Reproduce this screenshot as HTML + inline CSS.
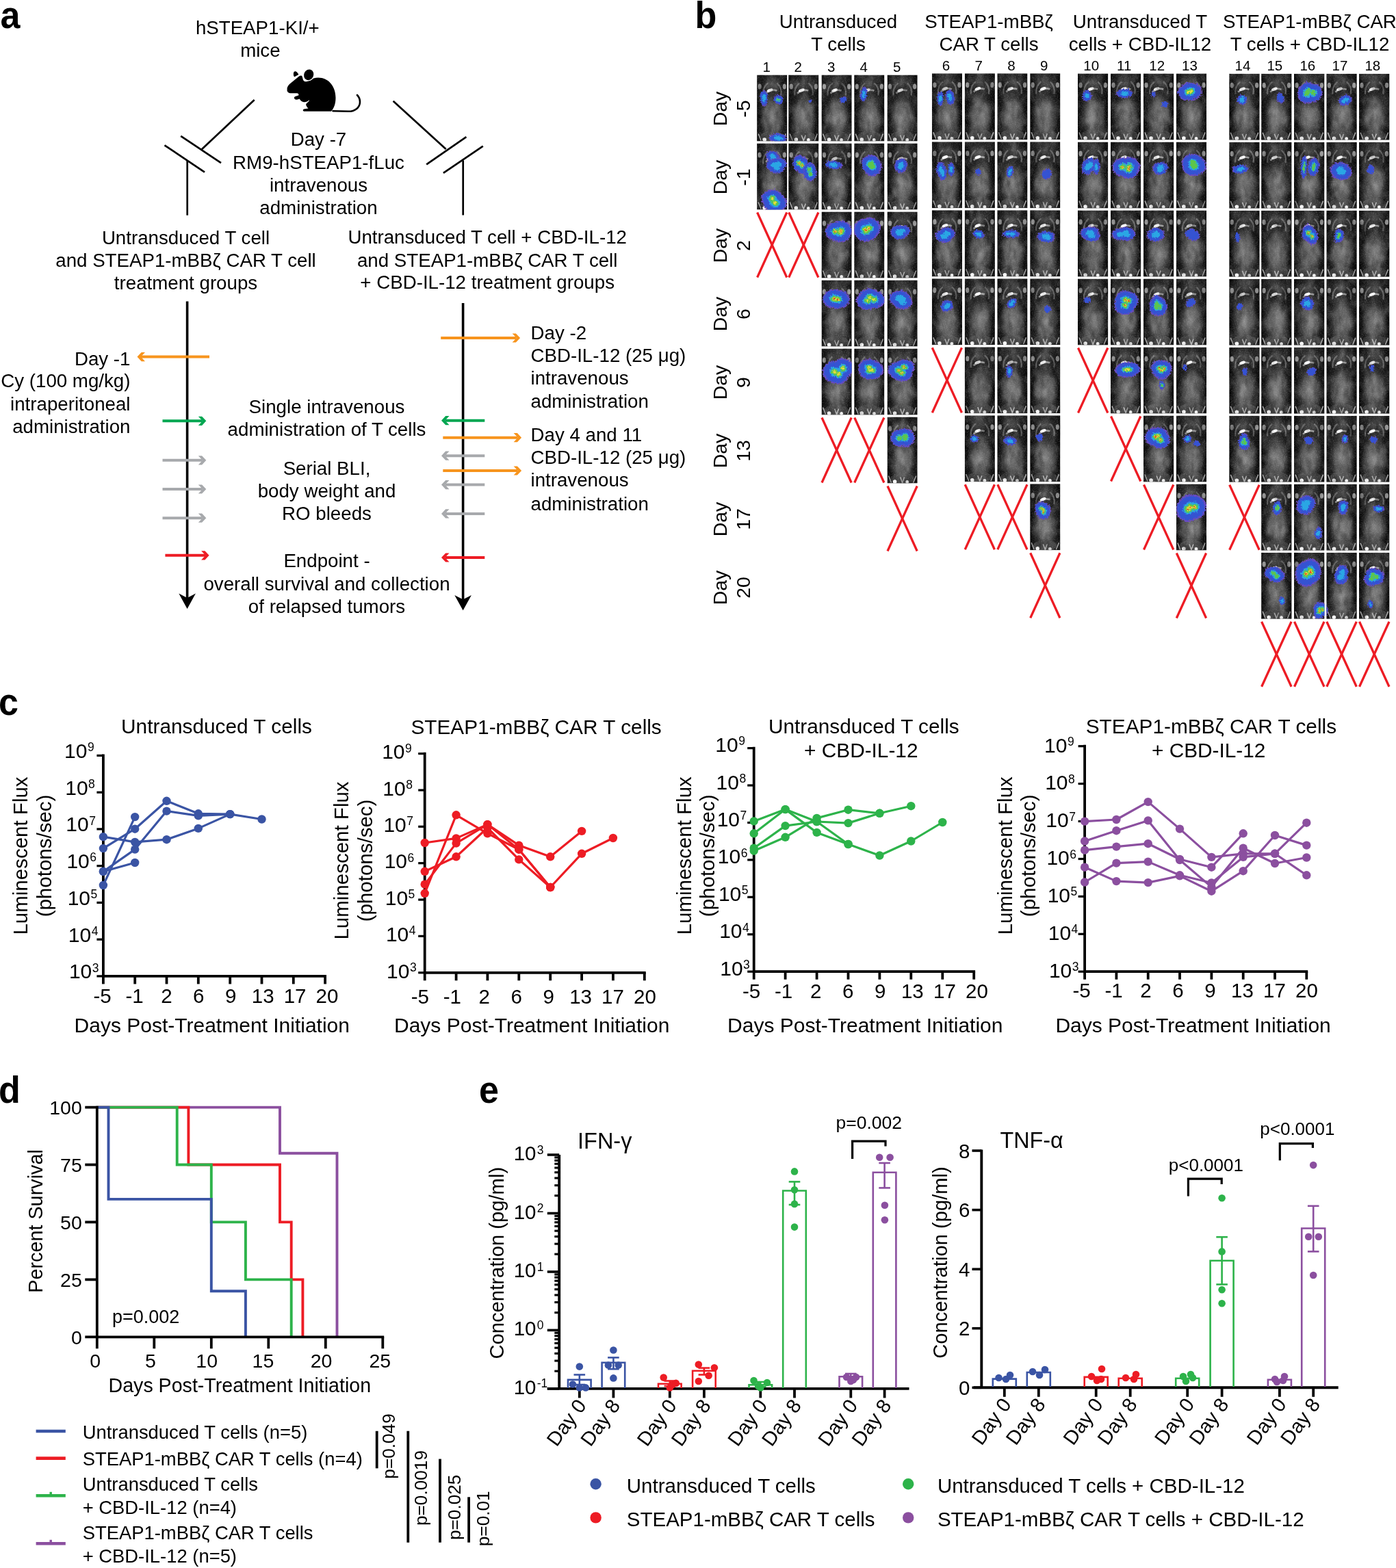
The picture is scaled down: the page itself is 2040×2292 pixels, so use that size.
<!DOCTYPE html>
<html><head><meta charset="utf-8"><title>Figure</title>
<style>html,body{margin:0;padding:0;background:#fff;} svg{display:block;}</style>
</head><body>
<svg width="2040" height="2292" viewBox="0 0 2040 2292" font-family="'Liberation Sans', Arial, Helvetica, sans-serif" fill="#000">
<defs>
<linearGradient id="mside" x1="0" x2="1" y1="0" y2="0">
 <stop offset="0" stop-color="#060606"/><stop offset="0.16" stop-color="#1a1a1a"/>
 <stop offset="0.5" stop-color="#2c2c2c"/><stop offset="0.84" stop-color="#1a1a1a"/><stop offset="1" stop-color="#060606"/>
</linearGradient>
<radialGradient id="mbody" cx="0.5" cy="0.5" r="0.5">
 <stop offset="0" stop-color="#868686" stop-opacity="0.92"/><stop offset="0.6" stop-color="#6c6c6c" stop-opacity="0.7"/>
 <stop offset="1" stop-color="#505050" stop-opacity="0"/>
</radialGradient>
<radialGradient id="mhead" cx="0.5" cy="0.5" r="0.5">
 <stop offset="0" stop-color="#505050" stop-opacity="0.9"/><stop offset="1" stop-color="#444" stop-opacity="0"/>
</radialGradient>
<filter id="tex" x="0" y="0" width="1" height="1" color-interpolation-filters="sRGB">
 <feTurbulence type="fractalNoise" baseFrequency="0.09 0.06" numOctaves="3" seed="7" result="n"/>
 <feColorMatrix in="n" type="matrix" values="0 0 0 0 1  0 0 0 0 1  0 0 0 0 1  0 0 1.6 0 -0.62"/>
</filter>
<filter id="tex2" x="0" y="0" width="1" height="1" color-interpolation-filters="sRGB">
 <feTurbulence type="fractalNoise" baseFrequency="0.11 0.05" numOctaves="2" seed="3" result="n"/>
 <feColorMatrix in="n" type="matrix" values="0 0 0 0 0  0 0 0 0 0  0 0 0 0 0  0 1.8 0 0 -0.75"/>
</filter>
<filter id="grain" x="0" y="0" width="1" height="1" color-interpolation-filters="sRGB">
 <feTurbulence type="fractalNoise" baseFrequency="0.6" numOctaves="1" seed="11" result="n"/>
 <feColorMatrix in="n" type="matrix" values="0 0 0 0 1  0 0 0 0 1  0 0 0 0 1  0 0 2.2 0 -1.0"/>
</filter>
<filter id="rough" x="-10%" y="-10%" width="120%" height="120%">
 <feTurbulence type="turbulence" baseFrequency="0.35" numOctaves="2" seed="5" result="t"/>
 <feDisplacementMap in="SourceGraphic" in2="t" scale="5" xChannelSelector="R" yChannelSelector="G"/>
</filter>
<symbol id="mouse" viewBox="0 0 44 97" preserveAspectRatio="none">
 <rect width="44" height="97" fill="url(#mside)"/>
 <ellipse cx="22.5" cy="62" rx="19" ry="34" fill="url(#mbody)"/>
 <ellipse cx="22" cy="90" rx="17" ry="8" fill="#5e5e5e" opacity="0.45"/>
 <ellipse cx="22" cy="13" rx="15" ry="12" fill="url(#mhead)"/>
 <path d="M9,30 Q8,18 16,12" fill="none" stroke="#9a9a9a" stroke-width="2.2" opacity="0.5"/>
 <path d="M35,30 Q37,18 29,12" fill="none" stroke="#9a9a9a" stroke-width="2.2" opacity="0.5"/>
 <path d="M13,27 Q20,20 29,23" fill="none" stroke="#b0b0b0" stroke-width="2.6" opacity="0.8"/>
 <ellipse cx="19" cy="22.5" rx="4.5" ry="2.2" transform="rotate(-20 19 22.5)" fill="#fafafa"/>
 <ellipse cx="4" cy="17" rx="2.6" ry="4" fill="#c0c0c0" opacity="0.7"/>
 <ellipse cx="40" cy="17" rx="2.6" ry="4" fill="#c0c0c0" opacity="0.7"/>
 <ellipse cx="11" cy="94.5" rx="2.8" ry="2.8" fill="#f6f6f6"/>
 <ellipse cx="29" cy="95" rx="2.4" ry="2.4" fill="#f0f0f0"/>
 <path d="M2,86 L6,96 M42,86 L38,96 M19,88 L22,96 L25,88" fill="none" stroke="#d8d8d8" stroke-width="1.6" opacity="0.75"/>
</symbol></defs>
<rect width="2040" height="2292" fill="#fff"/>
<text transform="translate(0.4,40.5) scale(0.93,1)" font-size="56" font-weight="bold">a</text>
<text x="376.3" y="49.6" font-size="27.7" text-anchor="middle">hSTEAP1-KI/+</text>
<text x="380.4" y="83.1" font-size="27.7" text-anchor="middle">mice</text>
<g fill="#000"><path d="M419.6,131 C419,128 421,125 423,123 L437,111.5 C439,110 441,110 441.5,111.5 L443,117 C445,120 448,120 452,117.5 C456,115 460,113.5 465,113.5 C480,113.5 490.5,126 490.5,143 C490.5,152 488,158 484,162.8 L445,162.8 C442,162.8 442,159.5 445,159.2 L450.5,158.6 C448,156 446.5,153 447.5,151.5 C450,149.5 451.5,148 452,146.5 C449,149 446,149.5 443,149 C440,148.5 439,146 437.5,144.5 C435.5,145.5 432,146.5 430.5,144.5 C429,142.5 430.5,141 433,140.5 L436.5,139.2 C436.5,138 436,136.5 434,136.3 L426,136.3 C421.5,136.3 419,134 419.6,131 Z"/><ellipse cx="451.2" cy="109.3" rx="7.6" ry="8.7" transform="rotate(25 451.2 109.3)" stroke="#fff" stroke-width="1.3"/><path d="M429.8,113.2 C427.3,109.5 427.8,104.6 430.8,103.8 C433,103.4 435.8,106.6 437.2,109.2 Z" stroke="#fff" stroke-width="1.1"/><path d="M486.5,162.3 L509,162.8 C519,162.8 526,157 526,149 C526,145 524.5,141.5 522,139" fill="none" stroke="#000" stroke-width="2.6" stroke-linecap="round"/><path d="M451.5,146.8 C449.5,148.8 447,150.5 446.5,152" fill="none" stroke="#fff" stroke-width="0.9"/></g>
<line x1="371.7" y1="146.0" x2="294.8" y2="218.2" stroke="#000" stroke-width="2.7" stroke-linecap="butt"/>
<line x1="264.2" y1="198.9" x2="323.0" y2="238.1" stroke="#000" stroke-width="2.7" stroke-linecap="butt"/>
<line x1="240.5" y1="212.3" x2="299.0" y2="251.7" stroke="#000" stroke-width="2.7" stroke-linecap="butt"/>
<line x1="273.7" y1="234.5" x2="273.7" y2="314.7" stroke="#000" stroke-width="2.7" stroke-linecap="butt"/>
<line x1="574.6" y1="147.7" x2="651.7" y2="218.0" stroke="#000" stroke-width="2.7" stroke-linecap="butt"/>
<line x1="623.2" y1="240.3" x2="681.4" y2="200.2" stroke="#000" stroke-width="2.7" stroke-linecap="butt"/>
<line x1="647.9" y1="252.8" x2="705.8" y2="213.6" stroke="#000" stroke-width="2.7" stroke-linecap="butt"/>
<line x1="676.7" y1="234.4" x2="676.7" y2="314.5" stroke="#000" stroke-width="2.7" stroke-linecap="butt"/>
<text x="465.5" y="213.2" font-size="27.7" text-anchor="middle">Day -7</text>
<text x="465.5" y="247.0" font-size="27.7" text-anchor="middle">RM9-hSTEAP1-fLuc</text>
<text x="465.5" y="279.7" font-size="27.7" text-anchor="middle">intravenous</text>
<text x="465.5" y="313.2" font-size="27.7" text-anchor="middle">administration</text>
<text x="271.5" y="357.3" font-size="27.7" text-anchor="middle">Untransduced T cell</text>
<text x="271.5" y="390.3" font-size="27.7" text-anchor="middle">and STEAP1-mBBζ CAR T cell</text>
<text x="271.5" y="423.3" font-size="27.7" text-anchor="middle">treatment groups</text>
<text x="712.2" y="356.0" font-size="27.7" text-anchor="middle">Untransduced T cell + CBD-IL-12</text>
<text x="712.2" y="389.6" font-size="27.7" text-anchor="middle">and STEAP1-mBBζ CAR T cell</text>
<text x="712.2" y="422.3" font-size="27.7" text-anchor="middle">+ CBD-IL-12 treatment groups</text>
<line x1="273.6" y1="440.6" x2="273.6" y2="877.9" stroke="#000" stroke-width="3.6" stroke-linecap="butt"/>
<path d="M273.6,889.9 L261.3,867.5 L273.6,873.9 L285.9,867.5 Z" fill="#000"/>
<line x1="676.6" y1="443.0" x2="676.6" y2="880.3" stroke="#000" stroke-width="3.6" stroke-linecap="butt"/>
<path d="M676.6,892.3 L664.3,869.9 L676.6,876.3 L688.9,869.9 Z" fill="#000"/>
<line x1="306.0" y1="521.6" x2="206.0" y2="521.6" stroke="#F7941D" stroke-width="4.0" stroke-linecap="butt"/><polygon points="200.5,521.6 206.7,515.0 212.0,515.0 205.8,521.6 212.0,528.2 206.7,528.2" fill="#F7941D"/>
<line x1="237.5" y1="615.3" x2="295.8" y2="615.3" stroke="#00A651" stroke-width="4.0" stroke-linecap="butt"/><polygon points="301.3,615.3 295.1,608.7 289.8,608.7 296.0,615.3 289.8,621.9 295.1,621.9" fill="#00A651"/>
<line x1="237.5" y1="672.8" x2="295.8" y2="672.8" stroke="#A7A9AC" stroke-width="4.0" stroke-linecap="butt"/><polygon points="301.3,672.8 295.1,666.2 289.8,666.2 296.0,672.8 289.8,679.4 295.1,679.4" fill="#A7A9AC"/>
<line x1="237.5" y1="715.0" x2="295.8" y2="715.0" stroke="#A7A9AC" stroke-width="4.0" stroke-linecap="butt"/><polygon points="301.3,715.0 295.1,708.4 289.8,708.4 296.0,715.0 289.8,721.6 295.1,721.6" fill="#A7A9AC"/>
<line x1="237.5" y1="757.2" x2="295.8" y2="757.2" stroke="#A7A9AC" stroke-width="4.0" stroke-linecap="butt"/><polygon points="301.3,757.2 295.1,750.6 289.8,750.6 296.0,757.2 289.8,763.8 295.1,763.8" fill="#A7A9AC"/>
<line x1="241.4" y1="811.8" x2="300.1" y2="811.8" stroke="#ED1C24" stroke-width="4.0" stroke-linecap="butt"/><polygon points="305.6,811.8 299.4,805.2 294.1,805.2 300.3,811.8 294.1,818.4 299.4,818.4" fill="#ED1C24"/>
<line x1="644.2" y1="494.0" x2="754.6" y2="494.0" stroke="#F7941D" stroke-width="4.0" stroke-linecap="butt"/><polygon points="760.1,494.0 753.9,487.4 748.6,487.4 754.8,494.0 748.6,500.6 753.9,500.6" fill="#F7941D"/>
<line x1="647.3" y1="639.7" x2="756.6" y2="639.7" stroke="#F7941D" stroke-width="4.0" stroke-linecap="butt"/><polygon points="762.1,639.7 755.9,633.1 750.6,633.1 756.8,639.7 750.6,646.3 755.9,646.3" fill="#F7941D"/>
<line x1="647.3" y1="688.0" x2="756.6" y2="688.0" stroke="#F7941D" stroke-width="4.0" stroke-linecap="butt"/><polygon points="762.1,688.0 755.9,681.4 750.6,681.4 756.8,688.0 750.6,694.6 755.9,694.6" fill="#F7941D"/>
<line x1="708.3" y1="614.7" x2="650.5" y2="614.7" stroke="#00A651" stroke-width="4.0" stroke-linecap="butt"/><polygon points="645.0,614.7 651.2,608.1 656.5,608.1 650.3,614.7 656.5,621.3 651.2,621.3" fill="#00A651"/>
<line x1="708.3" y1="666.2" x2="650.5" y2="666.2" stroke="#A7A9AC" stroke-width="4.0" stroke-linecap="butt"/><polygon points="645.0,666.2 651.2,659.6 656.5,659.6 650.3,666.2 656.5,672.8 651.2,672.8" fill="#A7A9AC"/>
<line x1="708.3" y1="708.6" x2="650.5" y2="708.6" stroke="#A7A9AC" stroke-width="4.0" stroke-linecap="butt"/><polygon points="645.0,708.6 651.2,702.0 656.5,702.0 650.3,708.6 656.5,715.2 651.2,715.2" fill="#A7A9AC"/>
<line x1="708.3" y1="750.9" x2="650.5" y2="750.9" stroke="#A7A9AC" stroke-width="4.0" stroke-linecap="butt"/><polygon points="645.0,750.9 651.2,744.3 656.5,744.3 650.3,750.9 656.5,757.5 651.2,757.5" fill="#A7A9AC"/>
<line x1="708.3" y1="815.0" x2="650.5" y2="815.0" stroke="#ED1C24" stroke-width="4.0" stroke-linecap="butt"/><polygon points="645.0,815.0 651.2,808.4 656.5,808.4 650.3,815.0 656.5,821.6 651.2,821.6" fill="#ED1C24"/>
<text x="190.5" y="533.5" font-size="27.7" text-anchor="end">Day -1</text>
<text x="190.5" y="565.7" font-size="27.7" text-anchor="end">Cy (100 mg/kg)</text>
<text x="190.5" y="600.2" font-size="27.7" text-anchor="end">intraperitoneal</text>
<text x="190.5" y="633.2" font-size="27.7" text-anchor="end">administration</text>
<text x="477.5" y="604.0" font-size="27.7" text-anchor="middle">Single intravenous</text>
<text x="477.5" y="636.9" font-size="27.7" text-anchor="middle">administration of T cells</text>
<text x="477.5" y="693.9" font-size="27.7" text-anchor="middle">Serial BLI,</text>
<text x="477.5" y="726.8" font-size="27.7" text-anchor="middle">body weight and</text>
<text x="477.5" y="759.6" font-size="27.7" text-anchor="middle">RO bleeds</text>
<text x="477.5" y="828.7" font-size="27.7" text-anchor="middle">Endpoint -</text>
<text x="477.5" y="862.8" font-size="27.7" text-anchor="middle">overall survival and collection</text>
<text x="477.5" y="895.7" font-size="27.7" text-anchor="middle">of relapsed tumors</text>
<text x="775.5" y="496.0" font-size="27.7" text-anchor="start">Day -2</text>
<text x="775.5" y="528.9" font-size="27.7" text-anchor="start">CBD-IL-12 (25 μg)</text>
<text x="775.5" y="561.7" font-size="27.7" text-anchor="start">intravenous</text>
<text x="775.5" y="596.0" font-size="27.7" text-anchor="start">administration</text>
<text x="775.5" y="644.8" font-size="27.7" text-anchor="start">Day 4 and 11</text>
<text x="775.5" y="678.1" font-size="27.7" text-anchor="start">CBD-IL-12 (25 μg)</text>
<text x="775.5" y="710.9" font-size="27.7" text-anchor="start">intravenous</text>
<text x="775.5" y="745.6" font-size="27.7" text-anchor="start">administration</text>
<text transform="translate(1015.4,41.0) scale(0.93,1)" font-size="56" font-weight="bold">b</text>
<text x="1225.0" y="41.2" font-size="27.7" text-anchor="middle">Untransduced</text>
<text x="1225.0" y="74.3" font-size="27.7" text-anchor="middle">T cells</text>
<text x="1445.0" y="41.2" font-size="27.7" text-anchor="middle">STEAP1-mBBζ</text>
<text x="1445.0" y="74.3" font-size="27.7" text-anchor="middle">CAR T cells</text>
<text x="1666.0" y="41.2" font-size="27.7" text-anchor="middle">Untransduced T</text>
<text x="1666.0" y="74.3" font-size="27.7" text-anchor="middle">cells + CBD-IL12</text>
<text x="1914.0" y="41.2" font-size="27.7" text-anchor="middle">STEAP1-mBBζ CAR</text>
<text x="1914.0" y="74.3" font-size="27.7" text-anchor="middle">T cells + CBD-IL12</text>
<text x="1120.2" y="104.8" font-size="20.5" text-anchor="middle">1</text>
<text x="1166.3" y="104.8" font-size="20.5" text-anchor="middle">2</text>
<text x="1214.6" y="104.8" font-size="20.5" text-anchor="middle">3</text>
<text x="1262.3" y="104.8" font-size="20.5" text-anchor="middle">4</text>
<text x="1310.6" y="104.8" font-size="20.5" text-anchor="middle">5</text>
<text x="1382.4" y="102.6" font-size="20.5" text-anchor="middle">6</text>
<text x="1430.3" y="102.6" font-size="20.5" text-anchor="middle">7</text>
<text x="1477.9" y="102.6" font-size="20.5" text-anchor="middle">8</text>
<text x="1525.8" y="102.6" font-size="20.5" text-anchor="middle">9</text>
<text x="1594.7" y="102.6" font-size="20.5" text-anchor="middle">10</text>
<text x="1642.7" y="102.6" font-size="20.5" text-anchor="middle">11</text>
<text x="1690.7" y="102.6" font-size="20.5" text-anchor="middle">12</text>
<text x="1738.5" y="102.6" font-size="20.5" text-anchor="middle">13</text>
<text x="1816.0" y="103.1" font-size="20.5" text-anchor="middle">14</text>
<text x="1862.8" y="103.1" font-size="20.5" text-anchor="middle">15</text>
<text x="1910.8" y="103.1" font-size="20.5" text-anchor="middle">16</text>
<text x="1958.0" y="103.1" font-size="20.5" text-anchor="middle">17</text>
<text x="2005.8" y="103.1" font-size="20.5" text-anchor="middle">18</text>
<text transform="translate(1061.9,159.0) rotate(-90)" font-size="28.5" text-anchor="middle">Day</text>
<text transform="translate(1095.5,159.0) rotate(-90)" font-size="28.5" text-anchor="middle">-5</text>
<text transform="translate(1061.9,259.0) rotate(-90)" font-size="28.5" text-anchor="middle">Day</text>
<text transform="translate(1095.5,259.0) rotate(-90)" font-size="28.5" text-anchor="middle">-1</text>
<text transform="translate(1061.9,359.0) rotate(-90)" font-size="28.5" text-anchor="middle">Day</text>
<text transform="translate(1095.5,359.0) rotate(-90)" font-size="28.5" text-anchor="middle">2</text>
<text transform="translate(1061.9,459.0) rotate(-90)" font-size="28.5" text-anchor="middle">Day</text>
<text transform="translate(1095.5,459.0) rotate(-90)" font-size="28.5" text-anchor="middle">6</text>
<text transform="translate(1061.9,559.0) rotate(-90)" font-size="28.5" text-anchor="middle">Day</text>
<text transform="translate(1095.5,559.0) rotate(-90)" font-size="28.5" text-anchor="middle">9</text>
<text transform="translate(1061.9,659.0) rotate(-90)" font-size="28.5" text-anchor="middle">Day</text>
<text transform="translate(1095.5,659.0) rotate(-90)" font-size="28.5" text-anchor="middle">13</text>
<text transform="translate(1061.9,759.0) rotate(-90)" font-size="28.5" text-anchor="middle">Day</text>
<text transform="translate(1095.5,759.0) rotate(-90)" font-size="28.5" text-anchor="middle">17</text>
<text transform="translate(1061.9,859.0) rotate(-90)" font-size="28.5" text-anchor="middle">Day</text>
<text transform="translate(1095.5,859.0) rotate(-90)" font-size="28.5" text-anchor="middle">20</text>
<clipPath id="cellclip"><rect x="1106.1" y="109.5" width="44.2" height="97.0"/><rect x="1106.1" y="209.5" width="44.2" height="97.0"/><rect x="1152.2" y="109.5" width="44.2" height="97.0"/><rect x="1152.2" y="209.5" width="44.2" height="97.0"/><rect x="1200.5" y="109.5" width="44.2" height="97.0"/><rect x="1200.5" y="209.5" width="44.2" height="97.0"/><rect x="1200.5" y="309.5" width="44.2" height="97.0"/><rect x="1200.5" y="409.5" width="44.2" height="97.0"/><rect x="1200.5" y="509.5" width="44.2" height="97.0"/><rect x="1248.2" y="109.5" width="44.2" height="97.0"/><rect x="1248.2" y="209.5" width="44.2" height="97.0"/><rect x="1248.2" y="309.5" width="44.2" height="97.0"/><rect x="1248.2" y="409.5" width="44.2" height="97.0"/><rect x="1248.2" y="509.5" width="44.2" height="97.0"/><rect x="1296.5" y="109.5" width="44.2" height="97.0"/><rect x="1296.5" y="209.5" width="44.2" height="97.0"/><rect x="1296.5" y="309.5" width="44.2" height="97.0"/><rect x="1296.5" y="409.5" width="44.2" height="97.0"/><rect x="1296.5" y="509.5" width="44.2" height="97.0"/><rect x="1296.5" y="609.5" width="44.2" height="97.0"/><rect x="1361.8" y="107.3" width="44.2" height="97.0"/><rect x="1361.8" y="207.3" width="44.2" height="97.0"/><rect x="1361.8" y="307.3" width="44.2" height="97.0"/><rect x="1361.8" y="407.3" width="44.2" height="97.0"/><rect x="1409.7" y="107.3" width="44.2" height="97.0"/><rect x="1409.7" y="207.3" width="44.2" height="97.0"/><rect x="1409.7" y="307.3" width="44.2" height="97.0"/><rect x="1409.7" y="407.3" width="44.2" height="97.0"/><rect x="1409.7" y="507.3" width="44.2" height="97.0"/><rect x="1409.7" y="607.3" width="44.2" height="97.0"/><rect x="1457.3" y="107.3" width="44.2" height="97.0"/><rect x="1457.3" y="207.3" width="44.2" height="97.0"/><rect x="1457.3" y="307.3" width="44.2" height="97.0"/><rect x="1457.3" y="407.3" width="44.2" height="97.0"/><rect x="1457.3" y="507.3" width="44.2" height="97.0"/><rect x="1457.3" y="607.3" width="44.2" height="97.0"/><rect x="1505.2" y="107.3" width="44.2" height="97.0"/><rect x="1505.2" y="207.3" width="44.2" height="97.0"/><rect x="1505.2" y="307.3" width="44.2" height="97.0"/><rect x="1505.2" y="407.3" width="44.2" height="97.0"/><rect x="1505.2" y="507.3" width="44.2" height="97.0"/><rect x="1505.2" y="607.3" width="44.2" height="97.0"/><rect x="1505.2" y="707.3" width="44.2" height="97.0"/><rect x="1575.0" y="107.5" width="44.3" height="97.0"/><rect x="1575.0" y="207.5" width="44.3" height="97.0"/><rect x="1575.0" y="307.5" width="44.3" height="97.0"/><rect x="1575.0" y="407.5" width="44.3" height="97.0"/><rect x="1623.0" y="107.5" width="44.3" height="97.0"/><rect x="1623.0" y="207.5" width="44.3" height="97.0"/><rect x="1623.0" y="307.5" width="44.3" height="97.0"/><rect x="1623.0" y="407.5" width="44.3" height="97.0"/><rect x="1623.0" y="507.5" width="44.3" height="97.0"/><rect x="1671.0" y="107.5" width="44.3" height="97.0"/><rect x="1671.0" y="207.5" width="44.3" height="97.0"/><rect x="1671.0" y="307.5" width="44.3" height="97.0"/><rect x="1671.0" y="407.5" width="44.3" height="97.0"/><rect x="1671.0" y="507.5" width="44.3" height="97.0"/><rect x="1671.0" y="607.5" width="44.3" height="97.0"/><rect x="1718.8" y="107.5" width="44.3" height="97.0"/><rect x="1718.8" y="207.5" width="44.3" height="97.0"/><rect x="1718.8" y="307.5" width="44.3" height="97.0"/><rect x="1718.8" y="407.5" width="44.3" height="97.0"/><rect x="1718.8" y="507.5" width="44.3" height="97.0"/><rect x="1718.8" y="607.5" width="44.3" height="97.0"/><rect x="1718.8" y="707.5" width="44.3" height="97.0"/><rect x="1796.2" y="107.7" width="44.5" height="97.0"/><rect x="1796.2" y="207.7" width="44.5" height="97.0"/><rect x="1796.2" y="307.7" width="44.5" height="97.0"/><rect x="1796.2" y="407.7" width="44.5" height="97.0"/><rect x="1796.2" y="507.7" width="44.5" height="97.0"/><rect x="1796.2" y="607.7" width="44.5" height="97.0"/><rect x="1843.1" y="107.7" width="44.5" height="97.0"/><rect x="1843.1" y="207.7" width="44.5" height="97.0"/><rect x="1843.1" y="307.7" width="44.5" height="97.0"/><rect x="1843.1" y="407.7" width="44.5" height="97.0"/><rect x="1843.1" y="507.7" width="44.5" height="97.0"/><rect x="1843.1" y="607.7" width="44.5" height="97.0"/><rect x="1843.1" y="707.7" width="44.5" height="97.0"/><rect x="1843.1" y="807.7" width="44.5" height="97.0"/><rect x="1891.0" y="107.7" width="44.5" height="97.0"/><rect x="1891.0" y="207.7" width="44.5" height="97.0"/><rect x="1891.0" y="307.7" width="44.5" height="97.0"/><rect x="1891.0" y="407.7" width="44.5" height="97.0"/><rect x="1891.0" y="507.7" width="44.5" height="97.0"/><rect x="1891.0" y="607.7" width="44.5" height="97.0"/><rect x="1891.0" y="707.7" width="44.5" height="97.0"/><rect x="1891.0" y="807.7" width="44.5" height="97.0"/><rect x="1938.3" y="107.7" width="44.5" height="97.0"/><rect x="1938.3" y="207.7" width="44.5" height="97.0"/><rect x="1938.3" y="307.7" width="44.5" height="97.0"/><rect x="1938.3" y="407.7" width="44.5" height="97.0"/><rect x="1938.3" y="507.7" width="44.5" height="97.0"/><rect x="1938.3" y="607.7" width="44.5" height="97.0"/><rect x="1938.3" y="707.7" width="44.5" height="97.0"/><rect x="1938.3" y="807.7" width="44.5" height="97.0"/><rect x="1986.0" y="107.7" width="44.5" height="97.0"/><rect x="1986.0" y="207.7" width="44.5" height="97.0"/><rect x="1986.0" y="307.7" width="44.5" height="97.0"/><rect x="1986.0" y="407.7" width="44.5" height="97.0"/><rect x="1986.0" y="507.7" width="44.5" height="97.0"/><rect x="1986.0" y="607.7" width="44.5" height="97.0"/><rect x="1986.0" y="707.7" width="44.5" height="97.0"/><rect x="1986.0" y="807.7" width="44.5" height="97.0"/></clipPath>
<g><use href="#mouse" x="1106.1" y="109.5" width="44.2" height="97.0"/><use href="#mouse" x="1106.1" y="209.5" width="44.2" height="97.0"/><use href="#mouse" x="1152.2" y="109.5" width="44.2" height="97.0"/><use href="#mouse" x="1152.2" y="209.5" width="44.2" height="97.0"/><use href="#mouse" x="1200.5" y="109.5" width="44.2" height="97.0"/><use href="#mouse" x="1200.5" y="209.5" width="44.2" height="97.0"/><use href="#mouse" x="1200.5" y="309.5" width="44.2" height="97.0"/><use href="#mouse" x="1200.5" y="409.5" width="44.2" height="97.0"/><use href="#mouse" x="1200.5" y="509.5" width="44.2" height="97.0"/><use href="#mouse" x="1248.2" y="109.5" width="44.2" height="97.0"/><use href="#mouse" x="1248.2" y="209.5" width="44.2" height="97.0"/><use href="#mouse" x="1248.2" y="309.5" width="44.2" height="97.0"/><use href="#mouse" x="1248.2" y="409.5" width="44.2" height="97.0"/><use href="#mouse" x="1248.2" y="509.5" width="44.2" height="97.0"/><use href="#mouse" x="1296.5" y="109.5" width="44.2" height="97.0"/><use href="#mouse" x="1296.5" y="209.5" width="44.2" height="97.0"/><use href="#mouse" x="1296.5" y="309.5" width="44.2" height="97.0"/><use href="#mouse" x="1296.5" y="409.5" width="44.2" height="97.0"/><use href="#mouse" x="1296.5" y="509.5" width="44.2" height="97.0"/><use href="#mouse" x="1296.5" y="609.5" width="44.2" height="97.0"/><use href="#mouse" x="1361.8" y="107.3" width="44.2" height="97.0"/><use href="#mouse" x="1361.8" y="207.3" width="44.2" height="97.0"/><use href="#mouse" x="1361.8" y="307.3" width="44.2" height="97.0"/><use href="#mouse" x="1361.8" y="407.3" width="44.2" height="97.0"/><use href="#mouse" x="1409.7" y="107.3" width="44.2" height="97.0"/><use href="#mouse" x="1409.7" y="207.3" width="44.2" height="97.0"/><use href="#mouse" x="1409.7" y="307.3" width="44.2" height="97.0"/><use href="#mouse" x="1409.7" y="407.3" width="44.2" height="97.0"/><use href="#mouse" x="1409.7" y="507.3" width="44.2" height="97.0"/><use href="#mouse" x="1409.7" y="607.3" width="44.2" height="97.0"/><use href="#mouse" x="1457.3" y="107.3" width="44.2" height="97.0"/><use href="#mouse" x="1457.3" y="207.3" width="44.2" height="97.0"/><use href="#mouse" x="1457.3" y="307.3" width="44.2" height="97.0"/><use href="#mouse" x="1457.3" y="407.3" width="44.2" height="97.0"/><use href="#mouse" x="1457.3" y="507.3" width="44.2" height="97.0"/><use href="#mouse" x="1457.3" y="607.3" width="44.2" height="97.0"/><use href="#mouse" x="1505.2" y="107.3" width="44.2" height="97.0"/><use href="#mouse" x="1505.2" y="207.3" width="44.2" height="97.0"/><use href="#mouse" x="1505.2" y="307.3" width="44.2" height="97.0"/><use href="#mouse" x="1505.2" y="407.3" width="44.2" height="97.0"/><use href="#mouse" x="1505.2" y="507.3" width="44.2" height="97.0"/><use href="#mouse" x="1505.2" y="607.3" width="44.2" height="97.0"/><use href="#mouse" x="1505.2" y="707.3" width="44.2" height="97.0"/><use href="#mouse" x="1575.0" y="107.5" width="44.3" height="97.0"/><use href="#mouse" x="1575.0" y="207.5" width="44.3" height="97.0"/><use href="#mouse" x="1575.0" y="307.5" width="44.3" height="97.0"/><use href="#mouse" x="1575.0" y="407.5" width="44.3" height="97.0"/><use href="#mouse" x="1623.0" y="107.5" width="44.3" height="97.0"/><use href="#mouse" x="1623.0" y="207.5" width="44.3" height="97.0"/><use href="#mouse" x="1623.0" y="307.5" width="44.3" height="97.0"/><use href="#mouse" x="1623.0" y="407.5" width="44.3" height="97.0"/><use href="#mouse" x="1623.0" y="507.5" width="44.3" height="97.0"/><use href="#mouse" x="1671.0" y="107.5" width="44.3" height="97.0"/><use href="#mouse" x="1671.0" y="207.5" width="44.3" height="97.0"/><use href="#mouse" x="1671.0" y="307.5" width="44.3" height="97.0"/><use href="#mouse" x="1671.0" y="407.5" width="44.3" height="97.0"/><use href="#mouse" x="1671.0" y="507.5" width="44.3" height="97.0"/><use href="#mouse" x="1671.0" y="607.5" width="44.3" height="97.0"/><use href="#mouse" x="1718.8" y="107.5" width="44.3" height="97.0"/><use href="#mouse" x="1718.8" y="207.5" width="44.3" height="97.0"/><use href="#mouse" x="1718.8" y="307.5" width="44.3" height="97.0"/><use href="#mouse" x="1718.8" y="407.5" width="44.3" height="97.0"/><use href="#mouse" x="1718.8" y="507.5" width="44.3" height="97.0"/><use href="#mouse" x="1718.8" y="607.5" width="44.3" height="97.0"/><use href="#mouse" x="1718.8" y="707.5" width="44.3" height="97.0"/><use href="#mouse" x="1796.2" y="107.7" width="44.5" height="97.0"/><use href="#mouse" x="1796.2" y="207.7" width="44.5" height="97.0"/><use href="#mouse" x="1796.2" y="307.7" width="44.5" height="97.0"/><use href="#mouse" x="1796.2" y="407.7" width="44.5" height="97.0"/><use href="#mouse" x="1796.2" y="507.7" width="44.5" height="97.0"/><use href="#mouse" x="1796.2" y="607.7" width="44.5" height="97.0"/><use href="#mouse" x="1843.1" y="107.7" width="44.5" height="97.0"/><use href="#mouse" x="1843.1" y="207.7" width="44.5" height="97.0"/><use href="#mouse" x="1843.1" y="307.7" width="44.5" height="97.0"/><use href="#mouse" x="1843.1" y="407.7" width="44.5" height="97.0"/><use href="#mouse" x="1843.1" y="507.7" width="44.5" height="97.0"/><use href="#mouse" x="1843.1" y="607.7" width="44.5" height="97.0"/><use href="#mouse" x="1843.1" y="707.7" width="44.5" height="97.0"/><use href="#mouse" x="1843.1" y="807.7" width="44.5" height="97.0"/><use href="#mouse" x="1891.0" y="107.7" width="44.5" height="97.0"/><use href="#mouse" x="1891.0" y="207.7" width="44.5" height="97.0"/><use href="#mouse" x="1891.0" y="307.7" width="44.5" height="97.0"/><use href="#mouse" x="1891.0" y="407.7" width="44.5" height="97.0"/><use href="#mouse" x="1891.0" y="507.7" width="44.5" height="97.0"/><use href="#mouse" x="1891.0" y="607.7" width="44.5" height="97.0"/><use href="#mouse" x="1891.0" y="707.7" width="44.5" height="97.0"/><use href="#mouse" x="1891.0" y="807.7" width="44.5" height="97.0"/><use href="#mouse" x="1938.3" y="107.7" width="44.5" height="97.0"/><use href="#mouse" x="1938.3" y="207.7" width="44.5" height="97.0"/><use href="#mouse" x="1938.3" y="307.7" width="44.5" height="97.0"/><use href="#mouse" x="1938.3" y="407.7" width="44.5" height="97.0"/><use href="#mouse" x="1938.3" y="507.7" width="44.5" height="97.0"/><use href="#mouse" x="1938.3" y="607.7" width="44.5" height="97.0"/><use href="#mouse" x="1938.3" y="707.7" width="44.5" height="97.0"/><use href="#mouse" x="1938.3" y="807.7" width="44.5" height="97.0"/><use href="#mouse" x="1986.0" y="107.7" width="44.5" height="97.0"/><use href="#mouse" x="1986.0" y="207.7" width="44.5" height="97.0"/><use href="#mouse" x="1986.0" y="307.7" width="44.5" height="97.0"/><use href="#mouse" x="1986.0" y="407.7" width="44.5" height="97.0"/><use href="#mouse" x="1986.0" y="507.7" width="44.5" height="97.0"/><use href="#mouse" x="1986.0" y="607.7" width="44.5" height="97.0"/><use href="#mouse" x="1986.0" y="707.7" width="44.5" height="97.0"/><use href="#mouse" x="1986.0" y="807.7" width="44.5" height="97.0"/></g>
<g clip-path="url(#cellclip)"><rect x="1100" y="100" width="940" height="820" filter="url(#tex)" opacity="0.22"/><rect x="1100" y="100" width="940" height="820" filter="url(#tex2)" opacity="0.4"/><rect x="1100" y="100" width="940" height="820" filter="url(#grain)" opacity="0.18"/></g>
<g clip-path="url(#cellclip)"><g filter="url(#rough)"><ellipse cx="1114.2" cy="140.0" rx="4.7" ry="8.6" fill="#6a4cc0"/><ellipse cx="1115.2" cy="144.8" rx="5.0" ry="9.2" fill="#6a4cc0"/><ellipse cx="1115.8" cy="140.2" rx="4.8" ry="8.9" fill="#6a4cc0"/><ellipse cx="1114.2" cy="140.0" rx="4.2" ry="7.6" fill="#3452d2"/><ellipse cx="1115.2" cy="144.8" rx="4.4" ry="8.1" fill="#3452d2"/><ellipse cx="1115.8" cy="140.2" rx="4.3" ry="7.8" fill="#3452d2"/><ellipse cx="1114.2" cy="140.0" rx="2.0" ry="3.6" fill="#2aa6e4"/><ellipse cx="1115.2" cy="144.8" rx="2.1" ry="3.9" fill="#2aa6e4"/><ellipse cx="1115.8" cy="140.2" rx="2.0" ry="3.7" fill="#2aa6e4"/><ellipse cx="1137.5" cy="144.7" rx="5.3" ry="6.3" fill="#6a4cc0"/><ellipse cx="1137.5" cy="144.7" rx="5.4" ry="6.4" fill="#6a4cc0"/><ellipse cx="1134.8" cy="144.0" rx="5.4" ry="6.4" fill="#6a4cc0"/><ellipse cx="1137.5" cy="144.7" rx="4.7" ry="5.5" fill="#3452d2"/><ellipse cx="1137.5" cy="144.7" rx="4.8" ry="5.7" fill="#3452d2"/><ellipse cx="1134.8" cy="144.0" rx="4.7" ry="5.6" fill="#3452d2"/><ellipse cx="1137.5" cy="144.7" rx="2.2" ry="2.6" fill="#2aa6e4"/><ellipse cx="1137.5" cy="144.7" rx="2.3" ry="2.7" fill="#2aa6e4"/><ellipse cx="1134.8" cy="144.0" rx="2.3" ry="2.7" fill="#2aa6e4"/><ellipse cx="1137.5" cy="144.7" rx="1.5" ry="1.8" fill="#5cc64c"/><ellipse cx="1137.5" cy="144.7" rx="1.5" ry="1.8" fill="#5cc64c"/><ellipse cx="1134.8" cy="144.0" rx="1.5" ry="1.8" fill="#5cc64c"/><ellipse cx="1135.7" cy="200.4" rx="12.0" ry="6.6" fill="#6a4cc0"/><ellipse cx="1133.8" cy="199.9" rx="10.8" ry="5.9" fill="#6a4cc0"/><ellipse cx="1138.0" cy="201.2" rx="10.7" ry="5.9" fill="#6a4cc0"/><ellipse cx="1135.7" cy="200.4" rx="10.6" ry="5.8" fill="#3452d2"/><ellipse cx="1133.8" cy="199.9" rx="9.5" ry="5.2" fill="#3452d2"/><ellipse cx="1138.0" cy="201.2" rx="9.4" ry="5.2" fill="#3452d2"/><ellipse cx="1135.7" cy="200.4" rx="5.0" ry="2.8" fill="#2aa6e4"/><ellipse cx="1133.8" cy="199.9" rx="4.5" ry="2.5" fill="#2aa6e4"/><ellipse cx="1138.0" cy="201.2" rx="4.5" ry="2.5" fill="#2aa6e4"/><ellipse cx="1128.9" cy="230.5" rx="9.1" ry="7.3" fill="#6a4cc0"/><ellipse cx="1127.2" cy="226.4" rx="9.0" ry="7.2" fill="#6a4cc0"/><ellipse cx="1128.6" cy="228.5" rx="9.1" ry="7.2" fill="#6a4cc0"/><ellipse cx="1128.9" cy="230.5" rx="8.0" ry="6.4" fill="#3452d2"/><ellipse cx="1127.2" cy="226.4" rx="8.0" ry="6.4" fill="#3452d2"/><ellipse cx="1128.6" cy="228.5" rx="8.0" ry="6.4" fill="#3452d2"/><ellipse cx="1128.9" cy="230.5" rx="3.8" ry="3.1" fill="#2aa6e4"/><ellipse cx="1127.2" cy="226.4" rx="3.8" ry="3.0" fill="#2aa6e4"/><ellipse cx="1128.6" cy="228.5" rx="3.8" ry="3.0" fill="#2aa6e4"/><ellipse cx="1135.6" cy="238.8" rx="13.0" ry="9.5" fill="#6a4cc0"/><ellipse cx="1129.5" cy="240.0" rx="11.4" ry="8.3" fill="#6a4cc0"/><ellipse cx="1134.0" cy="244.0" rx="11.4" ry="8.4" fill="#6a4cc0"/><ellipse cx="1135.6" cy="238.8" rx="11.4" ry="8.4" fill="#3452d2"/><ellipse cx="1129.5" cy="240.0" rx="10.0" ry="7.3" fill="#3452d2"/><ellipse cx="1134.0" cy="244.0" rx="10.1" ry="7.4" fill="#3452d2"/><ellipse cx="1135.6" cy="238.8" rx="5.5" ry="4.0" fill="#2aa6e4"/><ellipse cx="1129.5" cy="240.0" rx="4.8" ry="3.5" fill="#2aa6e4"/><ellipse cx="1134.0" cy="244.0" rx="4.8" ry="3.5" fill="#2aa6e4"/><ellipse cx="1130.8" cy="295.1" rx="15.8" ry="13.0" fill="#6a4cc0"/><ellipse cx="1127.2" cy="289.0" rx="16.0" ry="13.2" fill="#6a4cc0"/><ellipse cx="1131.5" cy="295.5" rx="17.5" ry="14.4" fill="#6a4cc0"/><ellipse cx="1130.8" cy="295.1" rx="13.9" ry="11.4" fill="#3452d2"/><ellipse cx="1127.2" cy="289.0" rx="14.1" ry="11.6" fill="#3452d2"/><ellipse cx="1131.5" cy="295.5" rx="15.4" ry="12.7" fill="#3452d2"/><ellipse cx="1130.8" cy="295.1" rx="6.6" ry="5.4" fill="#2aa6e4"/><ellipse cx="1127.2" cy="289.0" rx="6.7" ry="5.5" fill="#2aa6e4"/><ellipse cx="1131.5" cy="295.5" rx="7.4" ry="6.1" fill="#2aa6e4"/><ellipse cx="1130.8" cy="295.1" rx="4.4" ry="3.6" fill="#5cc64c"/><ellipse cx="1127.2" cy="289.0" rx="4.5" ry="3.7" fill="#5cc64c"/><ellipse cx="1131.5" cy="295.5" rx="4.9" ry="4.0" fill="#5cc64c"/><ellipse cx="1130.8" cy="295.1" rx="2.4" ry="1.9" fill="#e6dc3c"/><ellipse cx="1127.2" cy="289.0" rx="2.4" ry="2.0" fill="#e6dc3c"/><ellipse cx="1131.5" cy="295.5" rx="2.6" ry="2.2" fill="#e6dc3c"/><ellipse cx="1183.1" cy="146.4" rx="2.2" ry="1.9" fill="#6a4cc0"/><ellipse cx="1183.1" cy="146.4" rx="1.9" ry="1.7" fill="#3452d2"/><ellipse cx="1165.8" cy="237.0" rx="8.5" ry="11.9" fill="#6a4cc0"/><ellipse cx="1167.4" cy="237.4" rx="8.8" ry="12.3" fill="#6a4cc0"/><ellipse cx="1170.9" cy="240.2" rx="9.1" ry="12.7" fill="#6a4cc0"/><ellipse cx="1165.8" cy="237.0" rx="7.5" ry="10.5" fill="#3452d2"/><ellipse cx="1167.4" cy="237.4" rx="7.8" ry="10.8" fill="#3452d2"/><ellipse cx="1170.9" cy="240.2" rx="8.0" ry="11.2" fill="#3452d2"/><ellipse cx="1165.8" cy="237.0" rx="3.6" ry="5.0" fill="#2aa6e4"/><ellipse cx="1167.4" cy="237.4" rx="3.7" ry="5.2" fill="#2aa6e4"/><ellipse cx="1170.9" cy="240.2" rx="3.8" ry="5.3" fill="#2aa6e4"/><ellipse cx="1165.8" cy="237.0" rx="2.4" ry="3.3" fill="#5cc64c"/><ellipse cx="1167.4" cy="237.4" rx="2.5" ry="3.4" fill="#5cc64c"/><ellipse cx="1170.9" cy="240.2" rx="2.5" ry="3.5" fill="#5cc64c"/><ellipse cx="1165.8" cy="237.0" rx="1.3" ry="1.8" fill="#e6dc3c"/><ellipse cx="1167.4" cy="237.4" rx="1.3" ry="1.8" fill="#e6dc3c"/><ellipse cx="1170.9" cy="240.2" rx="1.4" ry="1.9" fill="#e6dc3c"/><ellipse cx="1165.8" cy="237.0" rx="0.8" ry="0.8" fill="#e2261e"/><ellipse cx="1167.4" cy="237.4" rx="0.8" ry="0.9" fill="#e2261e"/><ellipse cx="1170.9" cy="240.2" rx="0.8" ry="0.9" fill="#e2261e"/><ellipse cx="1181.7" cy="246.6" rx="9.4" ry="10.3" fill="#6a4cc0"/><ellipse cx="1183.4" cy="252.4" rx="8.7" ry="9.6" fill="#6a4cc0"/><ellipse cx="1182.9" cy="252.8" rx="9.6" ry="10.6" fill="#6a4cc0"/><ellipse cx="1181.7" cy="246.6" rx="8.3" ry="9.1" fill="#3452d2"/><ellipse cx="1183.4" cy="252.4" rx="7.7" ry="8.4" fill="#3452d2"/><ellipse cx="1182.9" cy="252.8" rx="8.5" ry="9.3" fill="#3452d2"/><ellipse cx="1181.7" cy="246.6" rx="3.9" ry="4.3" fill="#2aa6e4"/><ellipse cx="1183.4" cy="252.4" rx="3.7" ry="4.0" fill="#2aa6e4"/><ellipse cx="1182.9" cy="252.8" rx="4.0" ry="4.4" fill="#2aa6e4"/><ellipse cx="1181.7" cy="246.6" rx="2.6" ry="2.9" fill="#5cc64c"/><ellipse cx="1183.4" cy="252.4" rx="2.4" ry="2.7" fill="#5cc64c"/><ellipse cx="1182.9" cy="252.8" rx="2.7" ry="3.0" fill="#5cc64c"/><ellipse cx="1232.3" cy="143.7" rx="4.2" ry="3.7" fill="#6a4cc0"/><ellipse cx="1230.1" cy="145.3" rx="4.1" ry="3.6" fill="#6a4cc0"/><ellipse cx="1231.3" cy="145.4" rx="4.1" ry="3.6" fill="#6a4cc0"/><ellipse cx="1232.3" cy="143.7" rx="3.7" ry="3.2" fill="#3452d2"/><ellipse cx="1230.1" cy="145.3" rx="3.6" ry="3.1" fill="#3452d2"/><ellipse cx="1231.3" cy="145.4" rx="3.6" ry="3.2" fill="#3452d2"/><ellipse cx="1217.9" cy="240.4" rx="11.8" ry="5.7" fill="#6a4cc0"/><ellipse cx="1215.8" cy="239.4" rx="11.9" ry="5.8" fill="#6a4cc0"/><ellipse cx="1215.6" cy="238.5" rx="10.2" ry="5.0" fill="#6a4cc0"/><ellipse cx="1217.9" cy="240.4" rx="10.3" ry="5.0" fill="#3452d2"/><ellipse cx="1215.8" cy="239.4" rx="10.5" ry="5.1" fill="#3452d2"/><ellipse cx="1215.6" cy="238.5" rx="9.0" ry="4.4" fill="#3452d2"/><ellipse cx="1217.9" cy="240.4" rx="4.9" ry="2.4" fill="#2aa6e4"/><ellipse cx="1215.8" cy="239.4" rx="5.0" ry="2.4" fill="#2aa6e4"/><ellipse cx="1215.6" cy="238.5" rx="4.3" ry="2.1" fill="#2aa6e4"/><ellipse cx="1226.7" cy="338.7" rx="15.8" ry="14.1" fill="#6a4cc0"/><ellipse cx="1219.5" cy="337.1" rx="14.8" ry="13.2" fill="#6a4cc0"/><ellipse cx="1227.6" cy="335.6" rx="16.3" ry="14.5" fill="#6a4cc0"/><ellipse cx="1226.7" cy="338.7" rx="13.9" ry="12.4" fill="#3452d2"/><ellipse cx="1219.5" cy="337.1" rx="13.1" ry="11.6" fill="#3452d2"/><ellipse cx="1227.6" cy="335.6" rx="14.3" ry="12.7" fill="#3452d2"/><ellipse cx="1226.7" cy="338.7" rx="6.7" ry="5.9" fill="#2aa6e4"/><ellipse cx="1219.5" cy="337.1" rx="6.2" ry="5.5" fill="#2aa6e4"/><ellipse cx="1227.6" cy="335.6" rx="6.8" ry="6.1" fill="#2aa6e4"/><ellipse cx="1226.7" cy="338.7" rx="4.4" ry="3.9" fill="#5cc64c"/><ellipse cx="1219.5" cy="337.1" rx="4.2" ry="3.7" fill="#5cc64c"/><ellipse cx="1227.6" cy="335.6" rx="4.6" ry="4.1" fill="#5cc64c"/><ellipse cx="1226.7" cy="338.7" rx="2.4" ry="2.1" fill="#e6dc3c"/><ellipse cx="1219.5" cy="337.1" rx="2.2" ry="2.0" fill="#e6dc3c"/><ellipse cx="1227.6" cy="335.6" rx="2.4" ry="2.2" fill="#e6dc3c"/><ellipse cx="1226.7" cy="338.7" rx="1.1" ry="1.0" fill="#e2261e"/><ellipse cx="1219.5" cy="337.1" rx="1.0" ry="0.9" fill="#e2261e"/><ellipse cx="1227.6" cy="335.6" rx="1.1" ry="1.0" fill="#e2261e"/><ellipse cx="1222.8" cy="436.3" rx="17.8" ry="13.9" fill="#6a4cc0"/><ellipse cx="1218.0" cy="434.5" rx="16.5" ry="12.9" fill="#6a4cc0"/><ellipse cx="1217.8" cy="436.1" rx="17.0" ry="13.3" fill="#6a4cc0"/><ellipse cx="1222.8" cy="436.3" rx="15.7" ry="12.3" fill="#3452d2"/><ellipse cx="1218.0" cy="434.5" rx="14.5" ry="11.4" fill="#3452d2"/><ellipse cx="1217.8" cy="436.1" rx="15.0" ry="11.7" fill="#3452d2"/><ellipse cx="1222.8" cy="436.3" rx="7.5" ry="5.9" fill="#2aa6e4"/><ellipse cx="1218.0" cy="434.5" rx="6.9" ry="5.4" fill="#2aa6e4"/><ellipse cx="1217.8" cy="436.1" rx="7.1" ry="5.6" fill="#2aa6e4"/><ellipse cx="1222.8" cy="436.3" rx="5.0" ry="3.9" fill="#5cc64c"/><ellipse cx="1218.0" cy="434.5" rx="4.6" ry="3.6" fill="#5cc64c"/><ellipse cx="1217.8" cy="436.1" rx="4.8" ry="3.7" fill="#5cc64c"/><ellipse cx="1222.8" cy="436.3" rx="2.7" ry="2.1" fill="#e6dc3c"/><ellipse cx="1218.0" cy="434.5" rx="2.5" ry="1.9" fill="#e6dc3c"/><ellipse cx="1217.8" cy="436.1" rx="2.5" ry="2.0" fill="#e6dc3c"/><ellipse cx="1222.8" cy="436.3" rx="1.2" ry="1.0" fill="#e2261e"/><ellipse cx="1218.0" cy="434.5" rx="1.2" ry="0.9" fill="#e2261e"/><ellipse cx="1217.8" cy="436.1" rx="1.2" ry="0.9" fill="#e2261e"/><ellipse cx="1218.2" cy="542.4" rx="17.4" ry="16.2" fill="#6a4cc0"/><ellipse cx="1224.4" cy="545.5" rx="15.5" ry="14.5" fill="#6a4cc0"/><ellipse cx="1230.5" cy="537.3" rx="15.8" ry="14.8" fill="#6a4cc0"/><ellipse cx="1218.2" cy="542.4" rx="15.3" ry="14.2" fill="#3452d2"/><ellipse cx="1224.4" cy="545.5" rx="13.6" ry="12.7" fill="#3452d2"/><ellipse cx="1230.5" cy="537.3" rx="13.9" ry="13.0" fill="#3452d2"/><ellipse cx="1218.2" cy="542.4" rx="7.3" ry="6.8" fill="#2aa6e4"/><ellipse cx="1224.4" cy="545.5" rx="6.5" ry="6.1" fill="#2aa6e4"/><ellipse cx="1230.5" cy="537.3" rx="6.6" ry="6.2" fill="#2aa6e4"/><ellipse cx="1218.2" cy="542.4" rx="4.9" ry="4.5" fill="#5cc64c"/><ellipse cx="1224.4" cy="545.5" rx="4.3" ry="4.0" fill="#5cc64c"/><ellipse cx="1230.5" cy="537.3" rx="4.4" ry="4.1" fill="#5cc64c"/><ellipse cx="1218.2" cy="542.4" rx="2.6" ry="2.4" fill="#e6dc3c"/><ellipse cx="1224.4" cy="545.5" rx="2.3" ry="2.2" fill="#e6dc3c"/><ellipse cx="1230.5" cy="537.3" rx="2.4" ry="2.2" fill="#e6dc3c"/><ellipse cx="1260.5" cy="136.2" rx="4.2" ry="8.5" fill="#6a4cc0"/><ellipse cx="1261.6" cy="135.6" rx="4.7" ry="9.4" fill="#6a4cc0"/><ellipse cx="1260.5" cy="138.2" rx="4.4" ry="8.7" fill="#6a4cc0"/><ellipse cx="1260.5" cy="136.2" rx="3.7" ry="7.5" fill="#3452d2"/><ellipse cx="1261.6" cy="135.6" rx="4.1" ry="8.3" fill="#3452d2"/><ellipse cx="1260.5" cy="138.2" rx="3.8" ry="7.7" fill="#3452d2"/><ellipse cx="1260.5" cy="136.2" rx="1.8" ry="3.6" fill="#2aa6e4"/><ellipse cx="1261.6" cy="135.6" rx="2.0" ry="3.9" fill="#2aa6e4"/><ellipse cx="1260.5" cy="138.2" rx="1.8" ry="3.7" fill="#2aa6e4"/><ellipse cx="1273.5" cy="242.2" rx="13.9" ry="14.3" fill="#6a4cc0"/><ellipse cx="1269.9" cy="238.2" rx="12.1" ry="12.5" fill="#6a4cc0"/><ellipse cx="1272.1" cy="237.6" rx="12.2" ry="12.6" fill="#6a4cc0"/><ellipse cx="1273.5" cy="242.2" rx="12.2" ry="12.6" fill="#3452d2"/><ellipse cx="1269.9" cy="238.2" rx="10.7" ry="11.0" fill="#3452d2"/><ellipse cx="1272.1" cy="237.6" rx="10.7" ry="11.0" fill="#3452d2"/><ellipse cx="1273.5" cy="242.2" rx="5.8" ry="6.0" fill="#2aa6e4"/><ellipse cx="1269.9" cy="238.2" rx="5.1" ry="5.2" fill="#2aa6e4"/><ellipse cx="1272.1" cy="237.6" rx="5.1" ry="5.3" fill="#2aa6e4"/><ellipse cx="1273.5" cy="242.2" rx="3.9" ry="4.0" fill="#5cc64c"/><ellipse cx="1269.9" cy="238.2" rx="3.4" ry="3.5" fill="#5cc64c"/><ellipse cx="1272.1" cy="237.6" rx="3.4" ry="3.5" fill="#5cc64c"/><ellipse cx="1264.1" cy="336.0" rx="17.9" ry="15.9" fill="#6a4cc0"/><ellipse cx="1268.5" cy="332.0" rx="17.1" ry="15.2" fill="#6a4cc0"/><ellipse cx="1263.6" cy="334.4" rx="18.2" ry="16.2" fill="#6a4cc0"/><ellipse cx="1264.1" cy="336.0" rx="15.7" ry="14.0" fill="#3452d2"/><ellipse cx="1268.5" cy="332.0" rx="15.1" ry="13.4" fill="#3452d2"/><ellipse cx="1263.6" cy="334.4" rx="16.0" ry="14.2" fill="#3452d2"/><ellipse cx="1264.1" cy="336.0" rx="7.5" ry="6.7" fill="#2aa6e4"/><ellipse cx="1268.5" cy="332.0" rx="7.2" ry="6.4" fill="#2aa6e4"/><ellipse cx="1263.6" cy="334.4" rx="7.6" ry="6.8" fill="#2aa6e4"/><ellipse cx="1264.1" cy="336.0" rx="5.0" ry="4.5" fill="#5cc64c"/><ellipse cx="1268.5" cy="332.0" rx="4.8" ry="4.3" fill="#5cc64c"/><ellipse cx="1263.6" cy="334.4" rx="5.1" ry="4.5" fill="#5cc64c"/><ellipse cx="1264.1" cy="336.0" rx="2.7" ry="2.4" fill="#e6dc3c"/><ellipse cx="1268.5" cy="332.0" rx="2.6" ry="2.3" fill="#e6dc3c"/><ellipse cx="1263.6" cy="334.4" rx="2.7" ry="2.4" fill="#e6dc3c"/><ellipse cx="1264.1" cy="336.0" rx="1.3" ry="1.1" fill="#e2261e"/><ellipse cx="1268.5" cy="332.0" rx="1.2" ry="1.1" fill="#e2261e"/><ellipse cx="1263.6" cy="334.4" rx="1.3" ry="1.1" fill="#e2261e"/><ellipse cx="1266.5" cy="438.3" rx="16.5" ry="13.5" fill="#6a4cc0"/><ellipse cx="1269.8" cy="433.2" rx="15.9" ry="13.0" fill="#6a4cc0"/><ellipse cx="1276.1" cy="436.5" rx="16.2" ry="13.3" fill="#6a4cc0"/><ellipse cx="1266.5" cy="438.3" rx="14.5" ry="11.9" fill="#3452d2"/><ellipse cx="1269.8" cy="433.2" rx="14.0" ry="11.5" fill="#3452d2"/><ellipse cx="1276.1" cy="436.5" rx="14.2" ry="11.7" fill="#3452d2"/><ellipse cx="1266.5" cy="438.3" rx="6.9" ry="5.7" fill="#2aa6e4"/><ellipse cx="1269.8" cy="433.2" rx="6.7" ry="5.5" fill="#2aa6e4"/><ellipse cx="1276.1" cy="436.5" rx="6.8" ry="5.6" fill="#2aa6e4"/><ellipse cx="1266.5" cy="438.3" rx="4.6" ry="3.8" fill="#5cc64c"/><ellipse cx="1269.8" cy="433.2" rx="4.4" ry="3.7" fill="#5cc64c"/><ellipse cx="1276.1" cy="436.5" rx="4.5" ry="3.7" fill="#5cc64c"/><ellipse cx="1266.5" cy="438.3" rx="2.5" ry="2.0" fill="#e6dc3c"/><ellipse cx="1269.8" cy="433.2" rx="2.4" ry="2.0" fill="#e6dc3c"/><ellipse cx="1276.1" cy="436.5" rx="2.4" ry="2.0" fill="#e6dc3c"/><ellipse cx="1268.6" cy="536.3" rx="15.6" ry="12.9" fill="#6a4cc0"/><ellipse cx="1269.6" cy="540.6" rx="15.6" ry="12.9" fill="#6a4cc0"/><ellipse cx="1273.2" cy="539.7" rx="16.7" ry="13.7" fill="#6a4cc0"/><ellipse cx="1268.6" cy="536.3" rx="13.7" ry="11.3" fill="#3452d2"/><ellipse cx="1269.6" cy="540.6" rx="13.8" ry="11.3" fill="#3452d2"/><ellipse cx="1273.2" cy="539.7" rx="14.7" ry="12.1" fill="#3452d2"/><ellipse cx="1268.6" cy="536.3" rx="6.6" ry="5.4" fill="#2aa6e4"/><ellipse cx="1269.6" cy="540.6" rx="6.6" ry="5.4" fill="#2aa6e4"/><ellipse cx="1273.2" cy="539.7" rx="7.0" ry="5.8" fill="#2aa6e4"/><ellipse cx="1268.6" cy="536.3" rx="4.4" ry="3.6" fill="#5cc64c"/><ellipse cx="1269.6" cy="540.6" rx="4.4" ry="3.6" fill="#5cc64c"/><ellipse cx="1273.2" cy="539.7" rx="4.7" ry="3.8" fill="#5cc64c"/><ellipse cx="1268.6" cy="536.3" rx="2.3" ry="1.9" fill="#e6dc3c"/><ellipse cx="1269.6" cy="540.6" rx="2.3" ry="1.9" fill="#e6dc3c"/><ellipse cx="1273.2" cy="539.7" rx="2.5" ry="2.1" fill="#e6dc3c"/><ellipse cx="1314.6" cy="242.3" rx="8.7" ry="9.5" fill="#6a4cc0"/><ellipse cx="1316.2" cy="239.6" rx="8.4" ry="9.2" fill="#6a4cc0"/><ellipse cx="1314.6" cy="240.7" rx="8.8" ry="9.6" fill="#6a4cc0"/><ellipse cx="1314.6" cy="242.3" rx="7.6" ry="8.4" fill="#3452d2"/><ellipse cx="1316.2" cy="239.6" rx="7.4" ry="8.1" fill="#3452d2"/><ellipse cx="1314.6" cy="240.7" rx="7.7" ry="8.5" fill="#3452d2"/><ellipse cx="1314.6" cy="242.3" rx="3.6" ry="4.0" fill="#2aa6e4"/><ellipse cx="1316.2" cy="239.6" rx="3.5" ry="3.9" fill="#2aa6e4"/><ellipse cx="1314.6" cy="240.7" rx="3.7" ry="4.0" fill="#2aa6e4"/><ellipse cx="1312.9" cy="337.4" rx="12.8" ry="9.4" fill="#6a4cc0"/><ellipse cx="1317.5" cy="336.4" rx="11.5" ry="8.4" fill="#6a4cc0"/><ellipse cx="1313.0" cy="339.8" rx="12.2" ry="8.9" fill="#6a4cc0"/><ellipse cx="1312.9" cy="337.4" rx="11.3" ry="8.3" fill="#3452d2"/><ellipse cx="1317.5" cy="336.4" rx="10.1" ry="7.4" fill="#3452d2"/><ellipse cx="1313.0" cy="339.8" rx="10.7" ry="7.9" fill="#3452d2"/><ellipse cx="1312.9" cy="337.4" rx="5.4" ry="3.9" fill="#2aa6e4"/><ellipse cx="1317.5" cy="336.4" rx="4.8" ry="3.5" fill="#2aa6e4"/><ellipse cx="1313.0" cy="339.8" rx="5.1" ry="3.7" fill="#2aa6e4"/><ellipse cx="1313.5" cy="434.7" rx="15.4" ry="11.6" fill="#6a4cc0"/><ellipse cx="1317.7" cy="440.5" rx="13.9" ry="10.5" fill="#6a4cc0"/><ellipse cx="1316.7" cy="436.4" rx="13.6" ry="10.2" fill="#6a4cc0"/><ellipse cx="1313.5" cy="434.7" rx="13.6" ry="10.2" fill="#3452d2"/><ellipse cx="1317.7" cy="440.5" rx="12.3" ry="9.2" fill="#3452d2"/><ellipse cx="1316.7" cy="436.4" rx="12.0" ry="9.0" fill="#3452d2"/><ellipse cx="1313.5" cy="434.7" rx="6.5" ry="4.9" fill="#2aa6e4"/><ellipse cx="1317.7" cy="440.5" rx="5.9" ry="4.4" fill="#2aa6e4"/><ellipse cx="1316.7" cy="436.4" rx="5.7" ry="4.3" fill="#2aa6e4"/><ellipse cx="1311.6" cy="539.8" rx="15.8" ry="12.1" fill="#6a4cc0"/><ellipse cx="1316.4" cy="543.8" rx="16.2" ry="12.4" fill="#6a4cc0"/><ellipse cx="1319.9" cy="535.4" rx="15.2" ry="11.6" fill="#6a4cc0"/><ellipse cx="1311.6" cy="539.8" rx="13.9" ry="10.7" fill="#3452d2"/><ellipse cx="1316.4" cy="543.8" rx="14.3" ry="11.0" fill="#3452d2"/><ellipse cx="1319.9" cy="535.4" rx="13.3" ry="10.2" fill="#3452d2"/><ellipse cx="1311.6" cy="539.8" rx="6.6" ry="5.1" fill="#2aa6e4"/><ellipse cx="1316.4" cy="543.8" rx="6.8" ry="5.2" fill="#2aa6e4"/><ellipse cx="1319.9" cy="535.4" rx="6.4" ry="4.9" fill="#2aa6e4"/><ellipse cx="1311.6" cy="539.8" rx="4.4" ry="3.4" fill="#5cc64c"/><ellipse cx="1316.4" cy="543.8" rx="4.5" ry="3.5" fill="#5cc64c"/><ellipse cx="1319.9" cy="535.4" rx="4.2" ry="3.3" fill="#5cc64c"/><ellipse cx="1311.6" cy="539.8" rx="2.4" ry="1.8" fill="#e6dc3c"/><ellipse cx="1316.4" cy="543.8" rx="2.4" ry="1.9" fill="#e6dc3c"/><ellipse cx="1319.9" cy="535.4" rx="2.3" ry="1.7" fill="#e6dc3c"/><ellipse cx="1311.6" cy="539.8" rx="1.1" ry="0.8" fill="#e2261e"/><ellipse cx="1316.4" cy="543.8" rx="1.1" ry="0.9" fill="#e2261e"/><ellipse cx="1319.9" cy="535.4" rx="1.1" ry="0.8" fill="#e2261e"/><ellipse cx="1321.6" cy="638.6" rx="14.1" ry="13.5" fill="#6a4cc0"/><ellipse cx="1321.1" cy="636.4" rx="12.4" ry="11.9" fill="#6a4cc0"/><ellipse cx="1313.0" cy="638.9" rx="12.9" ry="12.4" fill="#6a4cc0"/><ellipse cx="1321.6" cy="638.6" rx="12.4" ry="11.9" fill="#3452d2"/><ellipse cx="1321.1" cy="636.4" rx="10.9" ry="10.5" fill="#3452d2"/><ellipse cx="1313.0" cy="638.9" rx="11.3" ry="10.9" fill="#3452d2"/><ellipse cx="1321.6" cy="638.6" rx="5.9" ry="5.7" fill="#2aa6e4"/><ellipse cx="1321.1" cy="636.4" rx="5.2" ry="5.0" fill="#2aa6e4"/><ellipse cx="1313.0" cy="638.9" rx="5.4" ry="5.2" fill="#2aa6e4"/><ellipse cx="1321.6" cy="638.6" rx="3.9" ry="3.8" fill="#5cc64c"/><ellipse cx="1321.1" cy="636.4" rx="3.5" ry="3.3" fill="#5cc64c"/><ellipse cx="1313.0" cy="638.9" rx="3.6" ry="3.5" fill="#5cc64c"/><ellipse cx="1373.8" cy="142.2" rx="3.5" ry="9.7" fill="#6a4cc0"/><ellipse cx="1372.7" cy="144.7" rx="3.2" ry="8.9" fill="#6a4cc0"/><ellipse cx="1371.6" cy="143.0" rx="3.5" ry="9.7" fill="#6a4cc0"/><ellipse cx="1373.8" cy="142.2" rx="3.1" ry="8.5" fill="#3452d2"/><ellipse cx="1372.7" cy="144.7" rx="2.9" ry="7.8" fill="#3452d2"/><ellipse cx="1371.6" cy="143.0" rx="3.1" ry="8.5" fill="#3452d2"/><ellipse cx="1373.8" cy="142.2" rx="1.5" ry="4.1" fill="#2aa6e4"/><ellipse cx="1372.7" cy="144.7" rx="1.4" ry="3.7" fill="#2aa6e4"/><ellipse cx="1371.6" cy="143.0" rx="1.5" ry="4.1" fill="#2aa6e4"/><ellipse cx="1386.2" cy="138.2" rx="5.8" ry="8.5" fill="#6a4cc0"/><ellipse cx="1387.6" cy="143.0" rx="6.2" ry="9.1" fill="#6a4cc0"/><ellipse cx="1386.1" cy="138.4" rx="5.7" ry="8.3" fill="#6a4cc0"/><ellipse cx="1386.2" cy="138.2" rx="5.1" ry="7.5" fill="#3452d2"/><ellipse cx="1387.6" cy="143.0" rx="5.5" ry="8.0" fill="#3452d2"/><ellipse cx="1386.1" cy="138.4" rx="5.0" ry="7.3" fill="#3452d2"/><ellipse cx="1386.2" cy="138.2" rx="2.4" ry="3.6" fill="#2aa6e4"/><ellipse cx="1387.6" cy="143.0" rx="2.6" ry="3.8" fill="#2aa6e4"/><ellipse cx="1386.1" cy="138.4" rx="2.4" ry="3.5" fill="#2aa6e4"/><ellipse cx="1373.3" cy="246.3" rx="6.5" ry="11.4" fill="#6a4cc0"/><ellipse cx="1376.5" cy="251.9" rx="5.7" ry="10.0" fill="#6a4cc0"/><ellipse cx="1375.9" cy="251.5" rx="6.3" ry="11.1" fill="#6a4cc0"/><ellipse cx="1373.3" cy="246.3" rx="5.7" ry="10.0" fill="#3452d2"/><ellipse cx="1376.5" cy="251.9" rx="5.0" ry="8.8" fill="#3452d2"/><ellipse cx="1375.9" cy="251.5" rx="5.6" ry="9.7" fill="#3452d2"/><ellipse cx="1373.3" cy="246.3" rx="2.7" ry="4.8" fill="#2aa6e4"/><ellipse cx="1376.5" cy="251.9" rx="2.4" ry="4.2" fill="#2aa6e4"/><ellipse cx="1375.9" cy="251.5" rx="2.6" ry="4.7" fill="#2aa6e4"/><ellipse cx="1389.3" cy="246.3" rx="4.3" ry="9.5" fill="#6a4cc0"/><ellipse cx="1389.2" cy="247.3" rx="4.2" ry="9.1" fill="#6a4cc0"/><ellipse cx="1388.0" cy="245.7" rx="4.1" ry="9.0" fill="#6a4cc0"/><ellipse cx="1389.3" cy="246.3" rx="3.8" ry="8.4" fill="#3452d2"/><ellipse cx="1389.2" cy="247.3" rx="3.7" ry="8.0" fill="#3452d2"/><ellipse cx="1388.0" cy="245.7" rx="3.6" ry="7.9" fill="#3452d2"/><ellipse cx="1389.3" cy="246.3" rx="1.8" ry="4.0" fill="#2aa6e4"/><ellipse cx="1389.2" cy="247.3" rx="1.8" ry="3.8" fill="#2aa6e4"/><ellipse cx="1388.0" cy="245.7" rx="1.7" ry="3.8" fill="#2aa6e4"/><ellipse cx="1382.4" cy="340.3" rx="12.7" ry="9.3" fill="#6a4cc0"/><ellipse cx="1379.7" cy="344.0" rx="12.6" ry="9.2" fill="#6a4cc0"/><ellipse cx="1378.4" cy="343.7" rx="12.8" ry="9.3" fill="#6a4cc0"/><ellipse cx="1382.4" cy="340.3" rx="11.2" ry="8.2" fill="#3452d2"/><ellipse cx="1379.7" cy="344.0" rx="11.1" ry="8.1" fill="#3452d2"/><ellipse cx="1378.4" cy="343.7" rx="11.2" ry="8.2" fill="#3452d2"/><ellipse cx="1382.4" cy="340.3" rx="5.3" ry="3.9" fill="#2aa6e4"/><ellipse cx="1379.7" cy="344.0" rx="5.3" ry="3.9" fill="#2aa6e4"/><ellipse cx="1378.4" cy="343.7" rx="5.4" ry="3.9" fill="#2aa6e4"/><ellipse cx="1383.8" cy="445.2" rx="8.0" ry="7.8" fill="#6a4cc0"/><ellipse cx="1383.4" cy="444.1" rx="7.0" ry="6.8" fill="#6a4cc0"/><ellipse cx="1381.4" cy="447.1" rx="7.8" ry="7.6" fill="#6a4cc0"/><ellipse cx="1383.8" cy="445.2" rx="7.0" ry="6.8" fill="#3452d2"/><ellipse cx="1383.4" cy="444.1" rx="6.2" ry="6.0" fill="#3452d2"/><ellipse cx="1381.4" cy="447.1" rx="6.9" ry="6.7" fill="#3452d2"/><ellipse cx="1383.8" cy="445.2" rx="3.3" ry="3.3" fill="#2aa6e4"/><ellipse cx="1383.4" cy="444.1" rx="2.9" ry="2.9" fill="#2aa6e4"/><ellipse cx="1381.4" cy="447.1" rx="3.3" ry="3.2" fill="#2aa6e4"/><ellipse cx="1428.3" cy="250.0" rx="3.9" ry="4.2" fill="#6a4cc0"/><ellipse cx="1428.1" cy="249.5" rx="4.2" ry="4.6" fill="#6a4cc0"/><ellipse cx="1428.8" cy="250.8" rx="3.8" ry="4.1" fill="#6a4cc0"/><ellipse cx="1428.3" cy="250.0" rx="3.4" ry="3.7" fill="#3452d2"/><ellipse cx="1428.1" cy="249.5" rx="3.7" ry="4.0" fill="#3452d2"/><ellipse cx="1428.8" cy="250.8" rx="3.3" ry="3.6" fill="#3452d2"/><ellipse cx="1428.3" cy="339.9" rx="8.4" ry="5.5" fill="#6a4cc0"/><ellipse cx="1429.2" cy="340.8" rx="7.7" ry="5.0" fill="#6a4cc0"/><ellipse cx="1429.5" cy="342.4" rx="7.9" ry="5.2" fill="#6a4cc0"/><ellipse cx="1428.3" cy="339.9" rx="7.4" ry="4.9" fill="#3452d2"/><ellipse cx="1429.2" cy="340.8" rx="6.7" ry="4.4" fill="#3452d2"/><ellipse cx="1429.5" cy="342.4" rx="6.9" ry="4.6" fill="#3452d2"/><ellipse cx="1428.3" cy="339.9" rx="3.5" ry="2.3" fill="#2aa6e4"/><ellipse cx="1429.2" cy="340.8" rx="3.2" ry="2.1" fill="#2aa6e4"/><ellipse cx="1429.5" cy="342.4" rx="3.3" ry="2.2" fill="#2aa6e4"/><ellipse cx="1421.5" cy="640.0" rx="4.7" ry="5.1" fill="#6a4cc0"/><ellipse cx="1422.1" cy="640.2" rx="4.9" ry="5.4" fill="#6a4cc0"/><ellipse cx="1424.6" cy="640.0" rx="4.6" ry="5.0" fill="#6a4cc0"/><ellipse cx="1421.5" cy="640.0" rx="4.1" ry="4.5" fill="#3452d2"/><ellipse cx="1422.1" cy="640.2" rx="4.3" ry="4.7" fill="#3452d2"/><ellipse cx="1424.6" cy="640.0" rx="4.0" ry="4.4" fill="#3452d2"/><ellipse cx="1421.5" cy="640.0" rx="2.0" ry="2.2" fill="#2aa6e4"/><ellipse cx="1422.1" cy="640.2" rx="2.1" ry="2.3" fill="#2aa6e4"/><ellipse cx="1424.6" cy="640.0" rx="1.9" ry="2.1" fill="#2aa6e4"/><ellipse cx="1473.8" cy="251.9" rx="4.5" ry="6.6" fill="#6a4cc0"/><ellipse cx="1475.2" cy="248.4" rx="4.7" ry="6.9" fill="#6a4cc0"/><ellipse cx="1474.9" cy="248.5" rx="4.8" ry="7.1" fill="#6a4cc0"/><ellipse cx="1473.8" cy="251.9" rx="4.0" ry="5.8" fill="#3452d2"/><ellipse cx="1475.2" cy="248.4" rx="4.2" ry="6.1" fill="#3452d2"/><ellipse cx="1474.9" cy="248.5" rx="4.3" ry="6.2" fill="#3452d2"/><ellipse cx="1473.8" cy="251.9" rx="1.9" ry="2.8" fill="#2aa6e4"/><ellipse cx="1475.2" cy="248.4" rx="2.0" ry="2.9" fill="#2aa6e4"/><ellipse cx="1474.9" cy="248.5" rx="2.0" ry="3.0" fill="#2aa6e4"/><ellipse cx="1477.4" cy="341.3" rx="10.9" ry="5.7" fill="#6a4cc0"/><ellipse cx="1477.8" cy="340.2" rx="10.8" ry="5.7" fill="#6a4cc0"/><ellipse cx="1472.8" cy="340.6" rx="9.6" ry="5.1" fill="#6a4cc0"/><ellipse cx="1477.4" cy="341.3" rx="9.6" ry="5.0" fill="#3452d2"/><ellipse cx="1477.8" cy="340.2" rx="9.5" ry="5.0" fill="#3452d2"/><ellipse cx="1472.8" cy="340.6" rx="8.5" ry="4.5" fill="#3452d2"/><ellipse cx="1477.4" cy="341.3" rx="4.6" ry="2.4" fill="#2aa6e4"/><ellipse cx="1477.8" cy="340.2" rx="4.5" ry="2.4" fill="#2aa6e4"/><ellipse cx="1472.8" cy="340.6" rx="4.0" ry="2.1" fill="#2aa6e4"/><ellipse cx="1476.3" cy="443.3" rx="6.4" ry="5.6" fill="#6a4cc0"/><ellipse cx="1478.8" cy="439.6" rx="5.8" ry="5.1" fill="#6a4cc0"/><ellipse cx="1477.2" cy="442.5" rx="6.4" ry="5.6" fill="#6a4cc0"/><ellipse cx="1476.3" cy="443.3" rx="5.7" ry="5.0" fill="#3452d2"/><ellipse cx="1478.8" cy="439.6" rx="5.1" ry="4.5" fill="#3452d2"/><ellipse cx="1477.2" cy="442.5" rx="5.6" ry="5.0" fill="#3452d2"/><ellipse cx="1476.3" cy="443.3" rx="2.7" ry="2.4" fill="#2aa6e4"/><ellipse cx="1478.8" cy="439.6" rx="2.5" ry="2.2" fill="#2aa6e4"/><ellipse cx="1477.2" cy="442.5" rx="2.7" ry="2.4" fill="#2aa6e4"/><ellipse cx="1473.7" cy="539.8" rx="4.2" ry="7.3" fill="#6a4cc0"/><ellipse cx="1473.7" cy="543.7" rx="4.3" ry="7.6" fill="#6a4cc0"/><ellipse cx="1474.4" cy="540.8" rx="4.3" ry="7.6" fill="#6a4cc0"/><ellipse cx="1473.7" cy="539.8" rx="3.7" ry="6.4" fill="#3452d2"/><ellipse cx="1473.7" cy="543.7" rx="3.8" ry="6.7" fill="#3452d2"/><ellipse cx="1474.4" cy="540.8" rx="3.8" ry="6.7" fill="#3452d2"/><ellipse cx="1473.7" cy="539.8" rx="1.8" ry="3.1" fill="#2aa6e4"/><ellipse cx="1473.7" cy="543.7" rx="1.8" ry="3.2" fill="#2aa6e4"/><ellipse cx="1474.4" cy="540.8" rx="1.8" ry="3.2" fill="#2aa6e4"/><ellipse cx="1475.8" cy="644.5" rx="8.0" ry="5.2" fill="#6a4cc0"/><ellipse cx="1475.7" cy="643.3" rx="8.7" ry="5.7" fill="#6a4cc0"/><ellipse cx="1473.6" cy="642.8" rx="8.6" ry="5.6" fill="#6a4cc0"/><ellipse cx="1475.8" cy="644.5" rx="7.0" ry="4.6" fill="#3452d2"/><ellipse cx="1475.7" cy="643.3" rx="7.6" ry="5.0" fill="#3452d2"/><ellipse cx="1473.6" cy="642.8" rx="7.5" ry="5.0" fill="#3452d2"/><ellipse cx="1475.8" cy="644.5" rx="3.3" ry="2.2" fill="#2aa6e4"/><ellipse cx="1475.7" cy="643.3" rx="3.6" ry="2.4" fill="#2aa6e4"/><ellipse cx="1473.6" cy="642.8" rx="3.6" ry="2.4" fill="#2aa6e4"/><ellipse cx="1529.2" cy="252.8" rx="6.5" ry="7.6" fill="#6a4cc0"/><ellipse cx="1527.7" cy="253.7" rx="6.1" ry="7.1" fill="#6a4cc0"/><ellipse cx="1526.5" cy="253.6" rx="5.9" ry="6.9" fill="#6a4cc0"/><ellipse cx="1529.2" cy="252.8" rx="5.7" ry="6.7" fill="#3452d2"/><ellipse cx="1527.7" cy="253.7" rx="5.4" ry="6.3" fill="#3452d2"/><ellipse cx="1526.5" cy="253.6" rx="5.2" ry="6.0" fill="#3452d2"/><ellipse cx="1529.9" cy="346.4" rx="9.9" ry="7.0" fill="#6a4cc0"/><ellipse cx="1530.2" cy="343.8" rx="9.9" ry="6.9" fill="#6a4cc0"/><ellipse cx="1525.4" cy="344.4" rx="11.0" ry="7.7" fill="#6a4cc0"/><ellipse cx="1529.9" cy="346.4" rx="8.7" ry="6.1" fill="#3452d2"/><ellipse cx="1530.2" cy="343.8" rx="8.7" ry="6.1" fill="#3452d2"/><ellipse cx="1525.4" cy="344.4" rx="9.7" ry="6.8" fill="#3452d2"/><ellipse cx="1529.9" cy="346.4" rx="4.2" ry="2.9" fill="#2aa6e4"/><ellipse cx="1530.2" cy="343.8" rx="4.1" ry="2.9" fill="#2aa6e4"/><ellipse cx="1525.4" cy="344.4" rx="4.6" ry="3.2" fill="#2aa6e4"/><ellipse cx="1527.8" cy="450.5" rx="3.8" ry="4.2" fill="#6a4cc0"/><ellipse cx="1530.5" cy="450.7" rx="4.4" ry="4.8" fill="#6a4cc0"/><ellipse cx="1529.4" cy="452.0" rx="4.0" ry="4.4" fill="#6a4cc0"/><ellipse cx="1527.8" cy="450.5" rx="3.4" ry="3.7" fill="#3452d2"/><ellipse cx="1530.5" cy="450.7" rx="3.9" ry="4.2" fill="#3452d2"/><ellipse cx="1529.4" cy="452.0" rx="3.6" ry="3.9" fill="#3452d2"/><ellipse cx="1518.3" cy="637.1" rx="5.0" ry="4.6" fill="#6a4cc0"/><ellipse cx="1517.0" cy="638.2" rx="5.0" ry="4.5" fill="#6a4cc0"/><ellipse cx="1518.4" cy="640.0" rx="4.5" ry="4.1" fill="#6a4cc0"/><ellipse cx="1518.3" cy="637.1" rx="4.4" ry="4.0" fill="#3452d2"/><ellipse cx="1517.0" cy="638.2" rx="4.4" ry="4.0" fill="#3452d2"/><ellipse cx="1518.4" cy="640.0" rx="4.0" ry="3.6" fill="#3452d2"/><ellipse cx="1523.7" cy="744.5" rx="10.6" ry="11.2" fill="#6a4cc0"/><ellipse cx="1520.5" cy="742.2" rx="10.0" ry="10.5" fill="#6a4cc0"/><ellipse cx="1524.0" cy="747.7" rx="9.9" ry="10.5" fill="#6a4cc0"/><ellipse cx="1523.7" cy="744.5" rx="9.3" ry="9.8" fill="#3452d2"/><ellipse cx="1520.5" cy="742.2" rx="8.8" ry="9.3" fill="#3452d2"/><ellipse cx="1524.0" cy="747.7" rx="8.7" ry="9.2" fill="#3452d2"/><ellipse cx="1523.7" cy="744.5" rx="4.4" ry="4.7" fill="#2aa6e4"/><ellipse cx="1520.5" cy="742.2" rx="4.2" ry="4.4" fill="#2aa6e4"/><ellipse cx="1524.0" cy="747.7" rx="4.2" ry="4.4" fill="#2aa6e4"/><ellipse cx="1523.7" cy="744.5" rx="3.0" ry="3.1" fill="#5cc64c"/><ellipse cx="1520.5" cy="742.2" rx="2.8" ry="2.9" fill="#5cc64c"/><ellipse cx="1524.0" cy="747.7" rx="2.8" ry="2.9" fill="#5cc64c"/><ellipse cx="1523.7" cy="744.5" rx="1.6" ry="1.7" fill="#e6dc3c"/><ellipse cx="1520.5" cy="742.2" rx="1.5" ry="1.6" fill="#e6dc3c"/><ellipse cx="1524.0" cy="747.7" rx="1.5" ry="1.6" fill="#e6dc3c"/><ellipse cx="1523.7" cy="744.5" rx="0.8" ry="0.8" fill="#e2261e"/><ellipse cx="1520.5" cy="742.2" rx="0.8" ry="0.8" fill="#e2261e"/><ellipse cx="1524.0" cy="747.7" rx="0.8" ry="0.8" fill="#e2261e"/><ellipse cx="1587.3" cy="139.2" rx="6.4" ry="7.4" fill="#6a4cc0"/><ellipse cx="1587.7" cy="138.5" rx="6.1" ry="7.1" fill="#6a4cc0"/><ellipse cx="1586.9" cy="137.8" rx="5.8" ry="6.7" fill="#6a4cc0"/><ellipse cx="1587.3" cy="139.2" rx="5.6" ry="6.5" fill="#3452d2"/><ellipse cx="1587.7" cy="138.5" rx="5.3" ry="6.2" fill="#3452d2"/><ellipse cx="1586.9" cy="137.8" rx="5.1" ry="5.9" fill="#3452d2"/><ellipse cx="1587.3" cy="139.2" rx="2.7" ry="3.1" fill="#2aa6e4"/><ellipse cx="1587.7" cy="138.5" rx="2.5" ry="3.0" fill="#2aa6e4"/><ellipse cx="1586.9" cy="137.8" rx="2.4" ry="2.8" fill="#2aa6e4"/><ellipse cx="1587.5" cy="243.6" rx="8.4" ry="11.1" fill="#6a4cc0"/><ellipse cx="1592.8" cy="239.3" rx="7.9" ry="10.4" fill="#6a4cc0"/><ellipse cx="1588.8" cy="240.8" rx="7.9" ry="10.4" fill="#6a4cc0"/><ellipse cx="1587.5" cy="243.6" rx="7.4" ry="9.7" fill="#3452d2"/><ellipse cx="1592.8" cy="239.3" rx="7.0" ry="9.2" fill="#3452d2"/><ellipse cx="1588.8" cy="240.8" rx="7.0" ry="9.1" fill="#3452d2"/><ellipse cx="1587.5" cy="243.6" rx="3.5" ry="4.7" fill="#2aa6e4"/><ellipse cx="1592.8" cy="239.3" rx="3.3" ry="4.4" fill="#2aa6e4"/><ellipse cx="1588.8" cy="240.8" rx="3.3" ry="4.4" fill="#2aa6e4"/><ellipse cx="1600.9" cy="243.0" rx="5.0" ry="11.0" fill="#6a4cc0"/><ellipse cx="1601.0" cy="242.2" rx="4.7" ry="10.3" fill="#6a4cc0"/><ellipse cx="1600.5" cy="242.2" rx="5.2" ry="11.3" fill="#6a4cc0"/><ellipse cx="1600.9" cy="243.0" rx="4.4" ry="9.7" fill="#3452d2"/><ellipse cx="1601.0" cy="242.2" rx="4.1" ry="9.0" fill="#3452d2"/><ellipse cx="1600.5" cy="242.2" rx="4.5" ry="9.9" fill="#3452d2"/><ellipse cx="1600.9" cy="243.0" rx="2.1" ry="4.6" fill="#2aa6e4"/><ellipse cx="1601.0" cy="242.2" rx="2.0" ry="4.3" fill="#2aa6e4"/><ellipse cx="1600.5" cy="242.2" rx="2.2" ry="4.7" fill="#2aa6e4"/><ellipse cx="1594.1" cy="343.3" rx="12.3" ry="9.0" fill="#6a4cc0"/><ellipse cx="1590.3" cy="339.5" rx="12.9" ry="9.4" fill="#6a4cc0"/><ellipse cx="1592.8" cy="338.2" rx="11.7" ry="8.6" fill="#6a4cc0"/><ellipse cx="1594.1" cy="343.3" rx="10.8" ry="7.9" fill="#3452d2"/><ellipse cx="1590.3" cy="339.5" rx="11.4" ry="8.3" fill="#3452d2"/><ellipse cx="1592.8" cy="338.2" rx="10.3" ry="7.5" fill="#3452d2"/><ellipse cx="1594.1" cy="343.3" rx="5.2" ry="3.8" fill="#2aa6e4"/><ellipse cx="1590.3" cy="339.5" rx="5.4" ry="4.0" fill="#2aa6e4"/><ellipse cx="1592.8" cy="338.2" rx="4.9" ry="3.6" fill="#2aa6e4"/><ellipse cx="1588.6" cy="437.5" rx="3.9" ry="4.3" fill="#6a4cc0"/><ellipse cx="1586.7" cy="436.9" rx="3.8" ry="4.2" fill="#6a4cc0"/><ellipse cx="1587.0" cy="437.4" rx="3.9" ry="4.3" fill="#6a4cc0"/><ellipse cx="1588.6" cy="437.5" rx="3.5" ry="3.8" fill="#3452d2"/><ellipse cx="1586.7" cy="436.9" rx="3.4" ry="3.7" fill="#3452d2"/><ellipse cx="1587.0" cy="437.4" rx="3.4" ry="3.8" fill="#3452d2"/><ellipse cx="1641.8" cy="134.7" rx="10.6" ry="6.0" fill="#6a4cc0"/><ellipse cx="1641.6" cy="135.5" rx="11.5" ry="6.5" fill="#6a4cc0"/><ellipse cx="1643.3" cy="135.1" rx="10.9" ry="6.2" fill="#6a4cc0"/><ellipse cx="1641.8" cy="134.7" rx="9.3" ry="5.3" fill="#3452d2"/><ellipse cx="1641.6" cy="135.5" rx="10.1" ry="5.8" fill="#3452d2"/><ellipse cx="1643.3" cy="135.1" rx="9.6" ry="5.5" fill="#3452d2"/><ellipse cx="1641.8" cy="134.7" rx="4.5" ry="2.5" fill="#2aa6e4"/><ellipse cx="1641.6" cy="135.5" rx="4.8" ry="2.7" fill="#2aa6e4"/><ellipse cx="1643.3" cy="135.1" rx="4.6" ry="2.6" fill="#2aa6e4"/><ellipse cx="1648.0" cy="246.5" rx="15.2" ry="13.5" fill="#6a4cc0"/><ellipse cx="1649.0" cy="242.6" rx="16.0" ry="14.2" fill="#6a4cc0"/><ellipse cx="1639.5" cy="242.9" rx="15.6" ry="13.8" fill="#6a4cc0"/><ellipse cx="1648.0" cy="246.5" rx="13.4" ry="11.9" fill="#3452d2"/><ellipse cx="1649.0" cy="242.6" rx="14.1" ry="12.5" fill="#3452d2"/><ellipse cx="1639.5" cy="242.9" rx="13.7" ry="12.2" fill="#3452d2"/><ellipse cx="1648.0" cy="246.5" rx="6.4" ry="5.7" fill="#2aa6e4"/><ellipse cx="1649.0" cy="242.6" rx="6.7" ry="6.0" fill="#2aa6e4"/><ellipse cx="1639.5" cy="242.9" rx="6.5" ry="5.8" fill="#2aa6e4"/><ellipse cx="1648.0" cy="246.5" rx="4.3" ry="3.8" fill="#5cc64c"/><ellipse cx="1649.0" cy="242.6" rx="4.5" ry="4.0" fill="#5cc64c"/><ellipse cx="1639.5" cy="242.9" rx="4.4" ry="3.9" fill="#5cc64c"/><ellipse cx="1648.0" cy="246.5" rx="2.3" ry="2.0" fill="#e6dc3c"/><ellipse cx="1649.0" cy="242.6" rx="2.4" ry="2.1" fill="#e6dc3c"/><ellipse cx="1639.5" cy="242.9" rx="2.3" ry="2.1" fill="#e6dc3c"/><ellipse cx="1648.0" cy="246.5" rx="1.1" ry="0.9" fill="#e2261e"/><ellipse cx="1649.0" cy="242.6" rx="1.1" ry="1.0" fill="#e2261e"/><ellipse cx="1639.5" cy="242.9" rx="1.1" ry="1.0" fill="#e2261e"/><ellipse cx="1644.9" cy="341.2" rx="13.2" ry="9.6" fill="#6a4cc0"/><ellipse cx="1644.0" cy="339.5" rx="12.7" ry="9.3" fill="#6a4cc0"/><ellipse cx="1635.9" cy="341.3" rx="12.4" ry="9.0" fill="#6a4cc0"/><ellipse cx="1644.9" cy="341.2" rx="11.6" ry="8.5" fill="#3452d2"/><ellipse cx="1644.0" cy="339.5" rx="11.2" ry="8.2" fill="#3452d2"/><ellipse cx="1635.9" cy="341.3" rx="10.9" ry="8.0" fill="#3452d2"/><ellipse cx="1644.9" cy="341.2" rx="5.5" ry="4.0" fill="#2aa6e4"/><ellipse cx="1644.0" cy="339.5" rx="5.3" ry="3.9" fill="#2aa6e4"/><ellipse cx="1635.9" cy="341.3" rx="5.2" ry="3.8" fill="#2aa6e4"/><ellipse cx="1647.5" cy="438.4" rx="15.1" ry="13.4" fill="#6a4cc0"/><ellipse cx="1642.7" cy="445.1" rx="15.5" ry="13.8" fill="#6a4cc0"/><ellipse cx="1643.4" cy="437.0" rx="15.5" ry="13.7" fill="#6a4cc0"/><ellipse cx="1647.5" cy="438.4" rx="13.3" ry="11.8" fill="#3452d2"/><ellipse cx="1642.7" cy="445.1" rx="13.6" ry="12.1" fill="#3452d2"/><ellipse cx="1643.4" cy="437.0" rx="13.6" ry="12.1" fill="#3452d2"/><ellipse cx="1647.5" cy="438.4" rx="6.3" ry="5.6" fill="#2aa6e4"/><ellipse cx="1642.7" cy="445.1" rx="6.5" ry="5.8" fill="#2aa6e4"/><ellipse cx="1643.4" cy="437.0" rx="6.5" ry="5.8" fill="#2aa6e4"/><ellipse cx="1647.5" cy="438.4" rx="4.2" ry="3.8" fill="#5cc64c"/><ellipse cx="1642.7" cy="445.1" rx="4.3" ry="3.9" fill="#5cc64c"/><ellipse cx="1643.4" cy="437.0" rx="4.3" ry="3.8" fill="#5cc64c"/><ellipse cx="1647.5" cy="438.4" rx="2.3" ry="2.0" fill="#e6dc3c"/><ellipse cx="1642.7" cy="445.1" rx="2.3" ry="2.1" fill="#e6dc3c"/><ellipse cx="1643.4" cy="437.0" rx="2.3" ry="2.1" fill="#e6dc3c"/><ellipse cx="1647.5" cy="438.4" rx="1.1" ry="0.9" fill="#e2261e"/><ellipse cx="1642.7" cy="445.1" rx="1.1" ry="1.0" fill="#e2261e"/><ellipse cx="1643.4" cy="437.0" rx="1.1" ry="1.0" fill="#e2261e"/><ellipse cx="1644.6" cy="539.1" rx="15.8" ry="10.4" fill="#6a4cc0"/><ellipse cx="1644.5" cy="539.6" rx="16.5" ry="10.8" fill="#6a4cc0"/><ellipse cx="1648.0" cy="538.8" rx="16.9" ry="11.1" fill="#6a4cc0"/><ellipse cx="1644.6" cy="539.1" rx="13.9" ry="9.1" fill="#3452d2"/><ellipse cx="1644.5" cy="539.6" rx="14.5" ry="9.5" fill="#3452d2"/><ellipse cx="1648.0" cy="538.8" rx="14.9" ry="9.8" fill="#3452d2"/><ellipse cx="1644.6" cy="539.1" rx="6.6" ry="4.4" fill="#2aa6e4"/><ellipse cx="1644.5" cy="539.6" rx="6.9" ry="4.6" fill="#2aa6e4"/><ellipse cx="1648.0" cy="538.8" rx="7.1" ry="4.7" fill="#2aa6e4"/><ellipse cx="1644.6" cy="539.1" rx="4.4" ry="2.9" fill="#5cc64c"/><ellipse cx="1644.5" cy="539.6" rx="4.6" ry="3.0" fill="#5cc64c"/><ellipse cx="1648.0" cy="538.8" rx="4.7" ry="3.1" fill="#5cc64c"/><ellipse cx="1644.6" cy="539.1" rx="2.4" ry="1.6" fill="#e6dc3c"/><ellipse cx="1644.5" cy="539.6" rx="2.5" ry="1.6" fill="#e6dc3c"/><ellipse cx="1648.0" cy="538.8" rx="2.5" ry="1.7" fill="#e6dc3c"/><ellipse cx="1684.3" cy="136.6" rx="3.5" ry="3.9" fill="#6a4cc0"/><ellipse cx="1684.3" cy="136.6" rx="3.1" ry="3.4" fill="#3452d2"/><ellipse cx="1701.8" cy="150.4" rx="4.0" ry="3.5" fill="#6a4cc0"/><ellipse cx="1700.8" cy="150.9" rx="3.9" ry="3.4" fill="#6a4cc0"/><ellipse cx="1700.5" cy="151.9" rx="4.2" ry="3.6" fill="#6a4cc0"/><ellipse cx="1701.8" cy="150.4" rx="3.6" ry="3.1" fill="#3452d2"/><ellipse cx="1700.8" cy="150.9" rx="3.4" ry="3.0" fill="#3452d2"/><ellipse cx="1700.5" cy="151.9" rx="3.7" ry="3.2" fill="#3452d2"/><ellipse cx="1694.0" cy="243.6" rx="10.7" ry="7.5" fill="#6a4cc0"/><ellipse cx="1693.7" cy="247.4" rx="10.0" ry="7.0" fill="#6a4cc0"/><ellipse cx="1695.5" cy="243.4" rx="11.0" ry="7.7" fill="#6a4cc0"/><ellipse cx="1694.0" cy="243.6" rx="9.4" ry="6.6" fill="#3452d2"/><ellipse cx="1693.7" cy="247.4" rx="8.8" ry="6.2" fill="#3452d2"/><ellipse cx="1695.5" cy="243.4" rx="9.7" ry="6.8" fill="#3452d2"/><ellipse cx="1694.0" cy="243.6" rx="4.5" ry="3.1" fill="#2aa6e4"/><ellipse cx="1693.7" cy="247.4" rx="4.2" ry="2.9" fill="#2aa6e4"/><ellipse cx="1695.5" cy="243.4" rx="4.6" ry="3.2" fill="#2aa6e4"/><ellipse cx="1686.9" cy="343.1" rx="12.4" ry="9.0" fill="#6a4cc0"/><ellipse cx="1688.3" cy="340.0" rx="11.7" ry="8.6" fill="#6a4cc0"/><ellipse cx="1688.4" cy="342.2" rx="12.0" ry="8.7" fill="#6a4cc0"/><ellipse cx="1686.9" cy="343.1" rx="10.9" ry="8.0" fill="#3452d2"/><ellipse cx="1688.3" cy="340.0" rx="10.3" ry="7.5" fill="#3452d2"/><ellipse cx="1688.4" cy="342.2" rx="10.5" ry="7.7" fill="#3452d2"/><ellipse cx="1686.9" cy="343.1" rx="5.2" ry="3.8" fill="#2aa6e4"/><ellipse cx="1688.3" cy="340.0" rx="4.9" ry="3.6" fill="#2aa6e4"/><ellipse cx="1688.4" cy="342.2" rx="5.0" ry="3.7" fill="#2aa6e4"/><ellipse cx="1689.6" cy="442.6" rx="9.7" ry="12.7" fill="#6a4cc0"/><ellipse cx="1688.5" cy="447.0" rx="10.4" ry="13.7" fill="#6a4cc0"/><ellipse cx="1694.0" cy="447.0" rx="10.4" ry="13.6" fill="#6a4cc0"/><ellipse cx="1689.6" cy="442.6" rx="8.5" ry="11.2" fill="#3452d2"/><ellipse cx="1688.5" cy="447.0" rx="9.2" ry="12.1" fill="#3452d2"/><ellipse cx="1694.0" cy="447.0" rx="9.1" ry="12.0" fill="#3452d2"/><ellipse cx="1689.6" cy="442.6" rx="4.1" ry="5.3" fill="#2aa6e4"/><ellipse cx="1688.5" cy="447.0" rx="4.4" ry="5.8" fill="#2aa6e4"/><ellipse cx="1694.0" cy="447.0" rx="4.3" ry="5.7" fill="#2aa6e4"/><ellipse cx="1689.6" cy="442.6" rx="2.7" ry="3.6" fill="#5cc64c"/><ellipse cx="1688.5" cy="447.0" rx="2.9" ry="3.8" fill="#5cc64c"/><ellipse cx="1694.0" cy="447.0" rx="2.9" ry="3.8" fill="#5cc64c"/><ellipse cx="1699.7" cy="537.4" rx="11.6" ry="11.8" fill="#6a4cc0"/><ellipse cx="1692.7" cy="537.3" rx="12.1" ry="12.3" fill="#6a4cc0"/><ellipse cx="1696.2" cy="540.1" rx="12.8" ry="13.1" fill="#6a4cc0"/><ellipse cx="1699.7" cy="537.4" rx="10.2" ry="10.4" fill="#3452d2"/><ellipse cx="1692.7" cy="537.3" rx="10.6" ry="10.8" fill="#3452d2"/><ellipse cx="1696.2" cy="540.1" rx="11.3" ry="11.5" fill="#3452d2"/><ellipse cx="1699.7" cy="537.4" rx="4.9" ry="5.0" fill="#2aa6e4"/><ellipse cx="1692.7" cy="537.3" rx="5.1" ry="5.2" fill="#2aa6e4"/><ellipse cx="1696.2" cy="540.1" rx="5.4" ry="5.5" fill="#2aa6e4"/><ellipse cx="1699.7" cy="537.4" rx="3.2" ry="3.3" fill="#5cc64c"/><ellipse cx="1692.7" cy="537.3" rx="3.4" ry="3.4" fill="#5cc64c"/><ellipse cx="1696.2" cy="540.1" rx="3.6" ry="3.7" fill="#5cc64c"/><ellipse cx="1699.7" cy="537.4" rx="1.7" ry="1.8" fill="#e6dc3c"/><ellipse cx="1692.7" cy="537.3" rx="1.8" ry="1.8" fill="#e6dc3c"/><ellipse cx="1696.2" cy="540.1" rx="1.9" ry="2.0" fill="#e6dc3c"/><ellipse cx="1699.7" cy="537.4" rx="0.8" ry="0.8" fill="#e2261e"/><ellipse cx="1692.7" cy="537.3" rx="0.8" ry="0.9" fill="#e2261e"/><ellipse cx="1696.2" cy="540.1" rx="0.9" ry="0.9" fill="#e2261e"/><ellipse cx="1696.7" cy="562.5" rx="3.5" ry="6.6" fill="#6a4cc0"/><ellipse cx="1697.6" cy="562.3" rx="3.0" ry="5.8" fill="#6a4cc0"/><ellipse cx="1696.2" cy="560.2" rx="3.2" ry="6.1" fill="#6a4cc0"/><ellipse cx="1696.7" cy="562.5" rx="3.0" ry="5.8" fill="#3452d2"/><ellipse cx="1697.6" cy="562.3" rx="2.7" ry="5.1" fill="#3452d2"/><ellipse cx="1696.2" cy="560.2" rx="2.8" ry="5.4" fill="#3452d2"/><ellipse cx="1696.7" cy="562.5" rx="1.5" ry="2.8" fill="#2aa6e4"/><ellipse cx="1697.6" cy="562.3" rx="1.3" ry="2.4" fill="#2aa6e4"/><ellipse cx="1696.2" cy="560.2" rx="1.3" ry="2.6" fill="#2aa6e4"/><ellipse cx="1696.7" cy="562.5" rx="1.0" ry="1.9" fill="#5cc64c"/><ellipse cx="1697.6" cy="562.3" rx="0.8" ry="1.6" fill="#5cc64c"/><ellipse cx="1696.2" cy="560.2" rx="0.9" ry="1.7" fill="#5cc64c"/><ellipse cx="1687.5" cy="637.3" rx="15.5" ry="13.8" fill="#6a4cc0"/><ellipse cx="1691.1" cy="635.8" rx="14.4" ry="12.8" fill="#6a4cc0"/><ellipse cx="1694.7" cy="641.9" rx="14.2" ry="12.6" fill="#6a4cc0"/><ellipse cx="1687.5" cy="637.3" rx="13.7" ry="12.1" fill="#3452d2"/><ellipse cx="1691.1" cy="635.8" rx="12.7" ry="11.3" fill="#3452d2"/><ellipse cx="1694.7" cy="641.9" rx="12.5" ry="11.1" fill="#3452d2"/><ellipse cx="1687.5" cy="637.3" rx="6.5" ry="5.8" fill="#2aa6e4"/><ellipse cx="1691.1" cy="635.8" rx="6.1" ry="5.4" fill="#2aa6e4"/><ellipse cx="1694.7" cy="641.9" rx="6.0" ry="5.3" fill="#2aa6e4"/><ellipse cx="1687.5" cy="637.3" rx="4.3" ry="3.9" fill="#5cc64c"/><ellipse cx="1691.1" cy="635.8" rx="4.0" ry="3.6" fill="#5cc64c"/><ellipse cx="1694.7" cy="641.9" rx="4.0" ry="3.5" fill="#5cc64c"/><ellipse cx="1687.5" cy="637.3" rx="2.3" ry="2.1" fill="#e6dc3c"/><ellipse cx="1691.1" cy="635.8" rx="2.2" ry="1.9" fill="#e6dc3c"/><ellipse cx="1694.7" cy="641.9" rx="2.1" ry="1.9" fill="#e6dc3c"/><ellipse cx="1687.5" cy="637.3" rx="1.1" ry="1.0" fill="#e2261e"/><ellipse cx="1691.1" cy="635.8" rx="1.0" ry="0.9" fill="#e2261e"/><ellipse cx="1694.7" cy="641.9" rx="1.0" ry="0.9" fill="#e2261e"/><ellipse cx="1738.1" cy="132.6" rx="16.4" ry="12.8" fill="#6a4cc0"/><ellipse cx="1738.9" cy="131.7" rx="16.3" ry="12.7" fill="#6a4cc0"/><ellipse cx="1735.9" cy="133.4" rx="16.1" ry="12.6" fill="#6a4cc0"/><ellipse cx="1738.1" cy="132.6" rx="14.5" ry="11.3" fill="#3452d2"/><ellipse cx="1738.9" cy="131.7" rx="14.3" ry="11.2" fill="#3452d2"/><ellipse cx="1735.9" cy="133.4" rx="14.2" ry="11.1" fill="#3452d2"/><ellipse cx="1738.1" cy="132.6" rx="6.9" ry="5.4" fill="#2aa6e4"/><ellipse cx="1738.9" cy="131.7" rx="6.8" ry="5.3" fill="#2aa6e4"/><ellipse cx="1735.9" cy="133.4" rx="6.8" ry="5.3" fill="#2aa6e4"/><ellipse cx="1738.1" cy="132.6" rx="4.6" ry="3.6" fill="#5cc64c"/><ellipse cx="1738.9" cy="131.7" rx="4.6" ry="3.6" fill="#5cc64c"/><ellipse cx="1735.9" cy="133.4" rx="4.5" ry="3.5" fill="#5cc64c"/><ellipse cx="1738.1" cy="132.6" rx="2.5" ry="1.9" fill="#e6dc3c"/><ellipse cx="1738.9" cy="131.7" rx="2.4" ry="1.9" fill="#e6dc3c"/><ellipse cx="1735.9" cy="133.4" rx="2.4" ry="1.9" fill="#e6dc3c"/><ellipse cx="1741.8" cy="236.3" rx="16.1" ry="12.6" fill="#6a4cc0"/><ellipse cx="1743.6" cy="242.1" rx="17.7" ry="13.8" fill="#6a4cc0"/><ellipse cx="1743.8" cy="240.4" rx="17.8" ry="13.9" fill="#6a4cc0"/><ellipse cx="1741.8" cy="236.3" rx="14.2" ry="11.1" fill="#3452d2"/><ellipse cx="1743.6" cy="242.1" rx="15.6" ry="12.2" fill="#3452d2"/><ellipse cx="1743.8" cy="240.4" rx="15.7" ry="12.3" fill="#3452d2"/><ellipse cx="1741.8" cy="236.3" rx="6.8" ry="5.3" fill="#2aa6e4"/><ellipse cx="1743.6" cy="242.1" rx="7.4" ry="5.8" fill="#2aa6e4"/><ellipse cx="1743.8" cy="240.4" rx="7.5" ry="5.8" fill="#2aa6e4"/><ellipse cx="1741.8" cy="236.3" rx="4.5" ry="3.5" fill="#5cc64c"/><ellipse cx="1743.6" cy="242.1" rx="5.0" ry="3.9" fill="#5cc64c"/><ellipse cx="1743.8" cy="240.4" rx="5.0" ry="3.9" fill="#5cc64c"/><ellipse cx="1743.6" cy="342.7" rx="8.4" ry="7.3" fill="#6a4cc0"/><ellipse cx="1743.5" cy="343.1" rx="8.7" ry="7.6" fill="#6a4cc0"/><ellipse cx="1739.3" cy="340.4" rx="8.8" ry="7.7" fill="#6a4cc0"/><ellipse cx="1743.6" cy="342.7" rx="7.4" ry="6.4" fill="#3452d2"/><ellipse cx="1743.5" cy="343.1" rx="7.6" ry="6.7" fill="#3452d2"/><ellipse cx="1739.3" cy="340.4" rx="7.8" ry="6.8" fill="#3452d2"/><ellipse cx="1739.1" cy="439.9" rx="6.1" ry="5.3" fill="#6a4cc0"/><ellipse cx="1737.4" cy="442.7" rx="6.0" ry="5.2" fill="#6a4cc0"/><ellipse cx="1740.2" cy="439.7" rx="5.8" ry="5.0" fill="#6a4cc0"/><ellipse cx="1739.1" cy="439.9" rx="5.3" ry="4.7" fill="#3452d2"/><ellipse cx="1737.4" cy="442.7" rx="5.3" ry="4.6" fill="#3452d2"/><ellipse cx="1740.2" cy="439.7" rx="5.1" ry="4.4" fill="#3452d2"/><ellipse cx="1730.6" cy="536.2" rx="2.2" ry="4.7" fill="#6a4cc0"/><ellipse cx="1729.7" cy="535.3" rx="2.1" ry="4.7" fill="#6a4cc0"/><ellipse cx="1730.4" cy="536.3" rx="2.2" ry="4.7" fill="#6a4cc0"/><ellipse cx="1730.6" cy="536.2" rx="1.9" ry="4.2" fill="#3452d2"/><ellipse cx="1729.7" cy="535.3" rx="1.9" ry="4.1" fill="#3452d2"/><ellipse cx="1730.4" cy="536.3" rx="1.9" ry="4.1" fill="#3452d2"/><ellipse cx="1732.8" cy="641.0" rx="4.9" ry="5.3" fill="#6a4cc0"/><ellipse cx="1734.1" cy="640.0" rx="5.2" ry="5.7" fill="#6a4cc0"/><ellipse cx="1734.9" cy="640.3" rx="5.2" ry="5.7" fill="#6a4cc0"/><ellipse cx="1732.8" cy="641.0" rx="4.3" ry="4.7" fill="#3452d2"/><ellipse cx="1734.1" cy="640.0" rx="4.6" ry="5.0" fill="#3452d2"/><ellipse cx="1734.9" cy="640.3" rx="4.6" ry="5.0" fill="#3452d2"/><ellipse cx="1732.8" cy="641.0" rx="2.0" ry="2.2" fill="#2aa6e4"/><ellipse cx="1734.1" cy="640.0" rx="2.2" ry="2.4" fill="#2aa6e4"/><ellipse cx="1734.9" cy="640.3" rx="2.2" ry="2.4" fill="#2aa6e4"/><ellipse cx="1747.6" cy="647.4" rx="4.2" ry="3.7" fill="#6a4cc0"/><ellipse cx="1746.9" cy="646.9" rx="4.3" ry="3.8" fill="#6a4cc0"/><ellipse cx="1748.0" cy="647.2" rx="4.3" ry="3.8" fill="#6a4cc0"/><ellipse cx="1747.6" cy="647.4" rx="3.7" ry="3.2" fill="#3452d2"/><ellipse cx="1746.9" cy="646.9" rx="3.8" ry="3.3" fill="#3452d2"/><ellipse cx="1748.0" cy="647.2" rx="3.8" ry="3.3" fill="#3452d2"/><ellipse cx="1735.0" cy="742.8" rx="17.8" ry="18.5" fill="#6a4cc0"/><ellipse cx="1738.1" cy="740.5" rx="18.5" ry="19.2" fill="#6a4cc0"/><ellipse cx="1744.2" cy="740.0" rx="17.2" ry="17.9" fill="#6a4cc0"/><ellipse cx="1735.0" cy="742.8" rx="15.6" ry="16.3" fill="#3452d2"/><ellipse cx="1738.1" cy="740.5" rx="16.2" ry="16.9" fill="#3452d2"/><ellipse cx="1744.2" cy="740.0" rx="15.1" ry="15.8" fill="#3452d2"/><ellipse cx="1735.0" cy="742.8" rx="7.5" ry="7.8" fill="#2aa6e4"/><ellipse cx="1738.1" cy="740.5" rx="7.8" ry="8.1" fill="#2aa6e4"/><ellipse cx="1744.2" cy="740.0" rx="7.2" ry="7.5" fill="#2aa6e4"/><ellipse cx="1735.0" cy="742.8" rx="5.0" ry="5.2" fill="#5cc64c"/><ellipse cx="1738.1" cy="740.5" rx="5.2" ry="5.4" fill="#5cc64c"/><ellipse cx="1744.2" cy="740.0" rx="4.8" ry="5.0" fill="#5cc64c"/><ellipse cx="1735.0" cy="742.8" rx="2.7" ry="2.8" fill="#e6dc3c"/><ellipse cx="1738.1" cy="740.5" rx="2.8" ry="2.9" fill="#e6dc3c"/><ellipse cx="1744.2" cy="740.0" rx="2.6" ry="2.7" fill="#e6dc3c"/><ellipse cx="1735.0" cy="742.8" rx="1.2" ry="1.3" fill="#e2261e"/><ellipse cx="1738.1" cy="740.5" rx="1.3" ry="1.3" fill="#e2261e"/><ellipse cx="1744.2" cy="740.0" rx="1.2" ry="1.3" fill="#e2261e"/><ellipse cx="1814.1" cy="142.6" rx="6.3" ry="5.5" fill="#6a4cc0"/><ellipse cx="1811.6" cy="144.7" rx="5.8" ry="5.0" fill="#6a4cc0"/><ellipse cx="1814.4" cy="146.5" rx="6.0" ry="5.2" fill="#6a4cc0"/><ellipse cx="1814.1" cy="142.6" rx="5.6" ry="4.8" fill="#3452d2"/><ellipse cx="1811.6" cy="144.7" rx="5.1" ry="4.4" fill="#3452d2"/><ellipse cx="1814.4" cy="146.5" rx="5.3" ry="4.6" fill="#3452d2"/><ellipse cx="1814.1" cy="142.6" rx="2.7" ry="2.3" fill="#2aa6e4"/><ellipse cx="1811.6" cy="144.7" rx="2.4" ry="2.1" fill="#2aa6e4"/><ellipse cx="1814.4" cy="146.5" rx="2.5" ry="2.2" fill="#2aa6e4"/><ellipse cx="1810.9" cy="245.7" rx="11.2" ry="5.4" fill="#6a4cc0"/><ellipse cx="1810.3" cy="247.4" rx="10.8" ry="5.2" fill="#6a4cc0"/><ellipse cx="1813.1" cy="245.1" rx="10.7" ry="5.2" fill="#6a4cc0"/><ellipse cx="1810.9" cy="245.7" rx="9.8" ry="4.8" fill="#3452d2"/><ellipse cx="1810.3" cy="247.4" rx="9.5" ry="4.6" fill="#3452d2"/><ellipse cx="1813.1" cy="245.1" rx="9.4" ry="4.5" fill="#3452d2"/><ellipse cx="1810.9" cy="245.7" rx="4.7" ry="2.3" fill="#2aa6e4"/><ellipse cx="1810.3" cy="247.4" rx="4.5" ry="2.2" fill="#2aa6e4"/><ellipse cx="1813.1" cy="245.1" rx="4.5" ry="2.2" fill="#2aa6e4"/><ellipse cx="1807.9" cy="345.7" rx="2.7" ry="5.9" fill="#6a4cc0"/><ellipse cx="1806.3" cy="344.0" rx="2.7" ry="6.0" fill="#6a4cc0"/><ellipse cx="1807.5" cy="346.5" rx="3.0" ry="6.5" fill="#6a4cc0"/><ellipse cx="1807.9" cy="345.7" rx="2.4" ry="5.2" fill="#3452d2"/><ellipse cx="1806.3" cy="344.0" rx="2.4" ry="5.2" fill="#3452d2"/><ellipse cx="1807.5" cy="346.5" rx="2.6" ry="5.7" fill="#3452d2"/><ellipse cx="1810.9" cy="446.3" rx="4.0" ry="4.3" fill="#6a4cc0"/><ellipse cx="1810.4" cy="447.2" rx="3.9" ry="4.3" fill="#6a4cc0"/><ellipse cx="1809.9" cy="447.4" rx="4.1" ry="4.5" fill="#6a4cc0"/><ellipse cx="1810.9" cy="446.3" rx="3.5" ry="3.8" fill="#3452d2"/><ellipse cx="1810.4" cy="447.2" rx="3.5" ry="3.8" fill="#3452d2"/><ellipse cx="1809.9" cy="447.4" rx="3.6" ry="4.0" fill="#3452d2"/><ellipse cx="1818.2" cy="543.5" rx="3.3" ry="4.5" fill="#6a4cc0"/><ellipse cx="1818.2" cy="540.6" rx="3.5" ry="4.8" fill="#6a4cc0"/><ellipse cx="1817.1" cy="541.8" rx="3.3" ry="4.5" fill="#6a4cc0"/><ellipse cx="1818.2" cy="543.5" rx="2.9" ry="4.0" fill="#3452d2"/><ellipse cx="1818.2" cy="540.6" rx="3.1" ry="4.2" fill="#3452d2"/><ellipse cx="1817.1" cy="541.8" rx="2.9" ry="4.0" fill="#3452d2"/><ellipse cx="1814.3" cy="645.2" rx="5.9" ry="10.2" fill="#6a4cc0"/><ellipse cx="1818.7" cy="646.0" rx="6.2" ry="10.7" fill="#6a4cc0"/><ellipse cx="1817.0" cy="641.6" rx="5.7" ry="10.0" fill="#6a4cc0"/><ellipse cx="1814.3" cy="645.2" rx="5.2" ry="9.0" fill="#3452d2"/><ellipse cx="1818.7" cy="646.0" rx="5.4" ry="9.4" fill="#3452d2"/><ellipse cx="1817.0" cy="641.6" rx="5.1" ry="8.8" fill="#3452d2"/><ellipse cx="1814.3" cy="645.2" rx="2.5" ry="4.3" fill="#2aa6e4"/><ellipse cx="1818.7" cy="646.0" rx="2.6" ry="4.5" fill="#2aa6e4"/><ellipse cx="1817.0" cy="641.6" rx="2.4" ry="4.2" fill="#2aa6e4"/><ellipse cx="1814.3" cy="645.2" rx="1.6" ry="2.9" fill="#5cc64c"/><ellipse cx="1818.7" cy="646.0" rx="1.7" ry="3.0" fill="#5cc64c"/><ellipse cx="1817.0" cy="641.6" rx="1.6" ry="2.8" fill="#5cc64c"/><ellipse cx="1869.2" cy="140.6" rx="3.9" ry="5.9" fill="#6a4cc0"/><ellipse cx="1868.7" cy="141.0" rx="4.4" ry="6.8" fill="#6a4cc0"/><ellipse cx="1871.0" cy="143.3" rx="4.2" ry="6.4" fill="#6a4cc0"/><ellipse cx="1869.2" cy="140.6" rx="3.4" ry="5.2" fill="#3452d2"/><ellipse cx="1868.7" cy="141.0" rx="3.9" ry="6.0" fill="#3452d2"/><ellipse cx="1871.0" cy="143.3" rx="3.7" ry="5.6" fill="#3452d2"/><ellipse cx="1865.7" cy="739.3" rx="5.0" ry="9.0" fill="#6a4cc0"/><ellipse cx="1863.9" cy="742.5" rx="5.2" ry="9.5" fill="#6a4cc0"/><ellipse cx="1866.7" cy="741.5" rx="5.0" ry="9.1" fill="#6a4cc0"/><ellipse cx="1865.7" cy="739.3" rx="4.4" ry="7.9" fill="#3452d2"/><ellipse cx="1863.9" cy="742.5" rx="4.6" ry="8.4" fill="#3452d2"/><ellipse cx="1866.7" cy="741.5" rx="4.4" ry="8.1" fill="#3452d2"/><ellipse cx="1865.7" cy="739.3" rx="2.1" ry="3.8" fill="#2aa6e4"/><ellipse cx="1863.9" cy="742.5" rx="2.2" ry="4.0" fill="#2aa6e4"/><ellipse cx="1866.7" cy="741.5" rx="2.1" ry="3.8" fill="#2aa6e4"/><ellipse cx="1865.7" cy="739.3" rx="1.4" ry="2.5" fill="#5cc64c"/><ellipse cx="1863.9" cy="742.5" rx="1.5" ry="2.7" fill="#5cc64c"/><ellipse cx="1866.7" cy="741.5" rx="1.4" ry="2.6" fill="#5cc64c"/><ellipse cx="1859.5" cy="836.6" rx="13.2" ry="9.6" fill="#6a4cc0"/><ellipse cx="1864.0" cy="841.0" rx="12.7" ry="9.2" fill="#6a4cc0"/><ellipse cx="1864.9" cy="840.6" rx="11.5" ry="8.4" fill="#6a4cc0"/><ellipse cx="1859.5" cy="836.6" rx="11.7" ry="8.5" fill="#3452d2"/><ellipse cx="1864.0" cy="841.0" rx="11.1" ry="8.1" fill="#3452d2"/><ellipse cx="1864.9" cy="840.6" rx="10.1" ry="7.4" fill="#3452d2"/><ellipse cx="1859.5" cy="836.6" rx="5.6" ry="4.0" fill="#2aa6e4"/><ellipse cx="1864.0" cy="841.0" rx="5.3" ry="3.9" fill="#2aa6e4"/><ellipse cx="1864.9" cy="840.6" rx="4.8" ry="3.5" fill="#2aa6e4"/><ellipse cx="1859.5" cy="836.6" rx="3.7" ry="2.7" fill="#5cc64c"/><ellipse cx="1864.0" cy="841.0" rx="3.5" ry="2.6" fill="#5cc64c"/><ellipse cx="1864.9" cy="840.6" rx="3.2" ry="2.3" fill="#5cc64c"/><ellipse cx="1873.1" cy="877.6" rx="3.3" ry="4.6" fill="#6a4cc0"/><ellipse cx="1871.8" cy="878.7" rx="3.4" ry="4.6" fill="#6a4cc0"/><ellipse cx="1871.7" cy="876.2" rx="3.4" ry="4.6" fill="#6a4cc0"/><ellipse cx="1873.1" cy="877.6" rx="2.9" ry="4.0" fill="#3452d2"/><ellipse cx="1871.8" cy="878.7" rx="3.0" ry="4.1" fill="#3452d2"/><ellipse cx="1871.7" cy="876.2" rx="3.0" ry="4.1" fill="#3452d2"/><ellipse cx="1873.1" cy="877.6" rx="1.4" ry="1.9" fill="#2aa6e4"/><ellipse cx="1871.8" cy="878.7" rx="1.4" ry="1.9" fill="#2aa6e4"/><ellipse cx="1871.7" cy="876.2" rx="1.4" ry="1.9" fill="#2aa6e4"/><ellipse cx="1917.8" cy="134.4" rx="13.4" ry="13.7" fill="#6a4cc0"/><ellipse cx="1910.3" cy="132.0" rx="13.0" ry="13.3" fill="#6a4cc0"/><ellipse cx="1908.7" cy="135.5" rx="14.0" ry="14.4" fill="#6a4cc0"/><ellipse cx="1917.8" cy="134.4" rx="11.8" ry="12.1" fill="#3452d2"/><ellipse cx="1910.3" cy="132.0" rx="11.5" ry="11.7" fill="#3452d2"/><ellipse cx="1908.7" cy="135.5" rx="12.4" ry="12.6" fill="#3452d2"/><ellipse cx="1917.8" cy="134.4" rx="5.6" ry="5.8" fill="#2aa6e4"/><ellipse cx="1910.3" cy="132.0" rx="5.5" ry="5.6" fill="#2aa6e4"/><ellipse cx="1908.7" cy="135.5" rx="5.9" ry="6.0" fill="#2aa6e4"/><ellipse cx="1917.8" cy="134.4" rx="3.8" ry="3.8" fill="#5cc64c"/><ellipse cx="1910.3" cy="132.0" rx="3.6" ry="3.7" fill="#5cc64c"/><ellipse cx="1908.7" cy="135.5" rx="3.9" ry="4.0" fill="#5cc64c"/><ellipse cx="1904.8" cy="238.9" rx="3.9" ry="12.7" fill="#6a4cc0"/><ellipse cx="1903.8" cy="246.4" rx="4.2" ry="13.6" fill="#6a4cc0"/><ellipse cx="1904.1" cy="244.8" rx="4.2" ry="13.9" fill="#6a4cc0"/><ellipse cx="1904.8" cy="238.9" rx="3.4" ry="11.2" fill="#3452d2"/><ellipse cx="1903.8" cy="246.4" rx="3.7" ry="12.0" fill="#3452d2"/><ellipse cx="1904.1" cy="244.8" rx="3.7" ry="12.2" fill="#3452d2"/><ellipse cx="1904.8" cy="238.9" rx="1.6" ry="5.3" fill="#2aa6e4"/><ellipse cx="1903.8" cy="246.4" rx="1.7" ry="5.7" fill="#2aa6e4"/><ellipse cx="1904.1" cy="244.8" rx="1.8" ry="5.8" fill="#2aa6e4"/><ellipse cx="1904.8" cy="238.9" rx="1.1" ry="3.6" fill="#5cc64c"/><ellipse cx="1903.8" cy="246.4" rx="1.2" ry="3.8" fill="#5cc64c"/><ellipse cx="1904.1" cy="244.8" rx="1.2" ry="3.9" fill="#5cc64c"/><ellipse cx="1918.9" cy="240.3" rx="8.2" ry="10.8" fill="#6a4cc0"/><ellipse cx="1918.0" cy="244.7" rx="7.6" ry="10.0" fill="#6a4cc0"/><ellipse cx="1917.8" cy="245.8" rx="7.9" ry="10.3" fill="#6a4cc0"/><ellipse cx="1918.9" cy="240.3" rx="7.2" ry="9.5" fill="#3452d2"/><ellipse cx="1918.0" cy="244.7" rx="6.7" ry="8.8" fill="#3452d2"/><ellipse cx="1917.8" cy="245.8" rx="7.0" ry="9.1" fill="#3452d2"/><ellipse cx="1918.9" cy="240.3" rx="3.5" ry="4.5" fill="#2aa6e4"/><ellipse cx="1918.0" cy="244.7" rx="3.2" ry="4.2" fill="#2aa6e4"/><ellipse cx="1917.8" cy="245.8" rx="3.3" ry="4.3" fill="#2aa6e4"/><ellipse cx="1918.9" cy="240.3" rx="2.3" ry="3.0" fill="#5cc64c"/><ellipse cx="1918.0" cy="244.7" rx="2.1" ry="2.8" fill="#5cc64c"/><ellipse cx="1917.8" cy="245.8" rx="2.2" ry="2.9" fill="#5cc64c"/><ellipse cx="1916.2" cy="344.3" rx="8.7" ry="12.3" fill="#6a4cc0"/><ellipse cx="1910.2" cy="339.4" rx="8.9" ry="12.6" fill="#6a4cc0"/><ellipse cx="1912.2" cy="338.8" rx="7.6" ry="10.8" fill="#6a4cc0"/><ellipse cx="1916.2" cy="344.3" rx="7.6" ry="10.8" fill="#3452d2"/><ellipse cx="1910.2" cy="339.4" rx="7.8" ry="11.1" fill="#3452d2"/><ellipse cx="1912.2" cy="338.8" rx="6.7" ry="9.5" fill="#3452d2"/><ellipse cx="1916.2" cy="344.3" rx="3.6" ry="5.2" fill="#2aa6e4"/><ellipse cx="1910.2" cy="339.4" rx="3.7" ry="5.3" fill="#2aa6e4"/><ellipse cx="1912.2" cy="338.8" rx="3.2" ry="4.5" fill="#2aa6e4"/><ellipse cx="1916.2" cy="344.3" rx="2.4" ry="3.4" fill="#5cc64c"/><ellipse cx="1910.2" cy="339.4" rx="2.5" ry="3.5" fill="#5cc64c"/><ellipse cx="1912.2" cy="338.8" rx="2.1" ry="3.0" fill="#5cc64c"/><ellipse cx="1916.2" cy="344.3" rx="1.3" ry="1.8" fill="#e6dc3c"/><ellipse cx="1910.2" cy="339.4" rx="1.3" ry="1.9" fill="#e6dc3c"/><ellipse cx="1912.2" cy="338.8" rx="1.1" ry="1.6" fill="#e6dc3c"/><ellipse cx="1916.2" cy="344.3" rx="0.8" ry="0.9" fill="#e2261e"/><ellipse cx="1910.2" cy="339.4" rx="0.8" ry="0.9" fill="#e2261e"/><ellipse cx="1912.2" cy="338.8" rx="0.8" ry="0.8" fill="#e2261e"/><ellipse cx="1908.9" cy="441.7" rx="8.4" ry="9.2" fill="#6a4cc0"/><ellipse cx="1910.6" cy="443.4" rx="8.3" ry="9.1" fill="#6a4cc0"/><ellipse cx="1907.0" cy="442.4" rx="7.7" ry="8.4" fill="#6a4cc0"/><ellipse cx="1908.9" cy="441.7" rx="7.4" ry="8.1" fill="#3452d2"/><ellipse cx="1910.6" cy="443.4" rx="7.3" ry="8.0" fill="#3452d2"/><ellipse cx="1907.0" cy="442.4" rx="6.8" ry="7.4" fill="#3452d2"/><ellipse cx="1908.9" cy="441.7" rx="3.5" ry="3.9" fill="#2aa6e4"/><ellipse cx="1910.6" cy="443.4" rx="3.5" ry="3.8" fill="#2aa6e4"/><ellipse cx="1907.0" cy="442.4" rx="3.2" ry="3.5" fill="#2aa6e4"/><ellipse cx="1914.4" cy="542.7" rx="6.3" ry="4.6" fill="#6a4cc0"/><ellipse cx="1916.6" cy="540.6" rx="6.4" ry="4.6" fill="#6a4cc0"/><ellipse cx="1914.9" cy="543.5" rx="6.5" ry="4.7" fill="#6a4cc0"/><ellipse cx="1914.4" cy="542.7" rx="5.6" ry="4.1" fill="#3452d2"/><ellipse cx="1916.6" cy="540.6" rx="5.6" ry="4.1" fill="#3452d2"/><ellipse cx="1914.9" cy="543.5" rx="5.7" ry="4.1" fill="#3452d2"/><ellipse cx="1911.4" cy="641.2" rx="6.0" ry="4.4" fill="#6a4cc0"/><ellipse cx="1912.1" cy="643.4" rx="6.1" ry="4.4" fill="#6a4cc0"/><ellipse cx="1910.6" cy="641.5" rx="6.3" ry="4.6" fill="#6a4cc0"/><ellipse cx="1911.4" cy="641.2" rx="5.3" ry="3.8" fill="#3452d2"/><ellipse cx="1912.1" cy="643.4" rx="5.3" ry="3.9" fill="#3452d2"/><ellipse cx="1910.6" cy="641.5" rx="5.6" ry="4.0" fill="#3452d2"/><ellipse cx="1905.2" cy="735.9" rx="11.7" ry="10.2" fill="#6a4cc0"/><ellipse cx="1905.8" cy="739.9" rx="12.6" ry="11.0" fill="#6a4cc0"/><ellipse cx="1909.0" cy="734.0" rx="12.4" ry="10.9" fill="#6a4cc0"/><ellipse cx="1905.2" cy="735.9" rx="10.3" ry="9.0" fill="#3452d2"/><ellipse cx="1905.8" cy="739.9" rx="11.1" ry="9.7" fill="#3452d2"/><ellipse cx="1909.0" cy="734.0" rx="11.0" ry="9.6" fill="#3452d2"/><ellipse cx="1905.2" cy="735.9" rx="4.9" ry="4.3" fill="#2aa6e4"/><ellipse cx="1905.8" cy="739.9" rx="5.3" ry="4.6" fill="#2aa6e4"/><ellipse cx="1909.0" cy="734.0" rx="5.2" ry="4.6" fill="#2aa6e4"/><ellipse cx="1925.8" cy="776.6" rx="5.1" ry="7.4" fill="#6a4cc0"/><ellipse cx="1925.9" cy="779.7" rx="5.0" ry="7.3" fill="#6a4cc0"/><ellipse cx="1924.5" cy="779.3" rx="5.0" ry="7.2" fill="#6a4cc0"/><ellipse cx="1925.8" cy="776.6" rx="4.5" ry="6.5" fill="#3452d2"/><ellipse cx="1925.9" cy="779.7" rx="4.4" ry="6.4" fill="#3452d2"/><ellipse cx="1924.5" cy="779.3" rx="4.4" ry="6.4" fill="#3452d2"/><ellipse cx="1925.8" cy="776.6" rx="2.1" ry="3.1" fill="#2aa6e4"/><ellipse cx="1925.9" cy="779.7" rx="2.1" ry="3.1" fill="#2aa6e4"/><ellipse cx="1924.5" cy="779.3" rx="2.1" ry="3.0" fill="#2aa6e4"/><ellipse cx="1907.6" cy="837.4" rx="16.4" ry="19.4" fill="#6a4cc0"/><ellipse cx="1915.1" cy="835.8" rx="14.3" ry="16.8" fill="#6a4cc0"/><ellipse cx="1913.5" cy="833.7" rx="15.8" ry="18.6" fill="#6a4cc0"/><ellipse cx="1907.6" cy="837.4" rx="14.5" ry="17.1" fill="#3452d2"/><ellipse cx="1915.1" cy="835.8" rx="12.6" ry="14.8" fill="#3452d2"/><ellipse cx="1913.5" cy="833.7" rx="13.9" ry="16.3" fill="#3452d2"/><ellipse cx="1907.6" cy="837.4" rx="6.9" ry="8.1" fill="#2aa6e4"/><ellipse cx="1915.1" cy="835.8" rx="6.0" ry="7.1" fill="#2aa6e4"/><ellipse cx="1913.5" cy="833.7" rx="6.6" ry="7.8" fill="#2aa6e4"/><ellipse cx="1907.6" cy="837.4" rx="4.6" ry="5.4" fill="#5cc64c"/><ellipse cx="1915.1" cy="835.8" rx="4.0" ry="4.7" fill="#5cc64c"/><ellipse cx="1913.5" cy="833.7" rx="4.4" ry="5.2" fill="#5cc64c"/><ellipse cx="1907.6" cy="837.4" rx="2.5" ry="2.9" fill="#e6dc3c"/><ellipse cx="1915.1" cy="835.8" rx="2.1" ry="2.5" fill="#e6dc3c"/><ellipse cx="1913.5" cy="833.7" rx="2.4" ry="2.8" fill="#e6dc3c"/><ellipse cx="1907.6" cy="837.4" rx="1.2" ry="1.4" fill="#e2261e"/><ellipse cx="1915.1" cy="835.8" rx="1.0" ry="1.2" fill="#e2261e"/><ellipse cx="1913.5" cy="833.7" rx="1.1" ry="1.3" fill="#e2261e"/><ellipse cx="1926.6" cy="890.0" rx="8.7" ry="11.4" fill="#6a4cc0"/><ellipse cx="1931.0" cy="889.8" rx="8.3" ry="10.9" fill="#6a4cc0"/><ellipse cx="1926.3" cy="893.1" rx="8.2" ry="10.8" fill="#6a4cc0"/><ellipse cx="1926.6" cy="890.0" rx="7.6" ry="10.0" fill="#3452d2"/><ellipse cx="1931.0" cy="889.8" rx="7.3" ry="9.6" fill="#3452d2"/><ellipse cx="1926.3" cy="893.1" rx="7.3" ry="9.5" fill="#3452d2"/><ellipse cx="1926.6" cy="890.0" rx="3.6" ry="4.8" fill="#2aa6e4"/><ellipse cx="1931.0" cy="889.8" rx="3.5" ry="4.6" fill="#2aa6e4"/><ellipse cx="1926.3" cy="893.1" rx="3.5" ry="4.5" fill="#2aa6e4"/><ellipse cx="1926.6" cy="890.0" rx="2.4" ry="3.2" fill="#5cc64c"/><ellipse cx="1931.0" cy="889.8" rx="2.3" ry="3.0" fill="#5cc64c"/><ellipse cx="1926.3" cy="893.1" rx="2.3" ry="3.0" fill="#5cc64c"/><ellipse cx="1926.6" cy="890.0" rx="1.3" ry="1.7" fill="#e6dc3c"/><ellipse cx="1931.0" cy="889.8" rx="1.2" ry="1.6" fill="#e6dc3c"/><ellipse cx="1926.3" cy="893.1" rx="1.2" ry="1.6" fill="#e6dc3c"/><ellipse cx="1926.6" cy="890.0" rx="0.8" ry="0.8" fill="#e2261e"/><ellipse cx="1931.0" cy="889.8" rx="0.8" ry="0.8" fill="#e2261e"/><ellipse cx="1926.3" cy="893.1" rx="0.8" ry="0.8" fill="#e2261e"/><ellipse cx="1967.2" cy="144.5" rx="7.1" ry="6.9" fill="#6a4cc0"/><ellipse cx="1965.6" cy="144.4" rx="7.9" ry="7.7" fill="#6a4cc0"/><ellipse cx="1962.1" cy="146.4" rx="7.1" ry="6.9" fill="#6a4cc0"/><ellipse cx="1967.2" cy="144.5" rx="6.3" ry="6.1" fill="#3452d2"/><ellipse cx="1965.6" cy="144.4" rx="7.0" ry="6.8" fill="#3452d2"/><ellipse cx="1962.1" cy="146.4" rx="6.3" ry="6.1" fill="#3452d2"/><ellipse cx="1967.2" cy="144.5" rx="3.0" ry="2.9" fill="#2aa6e4"/><ellipse cx="1965.6" cy="144.4" rx="3.3" ry="3.2" fill="#2aa6e4"/><ellipse cx="1962.1" cy="146.4" rx="3.0" ry="2.9" fill="#2aa6e4"/><ellipse cx="1959.1" cy="250.0" rx="15.6" ry="11.6" fill="#6a4cc0"/><ellipse cx="1957.0" cy="246.7" rx="14.5" ry="10.8" fill="#6a4cc0"/><ellipse cx="1957.8" cy="249.5" rx="14.5" ry="10.8" fill="#6a4cc0"/><ellipse cx="1959.1" cy="250.0" rx="13.7" ry="10.2" fill="#3452d2"/><ellipse cx="1957.0" cy="246.7" rx="12.8" ry="9.5" fill="#3452d2"/><ellipse cx="1957.8" cy="249.5" rx="12.8" ry="9.5" fill="#3452d2"/><ellipse cx="1959.1" cy="250.0" rx="6.5" ry="4.9" fill="#2aa6e4"/><ellipse cx="1957.0" cy="246.7" rx="6.1" ry="4.6" fill="#2aa6e4"/><ellipse cx="1957.8" cy="249.5" rx="6.1" ry="4.6" fill="#2aa6e4"/><ellipse cx="1954.4" cy="345.3" rx="5.9" ry="8.5" fill="#6a4cc0"/><ellipse cx="1955.4" cy="341.7" rx="5.9" ry="8.6" fill="#6a4cc0"/><ellipse cx="1956.3" cy="342.6" rx="6.4" ry="9.3" fill="#6a4cc0"/><ellipse cx="1954.4" cy="345.3" rx="5.2" ry="7.5" fill="#3452d2"/><ellipse cx="1955.4" cy="341.7" rx="5.2" ry="7.6" fill="#3452d2"/><ellipse cx="1956.3" cy="342.6" rx="5.6" ry="8.2" fill="#3452d2"/><ellipse cx="1954.4" cy="345.3" rx="2.5" ry="3.6" fill="#2aa6e4"/><ellipse cx="1955.4" cy="341.7" rx="2.5" ry="3.6" fill="#2aa6e4"/><ellipse cx="1956.3" cy="342.6" rx="2.7" ry="3.9" fill="#2aa6e4"/><ellipse cx="1954.4" cy="345.3" rx="1.6" ry="2.4" fill="#5cc64c"/><ellipse cx="1955.4" cy="341.7" rx="1.7" ry="2.4" fill="#5cc64c"/><ellipse cx="1956.3" cy="342.6" rx="1.8" ry="2.6" fill="#5cc64c"/><ellipse cx="1964.6" cy="639.6" rx="4.0" ry="5.3" fill="#6a4cc0"/><ellipse cx="1964.2" cy="639.8" rx="4.4" ry="5.8" fill="#6a4cc0"/><ellipse cx="1964.1" cy="641.7" rx="4.1" ry="5.4" fill="#6a4cc0"/><ellipse cx="1964.6" cy="639.6" rx="3.6" ry="4.6" fill="#3452d2"/><ellipse cx="1964.2" cy="639.8" rx="3.9" ry="5.1" fill="#3452d2"/><ellipse cx="1964.1" cy="641.7" rx="3.6" ry="4.7" fill="#3452d2"/><ellipse cx="1964.6" cy="639.6" rx="1.7" ry="2.2" fill="#2aa6e4"/><ellipse cx="1964.2" cy="639.8" rx="1.9" ry="2.4" fill="#2aa6e4"/><ellipse cx="1964.1" cy="641.7" rx="1.7" ry="2.3" fill="#2aa6e4"/><ellipse cx="1960.7" cy="739.7" rx="6.5" ry="9.5" fill="#6a4cc0"/><ellipse cx="1960.9" cy="742.7" rx="6.1" ry="8.9" fill="#6a4cc0"/><ellipse cx="1962.5" cy="739.0" rx="6.3" ry="9.2" fill="#6a4cc0"/><ellipse cx="1960.7" cy="739.7" rx="5.8" ry="8.4" fill="#3452d2"/><ellipse cx="1960.9" cy="742.7" rx="5.4" ry="7.8" fill="#3452d2"/><ellipse cx="1962.5" cy="739.0" rx="5.6" ry="8.1" fill="#3452d2"/><ellipse cx="1960.7" cy="739.7" rx="2.8" ry="4.0" fill="#2aa6e4"/><ellipse cx="1960.9" cy="742.7" rx="2.6" ry="3.7" fill="#2aa6e4"/><ellipse cx="1962.5" cy="739.0" rx="2.7" ry="3.9" fill="#2aa6e4"/><ellipse cx="1959.8" cy="841.6" rx="8.9" ry="11.6" fill="#6a4cc0"/><ellipse cx="1956.7" cy="842.1" rx="8.4" ry="11.0" fill="#6a4cc0"/><ellipse cx="1960.3" cy="835.3" rx="8.7" ry="11.4" fill="#6a4cc0"/><ellipse cx="1959.8" cy="841.6" rx="7.8" ry="10.2" fill="#3452d2"/><ellipse cx="1956.7" cy="842.1" rx="7.4" ry="9.7" fill="#3452d2"/><ellipse cx="1960.3" cy="835.3" rx="7.7" ry="10.0" fill="#3452d2"/><ellipse cx="1959.8" cy="841.6" rx="3.7" ry="4.9" fill="#2aa6e4"/><ellipse cx="1956.7" cy="842.1" rx="3.5" ry="4.6" fill="#2aa6e4"/><ellipse cx="1960.3" cy="835.3" rx="3.7" ry="4.8" fill="#2aa6e4"/><ellipse cx="2000.7" cy="247.5" rx="4.3" ry="5.6" fill="#6a4cc0"/><ellipse cx="2001.7" cy="244.3" rx="3.8" ry="5.0" fill="#6a4cc0"/><ellipse cx="2002.9" cy="247.3" rx="4.4" ry="5.8" fill="#6a4cc0"/><ellipse cx="2000.7" cy="247.5" rx="3.8" ry="4.9" fill="#3452d2"/><ellipse cx="2001.7" cy="244.3" rx="3.3" ry="4.4" fill="#3452d2"/><ellipse cx="2002.9" cy="247.3" rx="3.9" ry="5.1" fill="#3452d2"/><ellipse cx="2004.6" cy="536.8" rx="2.0" ry="4.4" fill="#6a4cc0"/><ellipse cx="2004.4" cy="537.7" rx="2.2" ry="4.8" fill="#6a4cc0"/><ellipse cx="2003.1" cy="537.4" rx="2.2" ry="4.8" fill="#6a4cc0"/><ellipse cx="2004.6" cy="536.8" rx="1.8" ry="3.9" fill="#3452d2"/><ellipse cx="2004.4" cy="537.7" rx="1.9" ry="4.2" fill="#3452d2"/><ellipse cx="2003.1" cy="537.4" rx="1.9" ry="4.2" fill="#3452d2"/><ellipse cx="2007.6" cy="642.1" rx="4.0" ry="4.3" fill="#6a4cc0"/><ellipse cx="2005.3" cy="642.4" rx="4.1" ry="4.5" fill="#6a4cc0"/><ellipse cx="2004.6" cy="641.0" rx="3.9" ry="4.2" fill="#6a4cc0"/><ellipse cx="2007.6" cy="642.1" rx="3.5" ry="3.8" fill="#3452d2"/><ellipse cx="2005.3" cy="642.4" rx="3.6" ry="4.0" fill="#3452d2"/><ellipse cx="2004.6" cy="641.0" rx="3.4" ry="3.7" fill="#3452d2"/><ellipse cx="2014.9" cy="742.5" rx="6.3" ry="4.6" fill="#6a4cc0"/><ellipse cx="2012.8" cy="743.5" rx="5.8" ry="4.2" fill="#6a4cc0"/><ellipse cx="2011.1" cy="741.9" rx="5.9" ry="4.3" fill="#6a4cc0"/><ellipse cx="2014.9" cy="742.5" rx="5.5" ry="4.0" fill="#3452d2"/><ellipse cx="2012.8" cy="743.5" rx="5.1" ry="3.7" fill="#3452d2"/><ellipse cx="2011.1" cy="741.9" rx="5.2" ry="3.8" fill="#3452d2"/><ellipse cx="2014.9" cy="742.5" rx="2.6" ry="1.9" fill="#2aa6e4"/><ellipse cx="2012.8" cy="743.5" rx="2.4" ry="1.8" fill="#2aa6e4"/><ellipse cx="2011.1" cy="741.9" rx="2.5" ry="1.8" fill="#2aa6e4"/><ellipse cx="2010.4" cy="841.9" rx="11.8" ry="11.5" fill="#6a4cc0"/><ellipse cx="2004.8" cy="839.2" rx="11.0" ry="10.7" fill="#6a4cc0"/><ellipse cx="2003.9" cy="844.7" rx="11.4" ry="11.0" fill="#6a4cc0"/><ellipse cx="2010.4" cy="841.9" rx="10.4" ry="10.1" fill="#3452d2"/><ellipse cx="2004.8" cy="839.2" rx="9.7" ry="9.4" fill="#3452d2"/><ellipse cx="2003.9" cy="844.7" rx="10.0" ry="9.7" fill="#3452d2"/><ellipse cx="2010.4" cy="841.9" rx="5.0" ry="4.8" fill="#2aa6e4"/><ellipse cx="2004.8" cy="839.2" rx="4.6" ry="4.5" fill="#2aa6e4"/><ellipse cx="2003.9" cy="844.7" rx="4.8" ry="4.6" fill="#2aa6e4"/><ellipse cx="2010.4" cy="841.9" rx="3.3" ry="3.2" fill="#5cc64c"/><ellipse cx="2004.8" cy="839.2" rx="3.1" ry="3.0" fill="#5cc64c"/><ellipse cx="2003.9" cy="844.7" rx="3.2" ry="3.1" fill="#5cc64c"/><ellipse cx="2000.8" cy="881.1" rx="3.5" ry="5.7" fill="#6a4cc0"/><ellipse cx="2001.9" cy="882.0" rx="3.3" ry="5.4" fill="#6a4cc0"/><ellipse cx="2001.7" cy="882.3" rx="3.3" ry="5.4" fill="#6a4cc0"/><ellipse cx="2000.8" cy="881.1" rx="3.1" ry="5.0" fill="#3452d2"/><ellipse cx="2001.9" cy="882.0" rx="2.9" ry="4.7" fill="#3452d2"/><ellipse cx="2001.7" cy="882.3" rx="2.9" ry="4.8" fill="#3452d2"/><ellipse cx="2000.8" cy="881.1" rx="1.5" ry="2.4" fill="#2aa6e4"/><ellipse cx="2001.9" cy="882.0" rx="1.4" ry="2.3" fill="#2aa6e4"/><ellipse cx="2001.7" cy="882.3" rx="1.4" ry="2.3" fill="#2aa6e4"/></g></g>
<g><line x1="1106.6" y1="310.5" x2="1149.8" y2="405.5" stroke="#ED1C24" stroke-width="3.3" stroke-linecap="butt"/><line x1="1149.8" y1="310.5" x2="1106.6" y2="405.5" stroke="#ED1C24" stroke-width="3.3" stroke-linecap="butt"/><line x1="1152.7" y1="310.5" x2="1195.9" y2="405.5" stroke="#ED1C24" stroke-width="3.3" stroke-linecap="butt"/><line x1="1195.9" y1="310.5" x2="1152.7" y2="405.5" stroke="#ED1C24" stroke-width="3.3" stroke-linecap="butt"/><line x1="1201.0" y1="610.5" x2="1244.2" y2="705.5" stroke="#ED1C24" stroke-width="3.3" stroke-linecap="butt"/><line x1="1244.2" y1="610.5" x2="1201.0" y2="705.5" stroke="#ED1C24" stroke-width="3.3" stroke-linecap="butt"/><line x1="1248.7" y1="610.5" x2="1291.9" y2="705.5" stroke="#ED1C24" stroke-width="3.3" stroke-linecap="butt"/><line x1="1291.9" y1="610.5" x2="1248.7" y2="705.5" stroke="#ED1C24" stroke-width="3.3" stroke-linecap="butt"/><line x1="1297.0" y1="710.5" x2="1340.2" y2="805.5" stroke="#ED1C24" stroke-width="3.3" stroke-linecap="butt"/><line x1="1340.2" y1="710.5" x2="1297.0" y2="805.5" stroke="#ED1C24" stroke-width="3.3" stroke-linecap="butt"/><line x1="1362.3" y1="508.3" x2="1405.5" y2="603.3" stroke="#ED1C24" stroke-width="3.3" stroke-linecap="butt"/><line x1="1405.5" y1="508.3" x2="1362.3" y2="603.3" stroke="#ED1C24" stroke-width="3.3" stroke-linecap="butt"/><line x1="1410.2" y1="708.3" x2="1453.4" y2="803.3" stroke="#ED1C24" stroke-width="3.3" stroke-linecap="butt"/><line x1="1453.4" y1="708.3" x2="1410.2" y2="803.3" stroke="#ED1C24" stroke-width="3.3" stroke-linecap="butt"/><line x1="1457.8" y1="708.3" x2="1501.0" y2="803.3" stroke="#ED1C24" stroke-width="3.3" stroke-linecap="butt"/><line x1="1501.0" y1="708.3" x2="1457.8" y2="803.3" stroke="#ED1C24" stroke-width="3.3" stroke-linecap="butt"/><line x1="1505.7" y1="808.3" x2="1548.9" y2="903.3" stroke="#ED1C24" stroke-width="3.3" stroke-linecap="butt"/><line x1="1548.9" y1="808.3" x2="1505.7" y2="903.3" stroke="#ED1C24" stroke-width="3.3" stroke-linecap="butt"/><line x1="1575.5" y1="508.5" x2="1618.8" y2="603.5" stroke="#ED1C24" stroke-width="3.3" stroke-linecap="butt"/><line x1="1618.8" y1="508.5" x2="1575.5" y2="603.5" stroke="#ED1C24" stroke-width="3.3" stroke-linecap="butt"/><line x1="1623.5" y1="608.5" x2="1666.8" y2="703.5" stroke="#ED1C24" stroke-width="3.3" stroke-linecap="butt"/><line x1="1666.8" y1="608.5" x2="1623.5" y2="703.5" stroke="#ED1C24" stroke-width="3.3" stroke-linecap="butt"/><line x1="1671.5" y1="708.5" x2="1714.8" y2="803.5" stroke="#ED1C24" stroke-width="3.3" stroke-linecap="butt"/><line x1="1714.8" y1="708.5" x2="1671.5" y2="803.5" stroke="#ED1C24" stroke-width="3.3" stroke-linecap="butt"/><line x1="1719.3" y1="808.5" x2="1762.6" y2="903.5" stroke="#ED1C24" stroke-width="3.3" stroke-linecap="butt"/><line x1="1762.6" y1="808.5" x2="1719.3" y2="903.5" stroke="#ED1C24" stroke-width="3.3" stroke-linecap="butt"/><line x1="1796.7" y1="708.7" x2="1840.2" y2="803.7" stroke="#ED1C24" stroke-width="3.3" stroke-linecap="butt"/><line x1="1840.2" y1="708.7" x2="1796.7" y2="803.7" stroke="#ED1C24" stroke-width="3.3" stroke-linecap="butt"/><line x1="1843.6" y1="908.7" x2="1887.1" y2="1003.7" stroke="#ED1C24" stroke-width="3.3" stroke-linecap="butt"/><line x1="1887.1" y1="908.7" x2="1843.6" y2="1003.7" stroke="#ED1C24" stroke-width="3.3" stroke-linecap="butt"/><line x1="1891.5" y1="908.7" x2="1935.0" y2="1003.7" stroke="#ED1C24" stroke-width="3.3" stroke-linecap="butt"/><line x1="1935.0" y1="908.7" x2="1891.5" y2="1003.7" stroke="#ED1C24" stroke-width="3.3" stroke-linecap="butt"/><line x1="1938.8" y1="908.7" x2="1982.3" y2="1003.7" stroke="#ED1C24" stroke-width="3.3" stroke-linecap="butt"/><line x1="1982.3" y1="908.7" x2="1938.8" y2="1003.7" stroke="#ED1C24" stroke-width="3.3" stroke-linecap="butt"/><line x1="1986.5" y1="908.7" x2="2030.0" y2="1003.7" stroke="#ED1C24" stroke-width="3.3" stroke-linecap="butt"/><line x1="2030.0" y1="908.7" x2="1986.5" y2="1003.7" stroke="#ED1C24" stroke-width="3.3" stroke-linecap="butt"/></g>
<text transform="translate(-2,1045.3) scale(0.93,1)" font-size="56" font-weight="bold">c</text>
<path d="M150.9,1104.4 V1426.9 H475.1" fill="none" stroke="#000" stroke-width="3.8" stroke-linejoin="miter" stroke-linecap="square"/>
<line x1="141.4" y1="1426.9" x2="150.9" y2="1426.9" stroke="#000" stroke-width="3.2" stroke-linecap="butt"/>
<text x="134.3" y="1430.4" font-size="30" text-anchor="end">10</text>
<text x="134.8" y="1420.6" font-size="17.5">3</text>
<line x1="141.4" y1="1373.2" x2="150.9" y2="1373.2" stroke="#000" stroke-width="3.2" stroke-linecap="butt"/>
<text x="133.2" y="1376.7" font-size="30" text-anchor="end">10</text>
<text x="133.7" y="1366.9" font-size="17.5">4</text>
<line x1="141.4" y1="1319.4" x2="150.9" y2="1319.4" stroke="#000" stroke-width="3.2" stroke-linecap="butt"/>
<text x="132.0" y="1322.9" font-size="30" text-anchor="end">10</text>
<text x="132.5" y="1313.1" font-size="17.5">5</text>
<line x1="141.4" y1="1265.7" x2="150.9" y2="1265.7" stroke="#000" stroke-width="3.2" stroke-linecap="butt"/>
<text x="130.8" y="1269.2" font-size="30" text-anchor="end">10</text>
<text x="131.3" y="1259.4" font-size="17.5">6</text>
<line x1="141.4" y1="1211.9" x2="150.9" y2="1211.9" stroke="#000" stroke-width="3.2" stroke-linecap="butt"/>
<text x="129.7" y="1215.4" font-size="30" text-anchor="end">10</text>
<text x="130.2" y="1205.6" font-size="17.5">7</text>
<line x1="141.4" y1="1158.2" x2="150.9" y2="1158.2" stroke="#000" stroke-width="3.2" stroke-linecap="butt"/>
<text x="128.6" y="1161.7" font-size="30" text-anchor="end">10</text>
<text x="129.1" y="1151.9" font-size="17.5">8</text>
<line x1="141.4" y1="1104.4" x2="150.9" y2="1104.4" stroke="#000" stroke-width="3.2" stroke-linecap="butt"/>
<text x="127.4" y="1107.9" font-size="30" text-anchor="end">10</text>
<text x="127.9" y="1098.1" font-size="17.5">9</text>
<line x1="150.9" y1="1426.9" x2="150.9" y2="1438.4" stroke="#000" stroke-width="3.8" stroke-linecap="butt"/>
<text x="149.6" y="1466.1" font-size="29.5" text-anchor="middle">-5</text>
<line x1="197.2" y1="1426.9" x2="197.2" y2="1438.4" stroke="#000" stroke-width="3.8" stroke-linecap="butt"/>
<text x="196.5" y="1466.1" font-size="29.5" text-anchor="middle">-1</text>
<line x1="243.5" y1="1426.9" x2="243.5" y2="1438.4" stroke="#000" stroke-width="3.8" stroke-linecap="butt"/>
<text x="243.4" y="1466.1" font-size="29.5" text-anchor="middle">2</text>
<line x1="289.8" y1="1426.9" x2="289.8" y2="1438.4" stroke="#000" stroke-width="3.8" stroke-linecap="butt"/>
<text x="290.3" y="1466.1" font-size="29.5" text-anchor="middle">6</text>
<line x1="336.2" y1="1426.9" x2="336.2" y2="1438.4" stroke="#000" stroke-width="3.8" stroke-linecap="butt"/>
<text x="337.3" y="1466.1" font-size="29.5" text-anchor="middle">9</text>
<line x1="382.5" y1="1426.9" x2="382.5" y2="1438.4" stroke="#000" stroke-width="3.8" stroke-linecap="butt"/>
<text x="384.2" y="1466.1" font-size="29.5" text-anchor="middle">13</text>
<line x1="428.8" y1="1426.9" x2="428.8" y2="1438.4" stroke="#000" stroke-width="3.8" stroke-linecap="butt"/>
<text x="431.1" y="1466.1" font-size="29.5" text-anchor="middle">17</text>
<line x1="475.1" y1="1426.9" x2="475.1" y2="1438.4" stroke="#000" stroke-width="3.8" stroke-linecap="butt"/>
<text x="478.0" y="1466.1" font-size="29.5" text-anchor="middle">20</text>
<text x="316.5" y="1072.0" font-size="29.8" text-anchor="middle">Untransduced T cells</text>
<text x="309.8" y="1508.6" font-size="30" text-anchor="middle">Days Post-Treatment Initiation</text>
<text transform="translate(40.1,1251.0) rotate(-90)" font-size="29.5" text-anchor="middle">Luminescent Flux</text>
<text transform="translate(74.5,1251.0) rotate(-90)" font-size="29.5" text-anchor="middle">(photons/sec)</text>
<polyline points="150.9,1223.2 197.2,1230.9 243.5,1227.2 289.8,1210.9 336.2,1190.1" fill="none" stroke="#3A54A4" stroke-width="3.2" stroke-linejoin="round"/>
<polyline points="150.9,1240.1 197.2,1211.7 243.5,1170.8 289.8,1189.3 336.2,1190.1 382.5,1197.5" fill="none" stroke="#3A54A4" stroke-width="3.2" stroke-linejoin="round"/>
<polyline points="150.9,1294.0 197.2,1194.1" fill="none" stroke="#3A54A4" stroke-width="3.2" stroke-linejoin="round"/>
<polyline points="150.9,1273.9 197.2,1241.6 243.5,1185.6 289.8,1192.3 336.2,1190.1" fill="none" stroke="#3A54A4" stroke-width="3.2" stroke-linejoin="round"/>
<polyline points="150.9,1273.9 197.2,1261.0" fill="none" stroke="#3A54A4" stroke-width="3.2" stroke-linejoin="round"/>
<circle cx="150.9" cy="1223.2" r="6.2" fill="#3A54A4"/>
<circle cx="197.2" cy="1230.9" r="6.2" fill="#3A54A4"/>
<circle cx="243.5" cy="1227.2" r="6.2" fill="#3A54A4"/>
<circle cx="289.8" cy="1210.9" r="6.2" fill="#3A54A4"/>
<circle cx="336.2" cy="1190.1" r="6.2" fill="#3A54A4"/>
<circle cx="150.9" cy="1240.1" r="6.2" fill="#3A54A4"/>
<circle cx="197.2" cy="1211.7" r="6.2" fill="#3A54A4"/>
<circle cx="243.5" cy="1170.8" r="6.2" fill="#3A54A4"/>
<circle cx="289.8" cy="1189.3" r="6.2" fill="#3A54A4"/>
<circle cx="336.2" cy="1190.1" r="6.2" fill="#3A54A4"/>
<circle cx="382.5" cy="1197.5" r="6.2" fill="#3A54A4"/>
<circle cx="150.9" cy="1294.0" r="6.2" fill="#3A54A4"/>
<circle cx="197.2" cy="1194.1" r="6.2" fill="#3A54A4"/>
<circle cx="150.9" cy="1273.9" r="6.2" fill="#3A54A4"/>
<circle cx="197.2" cy="1241.6" r="6.2" fill="#3A54A4"/>
<circle cx="243.5" cy="1185.6" r="6.2" fill="#3A54A4"/>
<circle cx="289.8" cy="1192.3" r="6.2" fill="#3A54A4"/>
<circle cx="336.2" cy="1190.1" r="6.2" fill="#3A54A4"/>
<circle cx="150.9" cy="1273.9" r="6.2" fill="#3A54A4"/>
<circle cx="197.2" cy="1261.0" r="6.2" fill="#3A54A4"/>
<path d="M620.7,1101.6 V1421.8 H941.8" fill="none" stroke="#000" stroke-width="3.8" stroke-linejoin="miter" stroke-linecap="square"/>
<line x1="611.2" y1="1421.8" x2="620.7" y2="1421.8" stroke="#000" stroke-width="3.2" stroke-linecap="butt"/>
<text x="598.4" y="1429.5" font-size="30" text-anchor="end">10</text>
<text x="598.9" y="1419.7" font-size="17.5">3</text>
<line x1="611.2" y1="1368.4" x2="620.7" y2="1368.4" stroke="#000" stroke-width="3.2" stroke-linecap="butt"/>
<text x="597.3" y="1376.1" font-size="30" text-anchor="end">10</text>
<text x="597.8" y="1366.3" font-size="17.5">4</text>
<line x1="611.2" y1="1315.1" x2="620.7" y2="1315.1" stroke="#000" stroke-width="3.2" stroke-linecap="butt"/>
<text x="596.1" y="1322.8" font-size="30" text-anchor="end">10</text>
<text x="596.6" y="1313.0" font-size="17.5">5</text>
<line x1="611.2" y1="1261.7" x2="620.7" y2="1261.7" stroke="#000" stroke-width="3.2" stroke-linecap="butt"/>
<text x="595.0" y="1269.4" font-size="30" text-anchor="end">10</text>
<text x="595.5" y="1259.6" font-size="17.5">6</text>
<line x1="611.2" y1="1208.3" x2="620.7" y2="1208.3" stroke="#000" stroke-width="3.2" stroke-linecap="butt"/>
<text x="593.8" y="1216.0" font-size="30" text-anchor="end">10</text>
<text x="594.3" y="1206.2" font-size="17.5">7</text>
<line x1="611.2" y1="1155.0" x2="620.7" y2="1155.0" stroke="#000" stroke-width="3.2" stroke-linecap="butt"/>
<text x="592.7" y="1162.7" font-size="30" text-anchor="end">10</text>
<text x="593.2" y="1152.9" font-size="17.5">8</text>
<line x1="611.2" y1="1101.6" x2="620.7" y2="1101.6" stroke="#000" stroke-width="3.2" stroke-linecap="butt"/>
<text x="591.5" y="1109.3" font-size="30" text-anchor="end">10</text>
<text x="592.0" y="1099.5" font-size="17.5">9</text>
<line x1="620.7" y1="1421.8" x2="620.7" y2="1433.3" stroke="#000" stroke-width="3.8" stroke-linecap="butt"/>
<text x="613.9" y="1466.6" font-size="29.5" text-anchor="middle">-5</text>
<line x1="666.6" y1="1421.8" x2="666.6" y2="1433.3" stroke="#000" stroke-width="3.8" stroke-linecap="butt"/>
<text x="660.8" y="1466.6" font-size="29.5" text-anchor="middle">-1</text>
<line x1="712.4" y1="1421.8" x2="712.4" y2="1433.3" stroke="#000" stroke-width="3.8" stroke-linecap="butt"/>
<text x="707.8" y="1466.6" font-size="29.5" text-anchor="middle">2</text>
<line x1="758.3" y1="1421.8" x2="758.3" y2="1433.3" stroke="#000" stroke-width="3.8" stroke-linecap="butt"/>
<text x="754.7" y="1466.6" font-size="29.5" text-anchor="middle">6</text>
<line x1="804.2" y1="1421.8" x2="804.2" y2="1433.3" stroke="#000" stroke-width="3.8" stroke-linecap="butt"/>
<text x="801.7" y="1466.6" font-size="29.5" text-anchor="middle">9</text>
<line x1="850.1" y1="1421.8" x2="850.1" y2="1433.3" stroke="#000" stroke-width="3.8" stroke-linecap="butt"/>
<text x="848.6" y="1466.6" font-size="29.5" text-anchor="middle">13</text>
<line x1="895.9" y1="1421.8" x2="895.9" y2="1433.3" stroke="#000" stroke-width="3.8" stroke-linecap="butt"/>
<text x="895.5" y="1466.6" font-size="29.5" text-anchor="middle">17</text>
<line x1="941.8" y1="1421.8" x2="941.8" y2="1433.3" stroke="#000" stroke-width="3.8" stroke-linecap="butt"/>
<text x="942.5" y="1466.6" font-size="29.5" text-anchor="middle">20</text>
<text x="783.6" y="1073.0" font-size="29.8" text-anchor="middle">STEAP1-mBBζ CAR T cells</text>
<text x="777.2" y="1509.4" font-size="30" text-anchor="middle">Days Post-Treatment Initiation</text>
<text transform="translate(509.3,1258.0) rotate(-90)" font-size="29.5" text-anchor="middle">Luminescent Flux</text>
<text transform="translate(543.5,1258.0) rotate(-90)" font-size="29.5" text-anchor="middle">(photons/sec)</text>
<polyline points="620.7,1232.0 666.6,1225.4 712.4,1205.1 758.3,1235.6 804.2,1252.3 850.1,1214.9" fill="none" stroke="#ED1C24" stroke-width="3.2" stroke-linejoin="round"/>
<polyline points="620.7,1305.8 666.6,1191.3 712.4,1218.3 758.3,1241.7 804.2,1297.0 850.1,1247.8 895.9,1225.0" fill="none" stroke="#ED1C24" stroke-width="3.2" stroke-linejoin="round"/>
<polyline points="620.7,1292.6 666.6,1232.6 712.4,1205.1 758.3,1241.7 804.2,1297.0" fill="none" stroke="#ED1C24" stroke-width="3.2" stroke-linejoin="round"/>
<polyline points="620.7,1273.8 666.6,1252.3 712.4,1210.0 758.3,1256.4 804.2,1297.0" fill="none" stroke="#ED1C24" stroke-width="3.2" stroke-linejoin="round"/>
<circle cx="620.7" cy="1232.0" r="6.2" fill="#ED1C24"/>
<circle cx="666.6" cy="1225.4" r="6.2" fill="#ED1C24"/>
<circle cx="712.4" cy="1205.1" r="6.2" fill="#ED1C24"/>
<circle cx="758.3" cy="1235.6" r="6.2" fill="#ED1C24"/>
<circle cx="804.2" cy="1252.3" r="6.2" fill="#ED1C24"/>
<circle cx="850.1" cy="1214.9" r="6.2" fill="#ED1C24"/>
<circle cx="620.7" cy="1305.8" r="6.2" fill="#ED1C24"/>
<circle cx="666.6" cy="1191.3" r="6.2" fill="#ED1C24"/>
<circle cx="712.4" cy="1218.3" r="6.2" fill="#ED1C24"/>
<circle cx="758.3" cy="1241.7" r="6.2" fill="#ED1C24"/>
<circle cx="804.2" cy="1297.0" r="6.2" fill="#ED1C24"/>
<circle cx="850.1" cy="1247.8" r="6.2" fill="#ED1C24"/>
<circle cx="895.9" cy="1225.0" r="6.2" fill="#ED1C24"/>
<circle cx="620.7" cy="1292.6" r="6.2" fill="#ED1C24"/>
<circle cx="666.6" cy="1232.6" r="6.2" fill="#ED1C24"/>
<circle cx="712.4" cy="1205.1" r="6.2" fill="#ED1C24"/>
<circle cx="758.3" cy="1241.7" r="6.2" fill="#ED1C24"/>
<circle cx="804.2" cy="1297.0" r="6.2" fill="#ED1C24"/>
<circle cx="620.7" cy="1273.8" r="6.2" fill="#ED1C24"/>
<circle cx="666.6" cy="1252.3" r="6.2" fill="#ED1C24"/>
<circle cx="712.4" cy="1210.0" r="6.2" fill="#ED1C24"/>
<circle cx="758.3" cy="1256.4" r="6.2" fill="#ED1C24"/>
<circle cx="804.2" cy="1297.0" r="6.2" fill="#ED1C24"/>
<path d="M1101.7,1093.6 V1420.2 H1423.2" fill="none" stroke="#000" stroke-width="3.8" stroke-linejoin="miter" stroke-linecap="square"/>
<line x1="1092.2" y1="1420.2" x2="1101.7" y2="1420.2" stroke="#000" stroke-width="3.2" stroke-linecap="butt"/>
<text x="1085.6" y="1425.7" font-size="30" text-anchor="end">10</text>
<text x="1086.1" y="1415.9" font-size="17.5">3</text>
<line x1="1092.2" y1="1365.8" x2="1101.7" y2="1365.8" stroke="#000" stroke-width="3.2" stroke-linecap="butt"/>
<text x="1084.5" y="1371.3" font-size="30" text-anchor="end">10</text>
<text x="1085.0" y="1361.5" font-size="17.5">4</text>
<line x1="1092.2" y1="1311.3" x2="1101.7" y2="1311.3" stroke="#000" stroke-width="3.2" stroke-linecap="butt"/>
<text x="1083.3" y="1316.8" font-size="30" text-anchor="end">10</text>
<text x="1083.8" y="1307.0" font-size="17.5">5</text>
<line x1="1092.2" y1="1256.9" x2="1101.7" y2="1256.9" stroke="#000" stroke-width="3.2" stroke-linecap="butt"/>
<text x="1082.2" y="1262.4" font-size="30" text-anchor="end">10</text>
<text x="1082.7" y="1252.6" font-size="17.5">6</text>
<line x1="1092.2" y1="1202.5" x2="1101.7" y2="1202.5" stroke="#000" stroke-width="3.2" stroke-linecap="butt"/>
<text x="1081.0" y="1208.0" font-size="30" text-anchor="end">10</text>
<text x="1081.5" y="1198.2" font-size="17.5">7</text>
<line x1="1092.2" y1="1148.0" x2="1101.7" y2="1148.0" stroke="#000" stroke-width="3.2" stroke-linecap="butt"/>
<text x="1079.9" y="1153.5" font-size="30" text-anchor="end">10</text>
<text x="1080.4" y="1143.7" font-size="17.5">8</text>
<line x1="1092.2" y1="1093.6" x2="1101.7" y2="1093.6" stroke="#000" stroke-width="3.2" stroke-linecap="butt"/>
<text x="1078.7" y="1099.1" font-size="30" text-anchor="end">10</text>
<text x="1079.2" y="1089.3" font-size="17.5">9</text>
<line x1="1101.7" y1="1420.2" x2="1101.7" y2="1431.7" stroke="#000" stroke-width="3.8" stroke-linecap="butt"/>
<text x="1098.0" y="1459.4" font-size="29.5" text-anchor="middle">-5</text>
<line x1="1147.6" y1="1420.2" x2="1147.6" y2="1431.7" stroke="#000" stroke-width="3.8" stroke-linecap="butt"/>
<text x="1145.1" y="1459.4" font-size="29.5" text-anchor="middle">-1</text>
<line x1="1193.6" y1="1420.2" x2="1193.6" y2="1431.7" stroke="#000" stroke-width="3.8" stroke-linecap="butt"/>
<text x="1192.1" y="1459.4" font-size="29.5" text-anchor="middle">2</text>
<line x1="1239.5" y1="1420.2" x2="1239.5" y2="1431.7" stroke="#000" stroke-width="3.8" stroke-linecap="butt"/>
<text x="1239.2" y="1459.4" font-size="29.5" text-anchor="middle">6</text>
<line x1="1285.4" y1="1420.2" x2="1285.4" y2="1431.7" stroke="#000" stroke-width="3.8" stroke-linecap="butt"/>
<text x="1286.3" y="1459.4" font-size="29.5" text-anchor="middle">9</text>
<line x1="1331.3" y1="1420.2" x2="1331.3" y2="1431.7" stroke="#000" stroke-width="3.8" stroke-linecap="butt"/>
<text x="1333.3" y="1459.4" font-size="29.5" text-anchor="middle">13</text>
<line x1="1377.3" y1="1420.2" x2="1377.3" y2="1431.7" stroke="#000" stroke-width="3.8" stroke-linecap="butt"/>
<text x="1380.4" y="1459.4" font-size="29.5" text-anchor="middle">17</text>
<line x1="1423.2" y1="1420.2" x2="1423.2" y2="1431.7" stroke="#000" stroke-width="3.8" stroke-linecap="butt"/>
<text x="1427.5" y="1459.4" font-size="29.5" text-anchor="middle">20</text>
<text x="1262.3" y="1072.0" font-size="29.8" text-anchor="middle">Untransduced T cells</text>
<text x="1258.3" y="1107.0" font-size="29.8" text-anchor="middle">+ CBD-IL-12</text>
<text x="1264.3" y="1508.5" font-size="30" text-anchor="middle">Days Post-Treatment Initiation</text>
<text transform="translate(1009.7,1250.8) rotate(-90)" font-size="29.5" text-anchor="middle">Luminescent Flux</text>
<text transform="translate(1044.0,1250.8) rotate(-90)" font-size="29.5" text-anchor="middle">(photons/sec)</text>
<polyline points="1101.7,1200.4 1147.6,1183.1 1193.6,1216.9 1239.5,1234.0 1285.4,1250.5 1331.3,1229.5 1377.3,1202.0" fill="none" stroke="#2DB34A" stroke-width="3.2" stroke-linejoin="round"/>
<polyline points="1101.7,1218.3 1147.6,1183.1 1193.6,1201.0 1239.5,1234.0" fill="none" stroke="#2DB34A" stroke-width="3.2" stroke-linejoin="round"/>
<polyline points="1101.7,1239.7 1147.6,1207.1 1193.6,1201.0 1239.5,1203.1 1285.4,1188.8 1331.3,1178.2" fill="none" stroke="#2DB34A" stroke-width="3.2" stroke-linejoin="round"/>
<polyline points="1101.7,1243.7 1147.6,1223.8 1193.6,1195.9 1239.5,1183.7 1285.4,1188.8" fill="none" stroke="#2DB34A" stroke-width="3.2" stroke-linejoin="round"/>
<circle cx="1101.7" cy="1200.4" r="6.2" fill="#2DB34A"/>
<circle cx="1147.6" cy="1183.1" r="6.2" fill="#2DB34A"/>
<circle cx="1193.6" cy="1216.9" r="6.2" fill="#2DB34A"/>
<circle cx="1239.5" cy="1234.0" r="6.2" fill="#2DB34A"/>
<circle cx="1285.4" cy="1250.5" r="6.2" fill="#2DB34A"/>
<circle cx="1331.3" cy="1229.5" r="6.2" fill="#2DB34A"/>
<circle cx="1377.3" cy="1202.0" r="6.2" fill="#2DB34A"/>
<circle cx="1101.7" cy="1218.3" r="6.2" fill="#2DB34A"/>
<circle cx="1147.6" cy="1183.1" r="6.2" fill="#2DB34A"/>
<circle cx="1193.6" cy="1201.0" r="6.2" fill="#2DB34A"/>
<circle cx="1239.5" cy="1234.0" r="6.2" fill="#2DB34A"/>
<circle cx="1101.7" cy="1239.7" r="6.2" fill="#2DB34A"/>
<circle cx="1147.6" cy="1207.1" r="6.2" fill="#2DB34A"/>
<circle cx="1193.6" cy="1201.0" r="6.2" fill="#2DB34A"/>
<circle cx="1239.5" cy="1203.1" r="6.2" fill="#2DB34A"/>
<circle cx="1285.4" cy="1188.8" r="6.2" fill="#2DB34A"/>
<circle cx="1331.3" cy="1178.2" r="6.2" fill="#2DB34A"/>
<circle cx="1101.7" cy="1243.7" r="6.2" fill="#2DB34A"/>
<circle cx="1147.6" cy="1223.8" r="6.2" fill="#2DB34A"/>
<circle cx="1193.6" cy="1195.9" r="6.2" fill="#2DB34A"/>
<circle cx="1239.5" cy="1183.7" r="6.2" fill="#2DB34A"/>
<circle cx="1285.4" cy="1188.8" r="6.2" fill="#2DB34A"/>
<path d="M1585.1,1090.7 V1420.2 H1909.3" fill="none" stroke="#000" stroke-width="3.8" stroke-linejoin="miter" stroke-linecap="square"/>
<line x1="1575.6" y1="1420.2" x2="1585.1" y2="1420.2" stroke="#000" stroke-width="3.2" stroke-linecap="butt"/>
<text x="1566.3" y="1429.0" font-size="30" text-anchor="end">10</text>
<text x="1566.8" y="1419.2" font-size="17.5">3</text>
<line x1="1575.6" y1="1365.3" x2="1585.1" y2="1365.3" stroke="#000" stroke-width="3.2" stroke-linecap="butt"/>
<text x="1565.1" y="1374.1" font-size="30" text-anchor="end">10</text>
<text x="1565.6" y="1364.3" font-size="17.5">4</text>
<line x1="1575.6" y1="1310.4" x2="1585.1" y2="1310.4" stroke="#000" stroke-width="3.2" stroke-linecap="butt"/>
<text x="1564.0" y="1319.2" font-size="30" text-anchor="end">10</text>
<text x="1564.5" y="1309.4" font-size="17.5">5</text>
<line x1="1575.6" y1="1255.5" x2="1585.1" y2="1255.5" stroke="#000" stroke-width="3.2" stroke-linecap="butt"/>
<text x="1562.8" y="1264.2" font-size="30" text-anchor="end">10</text>
<text x="1563.3" y="1254.5" font-size="17.5">6</text>
<line x1="1575.6" y1="1200.5" x2="1585.1" y2="1200.5" stroke="#000" stroke-width="3.2" stroke-linecap="butt"/>
<text x="1561.7" y="1209.3" font-size="30" text-anchor="end">10</text>
<text x="1562.2" y="1199.5" font-size="17.5">7</text>
<line x1="1575.6" y1="1145.6" x2="1585.1" y2="1145.6" stroke="#000" stroke-width="3.2" stroke-linecap="butt"/>
<text x="1560.5" y="1154.4" font-size="30" text-anchor="end">10</text>
<text x="1561.0" y="1144.6" font-size="17.5">8</text>
<line x1="1575.6" y1="1090.7" x2="1585.1" y2="1090.7" stroke="#000" stroke-width="3.2" stroke-linecap="butt"/>
<text x="1559.4" y="1099.5" font-size="30" text-anchor="end">10</text>
<text x="1559.9" y="1089.7" font-size="17.5">9</text>
<line x1="1585.1" y1="1420.2" x2="1585.1" y2="1431.7" stroke="#000" stroke-width="3.8" stroke-linecap="butt"/>
<text x="1580.6" y="1458.1" font-size="29.5" text-anchor="middle">-5</text>
<line x1="1631.4" y1="1420.2" x2="1631.4" y2="1431.7" stroke="#000" stroke-width="3.8" stroke-linecap="butt"/>
<text x="1627.6" y="1458.1" font-size="29.5" text-anchor="middle">-1</text>
<line x1="1677.7" y1="1420.2" x2="1677.7" y2="1431.7" stroke="#000" stroke-width="3.8" stroke-linecap="butt"/>
<text x="1674.5" y="1458.1" font-size="29.5" text-anchor="middle">2</text>
<line x1="1724.0" y1="1420.2" x2="1724.0" y2="1431.7" stroke="#000" stroke-width="3.8" stroke-linecap="butt"/>
<text x="1721.5" y="1458.1" font-size="29.5" text-anchor="middle">6</text>
<line x1="1770.4" y1="1420.2" x2="1770.4" y2="1431.7" stroke="#000" stroke-width="3.8" stroke-linecap="butt"/>
<text x="1768.5" y="1458.1" font-size="29.5" text-anchor="middle">9</text>
<line x1="1816.7" y1="1420.2" x2="1816.7" y2="1431.7" stroke="#000" stroke-width="3.8" stroke-linecap="butt"/>
<text x="1815.5" y="1458.1" font-size="29.5" text-anchor="middle">13</text>
<line x1="1863.0" y1="1420.2" x2="1863.0" y2="1431.7" stroke="#000" stroke-width="3.8" stroke-linecap="butt"/>
<text x="1862.4" y="1458.1" font-size="29.5" text-anchor="middle">17</text>
<line x1="1909.3" y1="1420.2" x2="1909.3" y2="1431.7" stroke="#000" stroke-width="3.8" stroke-linecap="butt"/>
<text x="1909.4" y="1458.1" font-size="29.5" text-anchor="middle">20</text>
<text x="1769.9" y="1072.0" font-size="29.8" text-anchor="middle">STEAP1-mBBζ CAR T cells</text>
<text x="1766.2" y="1107.0" font-size="29.8" text-anchor="middle">+ CBD-IL-12</text>
<text x="1743.6" y="1509.4" font-size="30" text-anchor="middle">Days Post-Treatment Initiation</text>
<text transform="translate(1478.5,1250.8) rotate(-90)" font-size="29.5" text-anchor="middle">Luminescent Flux</text>
<text transform="translate(1513.0,1250.8) rotate(-90)" font-size="29.5" text-anchor="middle">(photons/sec)</text>
<polyline points="1585.1,1200.6 1631.4,1198.0 1677.7,1172.1 1724.0,1211.6 1770.4,1252.9 1816.7,1247.8 1863.0,1247.8 1909.3,1279.3" fill="none" stroke="#8B4F9F" stroke-width="3.2" stroke-linejoin="round"/>
<polyline points="1585.1,1229.5 1631.4,1214.2 1677.7,1199.4 1724.0,1257.0 1770.4,1296.6 1816.7,1239.7 1863.0,1262.0 1909.3,1253.5" fill="none" stroke="#8B4F9F" stroke-width="3.2" stroke-linejoin="round"/>
<polyline points="1585.1,1242.7 1631.4,1237.6 1677.7,1233.2 1724.0,1256.0 1770.4,1267.7 1816.7,1218.3" fill="none" stroke="#8B4F9F" stroke-width="3.2" stroke-linejoin="round"/>
<polyline points="1585.1,1289.5 1631.4,1261.6 1677.7,1259.6 1724.0,1279.3 1770.4,1290.5 1816.7,1252.9 1863.0,1247.8 1909.3,1202.7" fill="none" stroke="#8B4F9F" stroke-width="3.2" stroke-linejoin="round"/>
<polyline points="1585.1,1267.7 1631.4,1288.1 1677.7,1290.1 1724.0,1280.4 1770.4,1302.7 1816.7,1273.2 1863.0,1221.0 1909.3,1235.6" fill="none" stroke="#8B4F9F" stroke-width="3.2" stroke-linejoin="round"/>
<circle cx="1585.1" cy="1200.6" r="6.2" fill="#8B4F9F"/>
<circle cx="1631.4" cy="1198.0" r="6.2" fill="#8B4F9F"/>
<circle cx="1677.7" cy="1172.1" r="6.2" fill="#8B4F9F"/>
<circle cx="1724.0" cy="1211.6" r="6.2" fill="#8B4F9F"/>
<circle cx="1770.4" cy="1252.9" r="6.2" fill="#8B4F9F"/>
<circle cx="1816.7" cy="1247.8" r="6.2" fill="#8B4F9F"/>
<circle cx="1863.0" cy="1247.8" r="6.2" fill="#8B4F9F"/>
<circle cx="1909.3" cy="1279.3" r="6.2" fill="#8B4F9F"/>
<circle cx="1585.1" cy="1229.5" r="6.2" fill="#8B4F9F"/>
<circle cx="1631.4" cy="1214.2" r="6.2" fill="#8B4F9F"/>
<circle cx="1677.7" cy="1199.4" r="6.2" fill="#8B4F9F"/>
<circle cx="1724.0" cy="1257.0" r="6.2" fill="#8B4F9F"/>
<circle cx="1770.4" cy="1296.6" r="6.2" fill="#8B4F9F"/>
<circle cx="1816.7" cy="1239.7" r="6.2" fill="#8B4F9F"/>
<circle cx="1863.0" cy="1262.0" r="6.2" fill="#8B4F9F"/>
<circle cx="1909.3" cy="1253.5" r="6.2" fill="#8B4F9F"/>
<circle cx="1585.1" cy="1242.7" r="6.2" fill="#8B4F9F"/>
<circle cx="1631.4" cy="1237.6" r="6.2" fill="#8B4F9F"/>
<circle cx="1677.7" cy="1233.2" r="6.2" fill="#8B4F9F"/>
<circle cx="1724.0" cy="1256.0" r="6.2" fill="#8B4F9F"/>
<circle cx="1770.4" cy="1267.7" r="6.2" fill="#8B4F9F"/>
<circle cx="1816.7" cy="1218.3" r="6.2" fill="#8B4F9F"/>
<circle cx="1585.1" cy="1289.5" r="6.2" fill="#8B4F9F"/>
<circle cx="1631.4" cy="1261.6" r="6.2" fill="#8B4F9F"/>
<circle cx="1677.7" cy="1259.6" r="6.2" fill="#8B4F9F"/>
<circle cx="1724.0" cy="1279.3" r="6.2" fill="#8B4F9F"/>
<circle cx="1770.4" cy="1290.5" r="6.2" fill="#8B4F9F"/>
<circle cx="1816.7" cy="1252.9" r="6.2" fill="#8B4F9F"/>
<circle cx="1863.0" cy="1247.8" r="6.2" fill="#8B4F9F"/>
<circle cx="1909.3" cy="1202.7" r="6.2" fill="#8B4F9F"/>
<circle cx="1585.1" cy="1267.7" r="6.2" fill="#8B4F9F"/>
<circle cx="1631.4" cy="1288.1" r="6.2" fill="#8B4F9F"/>
<circle cx="1677.7" cy="1290.1" r="6.2" fill="#8B4F9F"/>
<circle cx="1724.0" cy="1280.4" r="6.2" fill="#8B4F9F"/>
<circle cx="1770.4" cy="1302.7" r="6.2" fill="#8B4F9F"/>
<circle cx="1816.7" cy="1273.2" r="6.2" fill="#8B4F9F"/>
<circle cx="1863.0" cy="1221.0" r="6.2" fill="#8B4F9F"/>
<circle cx="1909.3" cy="1235.6" r="6.2" fill="#8B4F9F"/>
<text transform="translate(-2,1611.8) scale(0.93,1)" font-size="56" font-weight="bold">d</text>
<polyline points="141.8,1618.6 409.0,1618.6 409.0,1685.7 492.5,1685.7 492.5,1954.3" fill="none" stroke="#8B4F9F" stroke-width="3.9" stroke-linejoin="miter"/>
<polyline points="141.8,1618.6 275.4,1618.6 275.4,1702.5 409.0,1702.5 409.0,1786.4 425.7,1786.4 425.7,1870.4 442.4,1870.4 442.4,1954.3" fill="none" stroke="#ED1C24" stroke-width="3.9" stroke-linejoin="miter"/>
<polyline points="141.8,1618.6 258.7,1618.6 258.7,1702.5 308.8,1702.5 308.8,1786.4 358.9,1786.4 358.9,1870.4 425.7,1870.4 425.7,1954.3" fill="none" stroke="#2DB34A" stroke-width="3.9" stroke-linejoin="miter"/>
<polyline points="141.8,1618.6 158.5,1618.6 158.5,1752.9 308.8,1752.9 308.8,1887.2 358.9,1887.2 358.9,1954.3" fill="none" stroke="#3A54A4" stroke-width="3.9" stroke-linejoin="miter"/>
<path d="M141.8,1618.6 V1954.3 H559.3" fill="none" stroke="#000" stroke-width="3.8" stroke-linecap="square"/>
<line x1="124.3" y1="1954.3" x2="141.8" y2="1954.3" stroke="#000" stroke-width="3.8" stroke-linecap="butt"/>
<text x="119.8" y="1964.9" font-size="28.5" text-anchor="end">0</text>
<line x1="124.3" y1="1870.4" x2="141.8" y2="1870.4" stroke="#000" stroke-width="3.8" stroke-linecap="butt"/>
<text x="119.8" y="1881.0" font-size="28.5" text-anchor="end">25</text>
<line x1="124.3" y1="1786.4" x2="141.8" y2="1786.4" stroke="#000" stroke-width="3.8" stroke-linecap="butt"/>
<text x="119.8" y="1797.0" font-size="28.5" text-anchor="end">50</text>
<line x1="124.3" y1="1702.5" x2="141.8" y2="1702.5" stroke="#000" stroke-width="3.8" stroke-linecap="butt"/>
<text x="119.8" y="1713.1" font-size="28.5" text-anchor="end">75</text>
<line x1="124.3" y1="1618.6" x2="141.8" y2="1618.6" stroke="#000" stroke-width="3.8" stroke-linecap="butt"/>
<text x="119.8" y="1629.2" font-size="28.5" text-anchor="end">100</text>
<line x1="141.8" y1="1954.3" x2="141.8" y2="1971.3" stroke="#000" stroke-width="3.8" stroke-linecap="butt"/>
<text x="139.2" y="1999.0" font-size="28.5" text-anchor="middle">0</text>
<line x1="225.3" y1="1954.3" x2="225.3" y2="1971.3" stroke="#000" stroke-width="3.8" stroke-linecap="butt"/>
<text x="219.9" y="1999.0" font-size="28.5" text-anchor="middle">5</text>
<line x1="308.8" y1="1954.3" x2="308.8" y2="1971.3" stroke="#000" stroke-width="3.8" stroke-linecap="butt"/>
<text x="302.2" y="1999.0" font-size="28.5" text-anchor="middle">10</text>
<line x1="392.3" y1="1954.3" x2="392.3" y2="1971.3" stroke="#000" stroke-width="3.8" stroke-linecap="butt"/>
<text x="384.4" y="1999.0" font-size="28.5" text-anchor="middle">15</text>
<line x1="475.8" y1="1954.3" x2="475.8" y2="1971.3" stroke="#000" stroke-width="3.8" stroke-linecap="butt"/>
<text x="469.6" y="1999.0" font-size="28.5" text-anchor="middle">20</text>
<line x1="559.3" y1="1954.3" x2="559.3" y2="1971.3" stroke="#000" stroke-width="3.8" stroke-linecap="butt"/>
<text x="555.3" y="1999.0" font-size="28.5" text-anchor="middle">25</text>
<text x="350.3" y="2034.7" font-size="28.6" text-anchor="middle">Days Post-Treatment Initiation</text>
<text transform="translate(62.3,1785) rotate(-90)" font-size="28.8" text-anchor="middle">Percent Survival</text>
<text x="164.0" y="1933.7" font-size="27" text-anchor="start">p=0.002</text>
<line x1="52.6" y1="2092.0" x2="95.8" y2="2092.0" stroke="#3A54A4" stroke-width="4.6" stroke-linecap="butt"/>
<text x="120.7" y="2102.8" font-size="27.4" text-anchor="start">Untransduced T cells (n=5)</text>
<line x1="52.6" y1="2131.6" x2="95.8" y2="2131.6" stroke="#ED1C24" stroke-width="4.6" stroke-linecap="butt"/>
<text x="120.7" y="2142.3" font-size="27.4" text-anchor="start">STEAP1-mBBζ CAR T cells (n=4)</text>
<line x1="52.6" y1="2186.3" x2="95.8" y2="2186.3" stroke="#2DB34A" stroke-width="4.6" stroke-linecap="butt"/>
<line x1="74.2" y1="2186.3" x2="74.2" y2="2180.8" stroke="#2DB34A" stroke-width="3.4" stroke-linecap="butt"/>
<text x="120.7" y="2179.2" font-size="27.4" text-anchor="start">Untransduced T cells</text>
<text x="120.7" y="2212.8" font-size="27.4" text-anchor="start">+ CBD-IL-12 (n=4)</text>
<line x1="52.6" y1="2256.3" x2="95.8" y2="2256.3" stroke="#8B4F9F" stroke-width="4.6" stroke-linecap="butt"/>
<line x1="74.2" y1="2256.3" x2="74.2" y2="2250.8" stroke="#8B4F9F" stroke-width="3.4" stroke-linecap="butt"/>
<text x="120.7" y="2250.4" font-size="27.4" text-anchor="start">STEAP1-mBBζ CAR T cells</text>
<text x="120.7" y="2284.0" font-size="27.4" text-anchor="start">+ CBD-IL-12 (n=5)</text>
<line x1="550.7" y1="2091.8" x2="550.7" y2="2146.3" stroke="#000" stroke-width="3.8" stroke-linecap="butt"/>
<line x1="596.3" y1="2091.8" x2="596.3" y2="2254.7" stroke="#000" stroke-width="3.8" stroke-linecap="butt"/>
<line x1="643.0" y1="2132.6" x2="643.0" y2="2254.7" stroke="#000" stroke-width="3.8" stroke-linecap="butt"/>
<line x1="685.1" y1="2188.3" x2="685.1" y2="2254.7" stroke="#000" stroke-width="3.8" stroke-linecap="butt"/>
<text transform="translate(576.5,2114) rotate(-90)" font-size="26.2" text-anchor="middle">p=0.049</text>
<text transform="translate(624.2,2175) rotate(-90)" font-size="26.2" text-anchor="middle">p=0.0019</text>
<text transform="translate(672.5,2203.3) rotate(-90)" font-size="26.2" text-anchor="middle">p=0.025</text>
<text transform="translate(714.5,2219.8) rotate(-90)" font-size="26.2" text-anchor="middle">p=0.01</text>
<text transform="translate(699.9,1612.0) scale(0.93,1)" font-size="56" font-weight="bold">e</text>
<text x="844.0" y="1678.6" font-size="32.5" text-anchor="start">IFN-γ</text>
<path d="M817.2,1688.0 V2029.9" stroke="#000" stroke-width="3.9" fill="none"/>
<line x1="799.8" y1="2029.9" x2="1328.5" y2="2029.9" stroke="#000" stroke-width="3.9" stroke-linecap="butt"/>
<line x1="799.8" y1="2029.9" x2="817.2" y2="2029.9" stroke="#000" stroke-width="3.6" stroke-linecap="butt"/>
<text x="783.5" y="2037.9" font-size="29.5" text-anchor="end">10</text>
<text x="784.8" y="2028.4" font-size="17.5">-1</text>
<line x1="810.3" y1="2004.2" x2="817.2" y2="2004.2" stroke="#000" stroke-width="3.1" stroke-linecap="butt"/>
<line x1="810.3" y1="1989.1" x2="817.2" y2="1989.1" stroke="#000" stroke-width="3.1" stroke-linecap="butt"/>
<line x1="810.3" y1="1978.4" x2="817.2" y2="1978.4" stroke="#000" stroke-width="3.1" stroke-linecap="butt"/>
<line x1="810.3" y1="1970.2" x2="817.2" y2="1970.2" stroke="#000" stroke-width="3.1" stroke-linecap="butt"/>
<line x1="810.3" y1="1963.4" x2="817.2" y2="1963.4" stroke="#000" stroke-width="3.1" stroke-linecap="butt"/>
<line x1="810.3" y1="1957.7" x2="817.2" y2="1957.7" stroke="#000" stroke-width="3.1" stroke-linecap="butt"/>
<line x1="810.3" y1="1952.7" x2="817.2" y2="1952.7" stroke="#000" stroke-width="3.1" stroke-linecap="butt"/>
<line x1="810.3" y1="1948.3" x2="817.2" y2="1948.3" stroke="#000" stroke-width="3.1" stroke-linecap="butt"/>
<line x1="799.8" y1="1944.4" x2="817.2" y2="1944.4" stroke="#000" stroke-width="3.6" stroke-linecap="butt"/>
<text x="783.5" y="1952.4" font-size="29.5" text-anchor="end">10</text>
<text x="784.8" y="1942.9" font-size="17.5">0</text>
<line x1="810.3" y1="1918.7" x2="817.2" y2="1918.7" stroke="#000" stroke-width="3.1" stroke-linecap="butt"/>
<line x1="810.3" y1="1903.6" x2="817.2" y2="1903.6" stroke="#000" stroke-width="3.1" stroke-linecap="butt"/>
<line x1="810.3" y1="1893.0" x2="817.2" y2="1893.0" stroke="#000" stroke-width="3.1" stroke-linecap="butt"/>
<line x1="810.3" y1="1884.7" x2="817.2" y2="1884.7" stroke="#000" stroke-width="3.1" stroke-linecap="butt"/>
<line x1="810.3" y1="1877.9" x2="817.2" y2="1877.9" stroke="#000" stroke-width="3.1" stroke-linecap="butt"/>
<line x1="810.3" y1="1872.2" x2="817.2" y2="1872.2" stroke="#000" stroke-width="3.1" stroke-linecap="butt"/>
<line x1="810.3" y1="1867.2" x2="817.2" y2="1867.2" stroke="#000" stroke-width="3.1" stroke-linecap="butt"/>
<line x1="810.3" y1="1862.9" x2="817.2" y2="1862.9" stroke="#000" stroke-width="3.1" stroke-linecap="butt"/>
<line x1="799.8" y1="1859.0" x2="817.2" y2="1859.0" stroke="#000" stroke-width="3.6" stroke-linecap="butt"/>
<text x="783.5" y="1867.0" font-size="29.5" text-anchor="end">10</text>
<text x="784.8" y="1857.5" font-size="17.5">1</text>
<line x1="810.3" y1="1833.2" x2="817.2" y2="1833.2" stroke="#000" stroke-width="3.1" stroke-linecap="butt"/>
<line x1="810.3" y1="1818.2" x2="817.2" y2="1818.2" stroke="#000" stroke-width="3.1" stroke-linecap="butt"/>
<line x1="810.3" y1="1807.5" x2="817.2" y2="1807.5" stroke="#000" stroke-width="3.1" stroke-linecap="butt"/>
<line x1="810.3" y1="1799.2" x2="817.2" y2="1799.2" stroke="#000" stroke-width="3.1" stroke-linecap="butt"/>
<line x1="810.3" y1="1792.4" x2="817.2" y2="1792.4" stroke="#000" stroke-width="3.1" stroke-linecap="butt"/>
<line x1="810.3" y1="1786.7" x2="817.2" y2="1786.7" stroke="#000" stroke-width="3.1" stroke-linecap="butt"/>
<line x1="810.3" y1="1781.8" x2="817.2" y2="1781.8" stroke="#000" stroke-width="3.1" stroke-linecap="butt"/>
<line x1="810.3" y1="1777.4" x2="817.2" y2="1777.4" stroke="#000" stroke-width="3.1" stroke-linecap="butt"/>
<line x1="799.8" y1="1773.5" x2="817.2" y2="1773.5" stroke="#000" stroke-width="3.6" stroke-linecap="butt"/>
<text x="783.5" y="1781.5" font-size="29.5" text-anchor="end">10</text>
<text x="784.8" y="1772.0" font-size="17.5">2</text>
<line x1="810.3" y1="1747.7" x2="817.2" y2="1747.7" stroke="#000" stroke-width="3.1" stroke-linecap="butt"/>
<line x1="810.3" y1="1732.7" x2="817.2" y2="1732.7" stroke="#000" stroke-width="3.1" stroke-linecap="butt"/>
<line x1="810.3" y1="1722.0" x2="817.2" y2="1722.0" stroke="#000" stroke-width="3.1" stroke-linecap="butt"/>
<line x1="810.3" y1="1713.7" x2="817.2" y2="1713.7" stroke="#000" stroke-width="3.1" stroke-linecap="butt"/>
<line x1="810.3" y1="1707.0" x2="817.2" y2="1707.0" stroke="#000" stroke-width="3.1" stroke-linecap="butt"/>
<line x1="810.3" y1="1701.2" x2="817.2" y2="1701.2" stroke="#000" stroke-width="3.1" stroke-linecap="butt"/>
<line x1="810.3" y1="1696.3" x2="817.2" y2="1696.3" stroke="#000" stroke-width="3.1" stroke-linecap="butt"/>
<line x1="810.3" y1="1691.9" x2="817.2" y2="1691.9" stroke="#000" stroke-width="3.1" stroke-linecap="butt"/>
<line x1="799.8" y1="1688.0" x2="817.2" y2="1688.0" stroke="#000" stroke-width="3.6" stroke-linecap="butt"/>
<text x="783.5" y="1696.0" font-size="29.5" text-anchor="end">10</text>
<text x="784.8" y="1686.5" font-size="17.5">3</text>
<line x1="846.8" y1="2029.9" x2="846.8" y2="2043.4" stroke="#000" stroke-width="3.8" stroke-linecap="butt"/>
<line x1="896.4" y1="2029.9" x2="896.4" y2="2043.4" stroke="#000" stroke-width="3.8" stroke-linecap="butt"/>
<line x1="978.8" y1="2029.9" x2="978.8" y2="2043.4" stroke="#000" stroke-width="3.8" stroke-linecap="butt"/>
<line x1="1028.9" y1="2029.9" x2="1028.9" y2="2043.4" stroke="#000" stroke-width="3.8" stroke-linecap="butt"/>
<line x1="1111.3" y1="2029.9" x2="1111.3" y2="2043.4" stroke="#000" stroke-width="3.8" stroke-linecap="butt"/>
<line x1="1161.0" y1="2029.9" x2="1161.0" y2="2043.4" stroke="#000" stroke-width="3.8" stroke-linecap="butt"/>
<line x1="1243.3" y1="2029.9" x2="1243.3" y2="2043.4" stroke="#000" stroke-width="3.8" stroke-linecap="butt"/>
<line x1="1292.6" y1="2029.9" x2="1292.6" y2="2043.4" stroke="#000" stroke-width="3.8" stroke-linecap="butt"/>
<path d="M830.0,2028.9 V2016.9 H863.6 V2028.9" fill="none" stroke="#3A54A4" stroke-width="2.6"/>
<path d="M879.6,2028.9 V1991.8 H913.2 V2028.9" fill="none" stroke="#3A54A4" stroke-width="2.6"/>
<path d="M962.0,2028.9 V2022.7 H995.6 V2028.9" fill="none" stroke="#ED1C24" stroke-width="2.6"/>
<path d="M1012.1,2028.9 V2003.7 H1045.7 V2028.9" fill="none" stroke="#ED1C24" stroke-width="2.6"/>
<path d="M1094.5,2028.9 V2024.2 H1128.1 V2028.9" fill="none" stroke="#2DB34A" stroke-width="2.6"/>
<path d="M1144.2,2028.9 V1740.5 H1177.8 V2028.9" fill="none" stroke="#2DB34A" stroke-width="2.6"/>
<path d="M1226.5,2028.9 V2012.2 H1260.1 V2028.9" fill="none" stroke="#8B4F9F" stroke-width="2.6"/>
<path d="M1275.8,2028.9 V1713.8 H1309.4 V2028.9" fill="none" stroke="#8B4F9F" stroke-width="2.6"/>
<line x1="846.8" y1="2009.5" x2="846.8" y2="2024.0" stroke="#3A54A4" stroke-width="2.6" stroke-linecap="butt"/>
<line x1="838.5" y1="2009.5" x2="855.1" y2="2009.5" stroke="#3A54A4" stroke-width="2.6" stroke-linecap="butt"/>
<line x1="838.5" y1="2024.0" x2="855.1" y2="2024.0" stroke="#3A54A4" stroke-width="2.6" stroke-linecap="butt"/>
<line x1="896.4" y1="1984.4" x2="896.4" y2="2001.2" stroke="#3A54A4" stroke-width="2.6" stroke-linecap="butt"/>
<line x1="888.1" y1="1984.4" x2="904.7" y2="1984.4" stroke="#3A54A4" stroke-width="2.6" stroke-linecap="butt"/>
<line x1="888.1" y1="2001.2" x2="904.7" y2="2001.2" stroke="#3A54A4" stroke-width="2.6" stroke-linecap="butt"/>
<line x1="978.8" y1="2018.5" x2="978.8" y2="2026.0" stroke="#ED1C24" stroke-width="2.6" stroke-linecap="butt"/>
<line x1="970.5" y1="2018.5" x2="987.1" y2="2018.5" stroke="#ED1C24" stroke-width="2.6" stroke-linecap="butt"/>
<line x1="970.5" y1="2026.0" x2="987.1" y2="2026.0" stroke="#ED1C24" stroke-width="2.6" stroke-linecap="butt"/>
<line x1="1028.9" y1="1999.6" x2="1028.9" y2="2009.5" stroke="#ED1C24" stroke-width="2.6" stroke-linecap="butt"/>
<line x1="1020.6" y1="1999.6" x2="1037.2" y2="1999.6" stroke="#ED1C24" stroke-width="2.6" stroke-linecap="butt"/>
<line x1="1020.6" y1="2009.5" x2="1037.2" y2="2009.5" stroke="#ED1C24" stroke-width="2.6" stroke-linecap="butt"/>
<line x1="1111.3" y1="2020.0" x2="1111.3" y2="2027.0" stroke="#2DB34A" stroke-width="2.6" stroke-linecap="butt"/>
<line x1="1103.0" y1="2020.0" x2="1119.6" y2="2020.0" stroke="#2DB34A" stroke-width="2.6" stroke-linecap="butt"/>
<line x1="1103.0" y1="2027.0" x2="1119.6" y2="2027.0" stroke="#2DB34A" stroke-width="2.6" stroke-linecap="butt"/>
<line x1="1161.0" y1="1727.4" x2="1161.0" y2="1761.0" stroke="#2DB34A" stroke-width="2.6" stroke-linecap="butt"/>
<line x1="1152.7" y1="1727.4" x2="1169.3" y2="1727.4" stroke="#2DB34A" stroke-width="2.6" stroke-linecap="butt"/>
<line x1="1152.7" y1="1761.0" x2="1169.3" y2="1761.0" stroke="#2DB34A" stroke-width="2.6" stroke-linecap="butt"/>
<line x1="1243.3" y1="2008.0" x2="1243.3" y2="2016.0" stroke="#8B4F9F" stroke-width="2.6" stroke-linecap="butt"/>
<line x1="1235.0" y1="2008.0" x2="1251.6" y2="2008.0" stroke="#8B4F9F" stroke-width="2.6" stroke-linecap="butt"/>
<line x1="1235.0" y1="2016.0" x2="1251.6" y2="2016.0" stroke="#8B4F9F" stroke-width="2.6" stroke-linecap="butt"/>
<line x1="1292.6" y1="1700.0" x2="1292.6" y2="1736.4" stroke="#8B4F9F" stroke-width="2.6" stroke-linecap="butt"/>
<line x1="1284.3" y1="1700.0" x2="1300.9" y2="1700.0" stroke="#8B4F9F" stroke-width="2.6" stroke-linecap="butt"/>
<line x1="1284.3" y1="1736.4" x2="1300.9" y2="1736.4" stroke="#8B4F9F" stroke-width="2.6" stroke-linecap="butt"/>
<circle cx="846.8" cy="1997.6" r="5.3" fill="#3A54A4"/>
<circle cx="836.9" cy="2023.5" r="5.3" fill="#3A54A4"/>
<circle cx="846.8" cy="2028.4" r="5.3" fill="#3A54A4"/>
<circle cx="855.9" cy="2028.4" r="5.3" fill="#3A54A4"/>
<circle cx="896.4" cy="1973.5" r="5.3" fill="#3A54A4"/>
<circle cx="888.9" cy="1995.5" r="5.3" fill="#3A54A4"/>
<circle cx="903.7" cy="1995.5" r="5.3" fill="#3A54A4"/>
<circle cx="896.4" cy="2014.4" r="5.3" fill="#3A54A4"/>
<circle cx="969.7" cy="2013.6" r="5.3" fill="#ED1C24"/>
<circle cx="987.8" cy="2021.9" r="5.3" fill="#ED1C24"/>
<circle cx="978.8" cy="2028.4" r="5.3" fill="#ED1C24"/>
<circle cx="983.0" cy="2024.0" r="5.3" fill="#ED1C24"/>
<circle cx="1020.8" cy="1994.6" r="5.3" fill="#ED1C24"/>
<circle cx="1043.9" cy="1999.3" r="5.3" fill="#ED1C24"/>
<circle cx="1035.6" cy="2010.8" r="5.3" fill="#ED1C24"/>
<circle cx="1020.8" cy="2019.0" r="5.3" fill="#ED1C24"/>
<circle cx="1101.5" cy="2018.0" r="5.3" fill="#2DB34A"/>
<circle cx="1121.0" cy="2021.0" r="5.3" fill="#2DB34A"/>
<circle cx="1111.3" cy="2028.5" r="5.3" fill="#2DB34A"/>
<circle cx="1108.0" cy="2026.0" r="5.3" fill="#2DB34A"/>
<circle cx="1161.0" cy="1712.4" r="5.3" fill="#2DB34A"/>
<circle cx="1161.0" cy="1739.3" r="5.3" fill="#2DB34A"/>
<circle cx="1161.0" cy="1759.9" r="5.3" fill="#2DB34A"/>
<circle cx="1161.0" cy="1793.6" r="5.3" fill="#2DB34A"/>
<circle cx="1237.0" cy="2013.0" r="5.3" fill="#8B4F9F"/>
<circle cx="1251.0" cy="2013.0" r="5.3" fill="#8B4F9F"/>
<circle cx="1243.3" cy="2019.0" r="5.3" fill="#8B4F9F"/>
<circle cx="1247.0" cy="2017.0" r="5.3" fill="#8B4F9F"/>
<circle cx="1285.2" cy="1691.8" r="5.3" fill="#8B4F9F"/>
<circle cx="1300.6" cy="1691.8" r="5.3" fill="#8B4F9F"/>
<circle cx="1292.9" cy="1761.8" r="5.3" fill="#8B4F9F"/>
<circle cx="1292.9" cy="1783.2" r="5.3" fill="#8B4F9F"/>
<path d="M1245.6,1694 V1668.2 H1294 V1675.6" fill="none" stroke="#000" stroke-width="3.2"/>
<text x="1221.5" y="1650.4" font-size="26.5" text-anchor="start">p=0.002</text>
<text transform="translate(736.4,1846.2) rotate(-90)" font-size="29.2" text-anchor="middle">Concentration (pg/ml)</text>
<text x="1461.5" y="1678.1" font-size="32.3" text-anchor="start">TNF-α</text>
<line x1="1434.3" y1="1680.5" x2="1434.3" y2="2028.3" stroke="#000" stroke-width="3.9" stroke-linecap="butt"/>
<line x1="1422.7" y1="2028.3" x2="1955.7" y2="2028.3" stroke="#000" stroke-width="3.9" stroke-linecap="butt"/>
<line x1="1420.5" y1="2028.3" x2="1434.3" y2="2028.3" stroke="#000" stroke-width="3.6" stroke-linecap="butt"/>
<text x="1417.5" y="2038.8" font-size="29.5" text-anchor="end">0</text>
<line x1="1420.5" y1="1941.7" x2="1434.3" y2="1941.7" stroke="#000" stroke-width="3.6" stroke-linecap="butt"/>
<text x="1417.5" y="1952.2" font-size="29.5" text-anchor="end">2</text>
<line x1="1420.5" y1="1855.2" x2="1434.3" y2="1855.2" stroke="#000" stroke-width="3.6" stroke-linecap="butt"/>
<text x="1417.5" y="1865.7" font-size="29.5" text-anchor="end">4</text>
<line x1="1420.5" y1="1768.6" x2="1434.3" y2="1768.6" stroke="#000" stroke-width="3.6" stroke-linecap="butt"/>
<text x="1417.5" y="1779.1" font-size="29.5" text-anchor="end">6</text>
<line x1="1420.5" y1="1682.0" x2="1434.3" y2="1682.0" stroke="#000" stroke-width="3.6" stroke-linecap="butt"/>
<text x="1417.5" y="1692.5" font-size="29.5" text-anchor="end">8</text>
<line x1="1467.8" y1="2028.3" x2="1467.8" y2="2041.8" stroke="#000" stroke-width="3.8" stroke-linecap="butt"/>
<line x1="1517.8" y1="2028.3" x2="1517.8" y2="2041.8" stroke="#000" stroke-width="3.8" stroke-linecap="butt"/>
<line x1="1601.7" y1="2028.3" x2="1601.7" y2="2041.8" stroke="#000" stroke-width="3.8" stroke-linecap="butt"/>
<line x1="1651.7" y1="2028.3" x2="1651.7" y2="2041.8" stroke="#000" stroke-width="3.8" stroke-linecap="butt"/>
<line x1="1735.2" y1="2028.3" x2="1735.2" y2="2041.8" stroke="#000" stroke-width="3.8" stroke-linecap="butt"/>
<line x1="1785.6" y1="2028.3" x2="1785.6" y2="2041.8" stroke="#000" stroke-width="3.8" stroke-linecap="butt"/>
<line x1="1869.9" y1="2028.3" x2="1869.9" y2="2041.8" stroke="#000" stroke-width="3.8" stroke-linecap="butt"/>
<line x1="1919.2" y1="2028.3" x2="1919.2" y2="2041.8" stroke="#000" stroke-width="3.8" stroke-linecap="butt"/>
<path d="M1450.8,2027.3 V2015.6 H1484.8 V2027.3" fill="none" stroke="#3A54A4" stroke-width="2.6"/>
<path d="M1500.8,2027.3 V2006.0 H1534.8 V2027.3" fill="none" stroke="#3A54A4" stroke-width="2.6"/>
<path d="M1584.7,2027.3 V2012.9 H1618.7 V2027.3" fill="none" stroke="#ED1C24" stroke-width="2.6"/>
<path d="M1634.7,2027.3 V2014.8 H1668.7 V2027.3" fill="none" stroke="#ED1C24" stroke-width="2.6"/>
<path d="M1718.2,2027.3 V2014.8 H1752.2 V2027.3" fill="none" stroke="#2DB34A" stroke-width="2.6"/>
<path d="M1768.6,2027.3 V1842.8 H1802.6 V2027.3" fill="none" stroke="#2DB34A" stroke-width="2.6"/>
<path d="M1852.9,2027.3 V2016.8 H1886.9 V2027.3" fill="none" stroke="#8B4F9F" stroke-width="2.6"/>
<path d="M1902.2,2027.3 V1795.5 H1936.2 V2027.3" fill="none" stroke="#8B4F9F" stroke-width="2.6"/>
<line x1="1785.6" y1="1808.2" x2="1785.6" y2="1877.5" stroke="#2DB34A" stroke-width="2.6" stroke-linecap="butt"/>
<line x1="1777.3" y1="1808.2" x2="1793.9" y2="1808.2" stroke="#2DB34A" stroke-width="2.6" stroke-linecap="butt"/>
<line x1="1777.3" y1="1877.5" x2="1793.9" y2="1877.5" stroke="#2DB34A" stroke-width="2.6" stroke-linecap="butt"/>
<line x1="1919.2" y1="1762.8" x2="1919.2" y2="1829.4" stroke="#8B4F9F" stroke-width="2.6" stroke-linecap="butt"/>
<line x1="1910.9" y1="1762.8" x2="1927.5" y2="1762.8" stroke="#8B4F9F" stroke-width="2.6" stroke-linecap="butt"/>
<line x1="1910.9" y1="1829.4" x2="1927.5" y2="1829.4" stroke="#8B4F9F" stroke-width="2.6" stroke-linecap="butt"/>
<circle cx="1459.5" cy="2014.0" r="5.3" fill="#3A54A4"/>
<circle cx="1470.0" cy="2016.0" r="5.3" fill="#3A54A4"/>
<circle cx="1476.0" cy="2010.0" r="5.3" fill="#3A54A4"/>
<circle cx="1509.0" cy="2005.0" r="5.3" fill="#3A54A4"/>
<circle cx="1519.0" cy="2010.0" r="5.3" fill="#3A54A4"/>
<circle cx="1527.0" cy="2002.0" r="5.3" fill="#3A54A4"/>
<circle cx="1595.0" cy="2012.0" r="5.3" fill="#ED1C24"/>
<circle cx="1609.0" cy="2016.0" r="5.3" fill="#ED1C24"/>
<circle cx="1610.0" cy="2001.0" r="5.3" fill="#ED1C24"/>
<circle cx="1603.0" cy="2018.0" r="5.3" fill="#ED1C24"/>
<circle cx="1645.0" cy="2014.0" r="5.3" fill="#ED1C24"/>
<circle cx="1657.0" cy="2016.0" r="5.3" fill="#ED1C24"/>
<circle cx="1660.0" cy="2009.0" r="5.3" fill="#ED1C24"/>
<circle cx="1729.0" cy="2012.0" r="5.3" fill="#2DB34A"/>
<circle cx="1743.0" cy="2014.0" r="5.3" fill="#2DB34A"/>
<circle cx="1740.0" cy="2009.0" r="5.3" fill="#2DB34A"/>
<circle cx="1733.0" cy="2019.0" r="5.3" fill="#2DB34A"/>
<circle cx="1785.6" cy="1751.2" r="5.3" fill="#2DB34A"/>
<circle cx="1785.6" cy="1829.4" r="5.3" fill="#2DB34A"/>
<circle cx="1785.6" cy="1885.2" r="5.3" fill="#2DB34A"/>
<circle cx="1785.6" cy="1905.2" r="5.3" fill="#2DB34A"/>
<circle cx="1863.0" cy="2016.0" r="5.3" fill="#8B4F9F"/>
<circle cx="1875.0" cy="2018.0" r="5.3" fill="#8B4F9F"/>
<circle cx="1877.0" cy="2012.0" r="5.3" fill="#8B4F9F"/>
<circle cx="1866.0" cy="2020.0" r="5.3" fill="#8B4F9F"/>
<circle cx="1919.2" cy="1703.1" r="5.3" fill="#8B4F9F"/>
<circle cx="1912.2" cy="1807.8" r="5.3" fill="#8B4F9F"/>
<circle cx="1926.8" cy="1807.8" r="5.3" fill="#8B4F9F"/>
<circle cx="1919.2" cy="1864.0" r="5.3" fill="#8B4F9F"/>
<path d="M1736.4,1748.6 V1723.2 H1785.2 V1730.9" fill="none" stroke="#000" stroke-width="3.2"/>
<path d="M1870.3,1696.2 V1671.6 H1918.4 V1678.1" fill="none" stroke="#000" stroke-width="3.2"/>
<text x="1707.8" y="1711.6" font-size="26" text-anchor="start">p&lt;0.0001</text>
<text x="1841.3" y="1658.9" font-size="26" text-anchor="start">p&lt;0.0001</text>
<text transform="translate(1384.2,1845.5) rotate(-90)" font-size="29.2" text-anchor="middle">Concentration (pg/ml)</text>
<text transform="translate(858.0,2054.6) rotate(-54)" font-size="29" text-anchor="end">Day 0</text>
<text transform="translate(907.6,2054.6) rotate(-54)" font-size="29" text-anchor="end">Day 8</text>
<text transform="translate(990.0,2054.6) rotate(-54)" font-size="29" text-anchor="end">Day 0</text>
<text transform="translate(1040.1,2054.6) rotate(-54)" font-size="29" text-anchor="end">Day 8</text>
<text transform="translate(1122.5,2054.6) rotate(-54)" font-size="29" text-anchor="end">Day 0</text>
<text transform="translate(1172.2,2054.6) rotate(-54)" font-size="29" text-anchor="end">Day 8</text>
<text transform="translate(1254.5,2054.6) rotate(-54)" font-size="29" text-anchor="end">Day 0</text>
<text transform="translate(1303.8,2054.6) rotate(-54)" font-size="29" text-anchor="end">Day 8</text>
<text transform="translate(1479.0,2053.0) rotate(-54)" font-size="29" text-anchor="end">Day 0</text>
<text transform="translate(1529.0,2053.0) rotate(-54)" font-size="29" text-anchor="end">Day 8</text>
<text transform="translate(1612.9,2053.0) rotate(-54)" font-size="29" text-anchor="end">Day 0</text>
<text transform="translate(1662.9,2053.0) rotate(-54)" font-size="29" text-anchor="end">Day 8</text>
<text transform="translate(1746.4,2053.0) rotate(-54)" font-size="29" text-anchor="end">Day 0</text>
<text transform="translate(1796.8,2053.0) rotate(-54)" font-size="29" text-anchor="end">Day 8</text>
<text transform="translate(1881.1,2053.0) rotate(-54)" font-size="29" text-anchor="end">Day 0</text>
<text transform="translate(1930.4,2053.0) rotate(-54)" font-size="29" text-anchor="end">Day 8</text>
<circle cx="870.6" cy="2169.3" r="8.2" fill="#3A54A4"/>
<circle cx="870.6" cy="2218.4" r="8.2" fill="#ED1C24"/>
<circle cx="1327.2" cy="2169.3" r="8.2" fill="#2DB34A"/>
<circle cx="1327.2" cy="2218.4" r="8.2" fill="#8B4F9F"/>
<text x="915.8" y="2182.0" font-size="29.5" text-anchor="start">Untransduced T cells</text>
<text x="915.8" y="2231.1" font-size="29.5" text-anchor="start">STEAP1-mBBζ CAR T cells</text>
<text x="1369.9" y="2182.0" font-size="29.5" text-anchor="start">Untransduced T cells + CBD-IL-12</text>
<text x="1369.9" y="2231.1" font-size="29.5" text-anchor="start">STEAP1-mBBζ CAR T cells + CBD-IL-12</text>
</svg>
</body></html>
